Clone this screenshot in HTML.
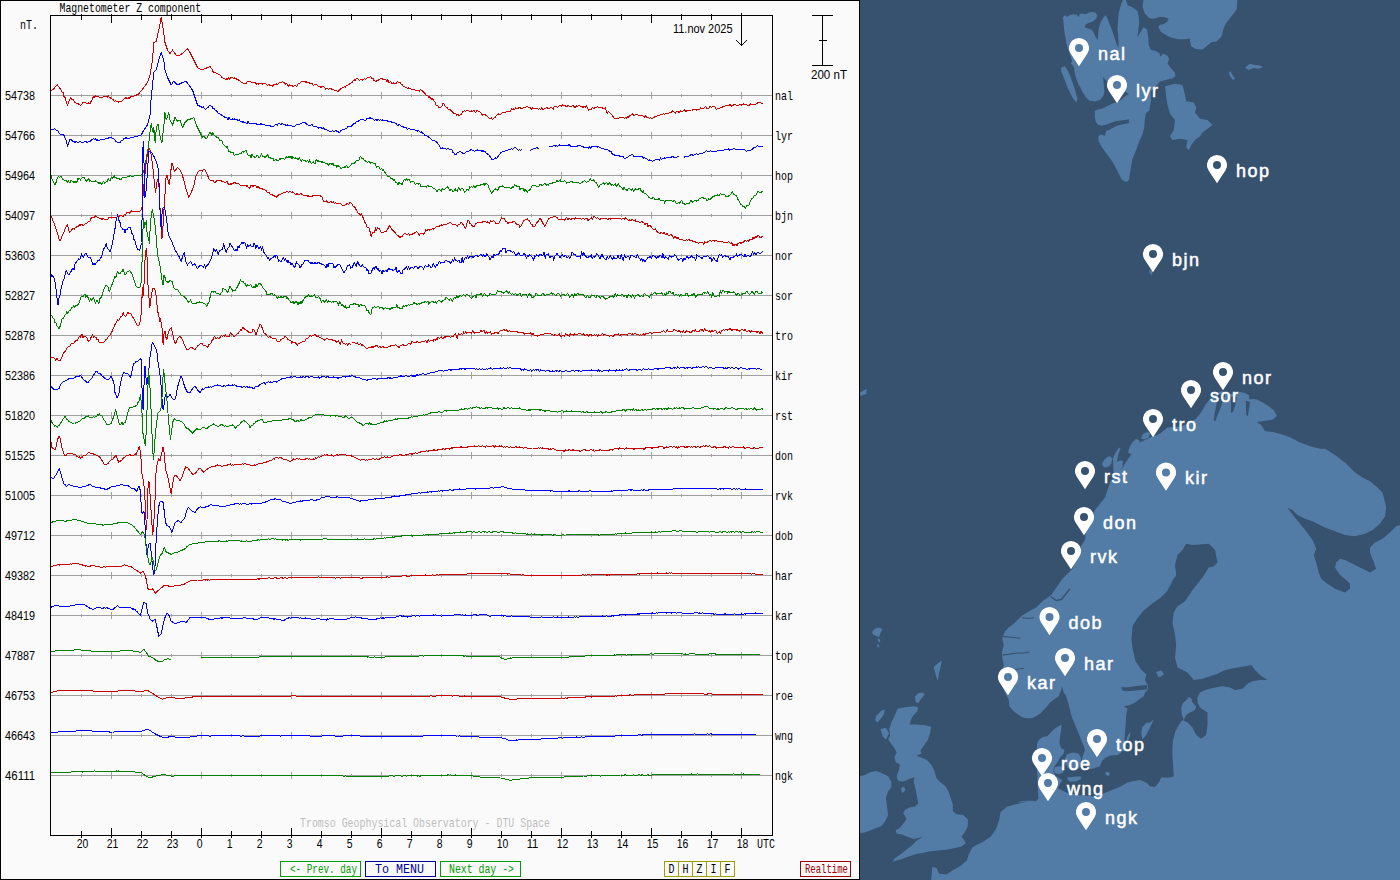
<!DOCTYPE html><html><head><meta charset="utf-8"><title>Magnetometer Z component</title><style>
html,body{margin:0;padding:0;width:1400px;height:880px;overflow:hidden;background:#fff}
svg{display:block}
.m{font-family:"Liberation Sans",Arial,sans-serif;font-size:12.6px}
.mm{font-family:"Liberation Mono","DejaVu Sans Mono",monospace;font-size:13px}
.lb{font-family:"Liberation Sans",Arial,sans-serif;font-weight:normal;font-size:18px;letter-spacing:1.5px;fill:#fff;stroke:#fff;stroke-width:0.5px}
</style></head><body>
<svg width="1400" height="880" viewBox="0 0 1400 880">
<rect x="0" y="0" width="860" height="880" fill="#fafafa"/>
<g shape-rendering="crispEdges" fill="none">
<path d="M0.5,0 V880 M0,0.5 H860 M859.5,0 V880 M0,879.5 H860" stroke="#000"/>
<path d="M51,95.5 H772 M81.5,94 V97 M111.5,92 V99 M141.5,94 V97 M171.5,94 V97 M201.5,92 V99 M231.5,94 V97 M261.5,94 V97 M291.5,92 V99 M321.5,94 V97 M351.5,94 V97 M381.5,92 V99 M411.5,94 V97 M441.5,94 V97 M471.5,92 V99 M501.5,94 V97 M531.5,94 V97 M561.5,92 V99 M591.5,94 V97 M621.5,94 V97 M651.5,92 V99 M681.5,94 V97 M711.5,94 V97 M741.5,92 V99 M51,135.5 H772 M81.5,134 V137 M111.5,132 V139 M141.5,134 V137 M171.5,134 V137 M201.5,132 V139 M231.5,134 V137 M261.5,134 V137 M291.5,132 V139 M321.5,134 V137 M351.5,134 V137 M381.5,132 V139 M411.5,134 V137 M441.5,134 V137 M471.5,132 V139 M501.5,134 V137 M531.5,134 V137 M561.5,132 V139 M591.5,134 V137 M621.5,134 V137 M651.5,132 V139 M681.5,134 V137 M711.5,134 V137 M741.5,132 V139 M51,175.5 H772 M81.5,174 V177 M111.5,172 V179 M141.5,174 V177 M171.5,174 V177 M201.5,172 V179 M231.5,174 V177 M261.5,174 V177 M291.5,172 V179 M321.5,174 V177 M351.5,174 V177 M381.5,172 V179 M411.5,174 V177 M441.5,174 V177 M471.5,172 V179 M501.5,174 V177 M531.5,174 V177 M561.5,172 V179 M591.5,174 V177 M621.5,174 V177 M651.5,172 V179 M681.5,174 V177 M711.5,174 V177 M741.5,172 V179 M51,215.5 H772 M81.5,214 V217 M111.5,212 V219 M141.5,214 V217 M171.5,214 V217 M201.5,212 V219 M231.5,214 V217 M261.5,214 V217 M291.5,212 V219 M321.5,214 V217 M351.5,214 V217 M381.5,212 V219 M411.5,214 V217 M441.5,214 V217 M471.5,212 V219 M501.5,214 V217 M531.5,214 V217 M561.5,212 V219 M591.5,214 V217 M621.5,214 V217 M651.5,212 V219 M681.5,214 V217 M711.5,214 V217 M741.5,212 V219 M51,255.5 H772 M81.5,254 V257 M111.5,252 V259 M141.5,254 V257 M171.5,254 V257 M201.5,252 V259 M231.5,254 V257 M261.5,254 V257 M291.5,252 V259 M321.5,254 V257 M351.5,254 V257 M381.5,252 V259 M411.5,254 V257 M441.5,254 V257 M471.5,252 V259 M501.5,254 V257 M531.5,254 V257 M561.5,252 V259 M591.5,254 V257 M621.5,254 V257 M651.5,252 V259 M681.5,254 V257 M711.5,254 V257 M741.5,252 V259 M51,295.5 H772 M81.5,294 V297 M111.5,292 V299 M141.5,294 V297 M171.5,294 V297 M201.5,292 V299 M231.5,294 V297 M261.5,294 V297 M291.5,292 V299 M321.5,294 V297 M351.5,294 V297 M381.5,292 V299 M411.5,294 V297 M441.5,294 V297 M471.5,292 V299 M501.5,294 V297 M531.5,294 V297 M561.5,292 V299 M591.5,294 V297 M621.5,294 V297 M651.5,292 V299 M681.5,294 V297 M711.5,294 V297 M741.5,292 V299 M51,335.5 H772 M81.5,334 V337 M111.5,332 V339 M141.5,334 V337 M171.5,334 V337 M201.5,332 V339 M231.5,334 V337 M261.5,334 V337 M291.5,332 V339 M321.5,334 V337 M351.5,334 V337 M381.5,332 V339 M411.5,334 V337 M441.5,334 V337 M471.5,332 V339 M501.5,334 V337 M531.5,334 V337 M561.5,332 V339 M591.5,334 V337 M621.5,334 V337 M651.5,332 V339 M681.5,334 V337 M711.5,334 V337 M741.5,332 V339 M51,375.5 H772 M81.5,374 V377 M111.5,372 V379 M141.5,374 V377 M171.5,374 V377 M201.5,372 V379 M231.5,374 V377 M261.5,374 V377 M291.5,372 V379 M321.5,374 V377 M351.5,374 V377 M381.5,372 V379 M411.5,374 V377 M441.5,374 V377 M471.5,372 V379 M501.5,374 V377 M531.5,374 V377 M561.5,372 V379 M591.5,374 V377 M621.5,374 V377 M651.5,372 V379 M681.5,374 V377 M711.5,374 V377 M741.5,372 V379 M51,415.5 H772 M81.5,414 V417 M111.5,412 V419 M141.5,414 V417 M171.5,414 V417 M201.5,412 V419 M231.5,414 V417 M261.5,414 V417 M291.5,412 V419 M321.5,414 V417 M351.5,414 V417 M381.5,412 V419 M411.5,414 V417 M441.5,414 V417 M471.5,412 V419 M501.5,414 V417 M531.5,414 V417 M561.5,412 V419 M591.5,414 V417 M621.5,414 V417 M651.5,412 V419 M681.5,414 V417 M711.5,414 V417 M741.5,412 V419 M51,455.5 H772 M81.5,454 V457 M111.5,452 V459 M141.5,454 V457 M171.5,454 V457 M201.5,452 V459 M231.5,454 V457 M261.5,454 V457 M291.5,452 V459 M321.5,454 V457 M351.5,454 V457 M381.5,452 V459 M411.5,454 V457 M441.5,454 V457 M471.5,452 V459 M501.5,454 V457 M531.5,454 V457 M561.5,452 V459 M591.5,454 V457 M621.5,454 V457 M651.5,452 V459 M681.5,454 V457 M711.5,454 V457 M741.5,452 V459 M51,495.5 H772 M81.5,494 V497 M111.5,492 V499 M141.5,494 V497 M171.5,494 V497 M201.5,492 V499 M231.5,494 V497 M261.5,494 V497 M291.5,492 V499 M321.5,494 V497 M351.5,494 V497 M381.5,492 V499 M411.5,494 V497 M441.5,494 V497 M471.5,492 V499 M501.5,494 V497 M531.5,494 V497 M561.5,492 V499 M591.5,494 V497 M621.5,494 V497 M651.5,492 V499 M681.5,494 V497 M711.5,494 V497 M741.5,492 V499 M51,535.5 H772 M81.5,534 V537 M111.5,532 V539 M141.5,534 V537 M171.5,534 V537 M201.5,532 V539 M231.5,534 V537 M261.5,534 V537 M291.5,532 V539 M321.5,534 V537 M351.5,534 V537 M381.5,532 V539 M411.5,534 V537 M441.5,534 V537 M471.5,532 V539 M501.5,534 V537 M531.5,534 V537 M561.5,532 V539 M591.5,534 V537 M621.5,534 V537 M651.5,532 V539 M681.5,534 V537 M711.5,534 V537 M741.5,532 V539 M51,575.5 H772 M81.5,574 V577 M111.5,572 V579 M141.5,574 V577 M171.5,574 V577 M201.5,572 V579 M231.5,574 V577 M261.5,574 V577 M291.5,572 V579 M321.5,574 V577 M351.5,574 V577 M381.5,572 V579 M411.5,574 V577 M441.5,574 V577 M471.5,572 V579 M501.5,574 V577 M531.5,574 V577 M561.5,572 V579 M591.5,574 V577 M621.5,574 V577 M651.5,572 V579 M681.5,574 V577 M711.5,574 V577 M741.5,572 V579 M51,615.5 H772 M81.5,614 V617 M111.5,612 V619 M141.5,614 V617 M171.5,614 V617 M201.5,612 V619 M231.5,614 V617 M261.5,614 V617 M291.5,612 V619 M321.5,614 V617 M351.5,614 V617 M381.5,612 V619 M411.5,614 V617 M441.5,614 V617 M471.5,612 V619 M501.5,614 V617 M531.5,614 V617 M561.5,612 V619 M591.5,614 V617 M621.5,614 V617 M651.5,612 V619 M681.5,614 V617 M711.5,614 V617 M741.5,612 V619 M51,655.5 H772 M81.5,654 V657 M111.5,652 V659 M141.5,654 V657 M171.5,654 V657 M201.5,652 V659 M231.5,654 V657 M261.5,654 V657 M291.5,652 V659 M321.5,654 V657 M351.5,654 V657 M381.5,652 V659 M411.5,654 V657 M441.5,654 V657 M471.5,652 V659 M501.5,654 V657 M531.5,654 V657 M561.5,652 V659 M591.5,654 V657 M621.5,654 V657 M651.5,652 V659 M681.5,654 V657 M711.5,654 V657 M741.5,652 V659 M51,695.5 H772 M81.5,694 V697 M111.5,692 V699 M141.5,694 V697 M171.5,694 V697 M201.5,692 V699 M231.5,694 V697 M261.5,694 V697 M291.5,692 V699 M321.5,694 V697 M351.5,694 V697 M381.5,692 V699 M411.5,694 V697 M441.5,694 V697 M471.5,692 V699 M501.5,694 V697 M531.5,694 V697 M561.5,692 V699 M591.5,694 V697 M621.5,694 V697 M651.5,692 V699 M681.5,694 V697 M711.5,694 V697 M741.5,692 V699 M51,735.5 H772 M81.5,734 V737 M111.5,732 V739 M141.5,734 V737 M171.5,734 V737 M201.5,732 V739 M231.5,734 V737 M261.5,734 V737 M291.5,732 V739 M321.5,734 V737 M351.5,734 V737 M381.5,732 V739 M411.5,734 V737 M441.5,734 V737 M471.5,732 V739 M501.5,734 V737 M531.5,734 V737 M561.5,732 V739 M591.5,734 V737 M621.5,734 V737 M651.5,732 V739 M681.5,734 V737 M711.5,734 V737 M741.5,732 V739 M51,775.5 H772 M81.5,774 V777 M111.5,772 V779 M141.5,774 V777 M171.5,774 V777 M201.5,772 V779 M231.5,774 V777 M261.5,774 V777 M291.5,772 V779 M321.5,774 V777 M351.5,774 V777 M381.5,772 V779 M411.5,774 V777 M441.5,774 V777 M471.5,772 V779 M501.5,774 V777 M531.5,774 V777 M561.5,772 V779 M591.5,774 V777 M621.5,774 V777 M651.5,772 V779 M681.5,774 V777 M711.5,774 V777 M741.5,772 V779" stroke="#a0a0a0"/>
<path d="M50.5,15 V836 M50,15.5 H773 M772.5,15 V836 M50,835.5 H773" stroke="#000"/>
<path d="M81.5,14 V20 M81.5,831 V838 M111.5,14 V23 M111.5,828 V838 M141.5,14 V20 M141.5,831 V838 M171.5,14 V20 M171.5,831 V838 M201.5,14 V23 M201.5,828 V838 M231.5,14 V20 M231.5,831 V838 M261.5,14 V20 M261.5,831 V838 M291.5,14 V23 M291.5,828 V838 M321.5,14 V20 M321.5,831 V838 M351.5,14 V20 M351.5,831 V838 M381.5,14 V23 M381.5,828 V838 M411.5,14 V20 M411.5,831 V838 M441.5,14 V20 M441.5,831 V838 M471.5,14 V23 M471.5,828 V838 M501.5,14 V20 M501.5,831 V838 M531.5,14 V20 M531.5,831 V838 M561.5,14 V23 M561.5,828 V838 M591.5,14 V20 M591.5,831 V838 M621.5,14 V20 M621.5,831 V838 M651.5,14 V23 M651.5,828 V838 M681.5,14 V20 M681.5,831 V838 M711.5,14 V20 M711.5,831 V838 M741.5,14 V23 M741.5,828 V838" stroke="#000"/>
<path d="M741.5,13 V46 M736.5,40.5 L741.5,45.5 L746.5,40.5" stroke="#000"/>
<path d="M812,15.5 H833 M822.5,15 V66 M812,65.5 H833 M819,40.5 H827" stroke="#000"/>
</g>
<text class="mm" x="59.5" y="12" fill="#000" textLength="141.6" lengthAdjust="spacingAndGlyphs">Magnetometer Z component</text>
<text class="mm" x="20" y="29" fill="#000" textLength="18.0" lengthAdjust="spacingAndGlyphs">nT.</text>
<text class="m" x="673" y="33" fill="#000" textLength="59.5" lengthAdjust="spacingAndGlyphs">11.nov 2025</text>
<text class="m" x="811" y="79" fill="#000" textLength="36.0" lengthAdjust="spacingAndGlyphs">200 nT</text>
<text class="m" x="5" y="100" fill="#000" textLength="30.0" lengthAdjust="spacingAndGlyphs">54738</text>
<text class="mm" x="775" y="100" fill="#000" textLength="18.0" lengthAdjust="spacingAndGlyphs">nal</text>
<text class="m" x="5" y="140" fill="#000" textLength="30.0" lengthAdjust="spacingAndGlyphs">54766</text>
<text class="mm" x="775" y="140" fill="#000" textLength="18.0" lengthAdjust="spacingAndGlyphs">lyr</text>
<text class="m" x="5" y="180" fill="#000" textLength="30.0" lengthAdjust="spacingAndGlyphs">54964</text>
<text class="mm" x="775" y="180" fill="#000" textLength="18.0" lengthAdjust="spacingAndGlyphs">hop</text>
<text class="m" x="5" y="220" fill="#000" textLength="30.0" lengthAdjust="spacingAndGlyphs">54097</text>
<text class="mm" x="775" y="220" fill="#000" textLength="18.0" lengthAdjust="spacingAndGlyphs">bjn</text>
<text class="m" x="5" y="260" fill="#000" textLength="30.0" lengthAdjust="spacingAndGlyphs">53603</text>
<text class="mm" x="775" y="260" fill="#000" textLength="18.0" lengthAdjust="spacingAndGlyphs">nor</text>
<text class="m" x="5" y="300" fill="#000" textLength="30.0" lengthAdjust="spacingAndGlyphs">52827</text>
<text class="mm" x="775" y="300" fill="#000" textLength="18.0" lengthAdjust="spacingAndGlyphs">sor</text>
<text class="m" x="5" y="340" fill="#000" textLength="30.0" lengthAdjust="spacingAndGlyphs">52878</text>
<text class="mm" x="775" y="340" fill="#000" textLength="18.0" lengthAdjust="spacingAndGlyphs">tro</text>
<text class="m" x="5" y="380" fill="#000" textLength="30.0" lengthAdjust="spacingAndGlyphs">52386</text>
<text class="mm" x="775" y="380" fill="#000" textLength="18.0" lengthAdjust="spacingAndGlyphs">kir</text>
<text class="m" x="5" y="420" fill="#000" textLength="30.0" lengthAdjust="spacingAndGlyphs">51820</text>
<text class="mm" x="775" y="420" fill="#000" textLength="18.0" lengthAdjust="spacingAndGlyphs">rst</text>
<text class="m" x="5" y="460" fill="#000" textLength="30.0" lengthAdjust="spacingAndGlyphs">51525</text>
<text class="mm" x="775" y="460" fill="#000" textLength="18.0" lengthAdjust="spacingAndGlyphs">don</text>
<text class="m" x="5" y="500" fill="#000" textLength="30.0" lengthAdjust="spacingAndGlyphs">51005</text>
<text class="mm" x="775" y="500" fill="#000" textLength="18.0" lengthAdjust="spacingAndGlyphs">rvk</text>
<text class="m" x="5" y="540" fill="#000" textLength="30.0" lengthAdjust="spacingAndGlyphs">49712</text>
<text class="mm" x="775" y="540" fill="#000" textLength="18.0" lengthAdjust="spacingAndGlyphs">dob</text>
<text class="m" x="5" y="580" fill="#000" textLength="30.0" lengthAdjust="spacingAndGlyphs">49382</text>
<text class="mm" x="775" y="580" fill="#000" textLength="18.0" lengthAdjust="spacingAndGlyphs">har</text>
<text class="m" x="5" y="620" fill="#000" textLength="30.0" lengthAdjust="spacingAndGlyphs">48419</text>
<text class="mm" x="775" y="620" fill="#000" textLength="18.0" lengthAdjust="spacingAndGlyphs">kar</text>
<text class="m" x="5" y="660" fill="#000" textLength="30.0" lengthAdjust="spacingAndGlyphs">47887</text>
<text class="mm" x="775" y="660" fill="#000" textLength="18.0" lengthAdjust="spacingAndGlyphs">top</text>
<text class="m" x="5" y="700" fill="#000" textLength="30.0" lengthAdjust="spacingAndGlyphs">46753</text>
<text class="mm" x="775" y="700" fill="#000" textLength="18.0" lengthAdjust="spacingAndGlyphs">roe</text>
<text class="m" x="5" y="740" fill="#000" textLength="30.0" lengthAdjust="spacingAndGlyphs">46643</text>
<text class="mm" x="775" y="740" fill="#000" textLength="18.0" lengthAdjust="spacingAndGlyphs">wng</text>
<text class="m" x="5" y="780" fill="#000" textLength="30.0" lengthAdjust="spacingAndGlyphs">46111</text>
<text class="mm" x="775" y="780" fill="#000" textLength="18.0" lengthAdjust="spacingAndGlyphs">ngk</text>
<text class="m" x="76.7" y="848" fill="#000" textLength="11.6" lengthAdjust="spacingAndGlyphs">20</text>
<text class="m" x="106.7" y="848" fill="#000" textLength="11.6" lengthAdjust="spacingAndGlyphs">21</text>
<text class="m" x="136.7" y="848" fill="#000" textLength="11.6" lengthAdjust="spacingAndGlyphs">22</text>
<text class="m" x="166.7" y="848" fill="#000" textLength="11.6" lengthAdjust="spacingAndGlyphs">23</text>
<text class="m" x="196.7" y="848" fill="#000" textLength="5.8" lengthAdjust="spacingAndGlyphs">0</text>
<text class="m" x="226.7" y="848" fill="#000" textLength="5.8" lengthAdjust="spacingAndGlyphs">1</text>
<text class="m" x="256.7" y="848" fill="#000" textLength="5.8" lengthAdjust="spacingAndGlyphs">2</text>
<text class="m" x="286.7" y="848" fill="#000" textLength="5.8" lengthAdjust="spacingAndGlyphs">3</text>
<text class="m" x="316.7" y="848" fill="#000" textLength="5.8" lengthAdjust="spacingAndGlyphs">4</text>
<text class="m" x="346.7" y="848" fill="#000" textLength="5.8" lengthAdjust="spacingAndGlyphs">5</text>
<text class="m" x="376.7" y="848" fill="#000" textLength="5.8" lengthAdjust="spacingAndGlyphs">6</text>
<text class="m" x="406.7" y="848" fill="#000" textLength="5.8" lengthAdjust="spacingAndGlyphs">7</text>
<text class="m" x="436.7" y="848" fill="#000" textLength="5.8" lengthAdjust="spacingAndGlyphs">8</text>
<text class="m" x="466.7" y="848" fill="#000" textLength="5.8" lengthAdjust="spacingAndGlyphs">9</text>
<text class="m" x="496.7" y="848" fill="#000" textLength="11.6" lengthAdjust="spacingAndGlyphs">10</text>
<text class="m" x="526.7" y="848" fill="#000" textLength="11.6" lengthAdjust="spacingAndGlyphs">11</text>
<text class="m" x="556.7" y="848" fill="#000" textLength="11.6" lengthAdjust="spacingAndGlyphs">12</text>
<text class="m" x="586.7" y="848" fill="#000" textLength="11.6" lengthAdjust="spacingAndGlyphs">13</text>
<text class="m" x="616.7" y="848" fill="#000" textLength="11.6" lengthAdjust="spacingAndGlyphs">14</text>
<text class="m" x="646.7" y="848" fill="#000" textLength="11.6" lengthAdjust="spacingAndGlyphs">15</text>
<text class="m" x="676.7" y="848" fill="#000" textLength="11.6" lengthAdjust="spacingAndGlyphs">16</text>
<text class="m" x="706.7" y="848" fill="#000" textLength="11.6" lengthAdjust="spacingAndGlyphs">17</text>
<text class="m" x="736.7" y="848" fill="#000" textLength="11.6" lengthAdjust="spacingAndGlyphs">18</text>
<text class="mm" x="757" y="848" fill="#000" textLength="18.0" lengthAdjust="spacingAndGlyphs">UTC</text>
<path d="M51.0,91.2 L52.1,90.1 L53.2,89.2 L54.2,88.5 L55.3,86.9 L56.4,85.9 L57.5,85.0 L58.4,86.4 L59.4,87.7 L60.3,88.9 L61.2,90.0 L62.2,92.1 L63.1,92.7 L64.1,96.9 L65.0,97.5 L66.2,101.6 L67.5,105.0 L68.8,101.7 L70.0,98.8 L71.0,97.7 L72.0,99.5 L73.0,99.2 L74.0,101.1 L75.0,102.5 L76.0,103.0 L77.0,103.9 L78.0,103.3 L79.0,104.5 L80.0,105.0 L81.0,105.0 L82.0,104.2 L83.0,102.4 L84.0,102.1 L85.0,102.5 L86.0,102.9 L87.0,104.3 L88.0,103.3 L89.0,102.8 L90.0,103.8 L90.9,101.5 L91.9,100.6 L92.8,97.8 L93.8,96.2 L94.8,97.3 L95.8,95.5 L96.9,96.7 L97.9,96.6 L99.0,96.8 L100.0,97.5 L101.0,97.9 L102.1,97.8 L103.1,97.0 L104.2,96.5 L105.2,96.9 L106.2,96.2 L107.2,97.4 L108.2,95.9 L109.2,97.4 L110.2,97.9 L111.2,98.8 L112.2,99.1 L113.2,99.5 L114.2,101.4 L115.2,100.6 L116.2,101.2 L117.5,101.2 L118.8,102.5 L119.8,101.4 L120.8,101.2 L121.9,101.1 L122.9,100.0 L124.0,98.7 L125.0,98.8 L125.9,97.8 L126.9,98.2 L127.8,98.8 L128.8,97.5 L129.7,98.1 L130.6,96.3 L131.6,96.1 L132.5,96.2 L133.5,96.5 L134.6,95.4 L135.6,95.9 L136.7,94.7 L137.7,94.4 L138.8,93.8 L143.8,87.5 L147.5,82.5 L150.0,75.0 L152.5,60.0 L153.8,42.5 L156.2,41.2 L158.8,30.0 L161.2,17.5 L163.0,27.5 L165.0,42.5 L167.5,50.0 L170.0,53.8 L172.5,50.0 L176.2,55.0 L180.0,55.0 L183.8,52.5 L187.5,48.8 L190.0,52.5 L193.8,60.0 L197.5,67.5 L201.2,70.0 L202.2,69.4 L203.1,69.6 L204.1,68.8 L205.0,68.8 L206.0,69.0 L207.0,66.9 L208.0,67.3 L209.0,67.1 L210.0,66.2 L210.9,67.8 L211.9,69.1 L212.8,71.4 L213.8,72.5 L214.7,73.0 L215.6,72.2 L216.6,73.7 L217.5,73.8 L218.8,74.3 L220.0,75.0 L221.0,75.8 L222.0,77.8 L223.0,78.0 L224.0,78.6 L225.0,78.8 L225.9,79.9 L226.9,78.0 L227.8,79.2 L228.8,77.8 L229.7,79.4 L230.6,77.7 L231.6,78.0 L232.5,77.5 L233.4,78.4 L234.4,77.8 L235.3,78.7 L236.2,78.8 L237.2,79.6 L238.1,79.8 L239.1,80.5 L240.0,81.2 L241.0,81.9 L242.0,82.5 L243.0,82.8 L244.0,83.7 L245.0,83.8 L246.0,83.4 L247.0,82.1 L248.0,81.7 L249.0,82.0 L250.0,81.2 L250.9,82.1 L251.9,82.0 L252.8,82.9 L253.8,82.6 L254.7,82.4 L255.6,82.9 L256.6,84.4 L257.5,83.8 L258.4,84.1 L259.4,83.3 L260.3,83.0 L261.2,83.4 L262.2,84.2 L263.1,83.6 L264.1,83.6 L265.0,83.8 L265.9,83.6 L266.9,84.9 L267.8,85.4 L268.8,84.3 L269.7,85.8 L270.6,86.0 L271.6,85.3 L272.5,86.2 L273.4,85.0 L274.4,84.2 L275.3,84.8 L276.2,83.8 L277.3,84.5 L278.3,84.0 L279.4,82.3 L280.4,82.0 L281.5,82.3 L282.5,81.2 L283.5,82.5 L284.5,82.6 L285.5,84.3 L286.5,83.4 L287.5,85.0 L288.5,86.2 L289.5,84.9 L290.5,85.3 L291.5,85.2 L292.5,86.2 L293.5,86.3 L294.5,85.8 L295.5,85.7 L296.5,86.4 L297.5,85.0 L298.5,83.5 L299.5,83.4 L300.5,82.2 L301.5,81.5 L302.5,81.2 L303.4,81.4 L304.4,81.5 L305.3,82.3 L306.2,81.6 L307.2,83.1 L308.1,82.3 L309.1,82.7 L310.0,83.8 L311.0,83.9 L312.0,83.5 L313.0,85.1 L314.0,85.1 L315.0,84.9 L316.0,84.6 L317.0,85.1 L318.0,85.9 L319.0,86.3 L320.0,86.2 L320.9,87.5 L321.9,86.7 L322.8,86.7 L323.8,86.9 L324.7,87.8 L325.6,89.3 L326.6,88.3 L327.5,88.8 L328.4,89.5 L329.4,88.8 L330.3,88.6 L331.2,88.9 L332.2,89.9 L333.1,89.3 L334.1,90.0 L335.0,90.0 L336.2,90.2 L337.5,91.2 L338.5,91.1 L339.5,90.1 L340.5,88.9 L341.5,88.4 L342.5,87.5 L343.4,87.7 L344.4,86.6 L345.3,87.1 L346.2,86.0 L347.2,85.8 L348.1,84.7 L349.1,84.2 L350.0,83.8 L351.0,83.1 L352.1,82.6 L353.1,80.8 L354.2,79.7 L355.2,80.8 L356.2,78.8 L357.3,78.4 L358.3,79.2 L359.4,80.3 L360.4,79.4 L361.5,80.0 L362.5,80.0 L363.5,79.4 L364.6,78.7 L365.6,79.5 L366.7,78.0 L367.7,77.3 L368.8,77.0 L369.8,77.0 L370.8,76.9 L371.9,79.1 L372.9,78.4 L374.0,80.5 L375.0,81.2 L376.0,81.9 L377.0,80.6 L378.0,80.3 L379.0,79.5 L380.0,79.2 L381.0,78.6 L382.0,79.2 L383.0,78.7 L384.0,80.1 L385.0,78.8 L385.9,80.1 L386.9,82.0 L387.8,79.7 L388.8,82.5 L389.7,82.1 L390.6,81.2 L391.6,83.7 L392.5,83.8 L393.4,82.8 L394.4,83.6 L395.3,83.5 L396.2,83.3 L397.2,81.6 L398.1,82.2 L399.1,82.5 L400.0,82.3 L401.1,84.2 L402.1,84.5 L403.2,86.1 L404.3,86.0 L405.4,87.7 L406.4,87.5 L407.5,88.3 L408.6,88.0 L409.6,88.5 L410.7,89.0 L411.8,89.7 L412.9,89.4 L413.9,89.5 L415.0,90.0 L416.1,90.4 L417.1,90.9 L418.2,90.6 L419.3,91.4 L420.4,89.4 L421.4,90.4 L422.5,90.8 L423.6,92.5 L424.6,92.8 L425.7,94.8 L426.8,95.7 L427.9,96.1 L428.9,97.3 L430.0,96.8 L431.1,99.3 L432.1,98.4 L433.1,99.4 L434.1,100.9 L435.0,101.9 L436.0,105.0 L436.9,105.7 L437.9,105.9 L438.8,107.8 L439.8,107.5 L440.9,106.9 L441.9,106.0 L442.9,103.8 L443.9,103.7 L445.0,106.3 L446.1,107.0 L447.1,107.4 L448.2,109.1 L449.3,109.4 L450.4,109.6 L451.4,111.1 L452.5,112.0 L453.6,113.1 L454.6,113.1 L455.7,113.9 L456.8,115.4 L457.9,114.2 L458.9,115.8 L459.9,114.9 L460.9,114.6 L461.9,113.0 L462.9,111.8 L464.0,110.8 L465.1,111.1 L466.2,110.9 L467.2,110.4 L468.3,110.5 L469.3,111.0 L470.3,112.0 L471.3,110.8 L472.3,111.8 L473.4,110.8 L474.5,110.9 L475.5,112.5 L476.6,111.0 L477.7,110.5 L478.8,111.4 L479.8,111.8 L480.9,113.1 L482.0,115.3 L483.0,114.5 L484.1,114.8 L485.2,114.8 L486.2,115.5 L487.3,116.1 L488.4,117.1 L489.4,118.7 L490.4,118.9 L491.4,117.8 L492.4,119.3 L493.4,118.7 L494.4,117.3 L495.4,117.1 L496.4,115.8 L497.5,114.6 L498.6,113.9 L499.6,114.7 L500.7,114.2 L501.8,113.1 L502.9,112.3 L503.9,112.6 L505.0,113.0 L506.1,112.1 L507.1,111.8 L508.2,111.3 L509.3,111.0 L510.4,111.1 L511.4,109.0 L512.5,109.6 L513.6,108.9 L514.6,109.6 L515.7,107.5 L516.8,108.5 L517.9,108.6 L518.9,107.7 L520.0,107.5 L521.1,108.5 L522.1,108.3 L523.2,107.8 L524.2,107.1 L525.2,107.4 L526.2,106.9 L527.2,106.4 L528.2,107.4 L529.2,107.6 L530.2,107.9 L531.2,109.6 L532.3,107.8 L533.4,108.8 L534.5,108.7 L535.5,108.5 L536.6,108.6 L537.6,108.5 L538.6,109.2 L539.6,108.7 L540.6,109.7 L541.6,107.1 L542.6,109.4 L543.6,109.1 L544.6,108.6 L545.7,108.4 L546.8,107.4 L547.9,108.4 L548.9,108.5 L550.0,107.8 L551.1,107.7 L552.1,107.9 L553.2,109.3 L554.3,106.7 L555.4,106.4 L556.4,106.3 L557.5,107.6 L558.6,106.1 L559.6,105.9 L560.7,105.1 L561.8,106.6 L562.9,104.8 L563.9,106.1 L565.0,105.6 L566.1,106.4 L567.1,106.4 L568.2,105.3 L569.3,106.7 L570.4,106.4 L571.4,106.4 L572.5,105.9 L573.6,105.8 L574.6,107.2 L575.7,107.0 L576.8,105.9 L577.9,106.2 L578.9,105.7 L580.0,106.0 L581.1,106.8 L582.1,106.4 L583.2,108.0 L584.3,106.1 L585.4,107.5 L586.4,105.9 L587.5,107.8 L588.4,110.5 L589.3,109.1 L590.2,109.6 L591.3,109.3 L592.3,107.5 L593.4,108.1 L594.5,108.2 L595.5,107.0 L596.6,107.0 L597.7,106.7 L598.8,107.6 L599.8,107.2 L600.9,107.8 L602.0,107.5 L603.0,108.9 L604.1,109.0 L605.2,107.9 L606.2,110.5 L607.3,113.2 L608.4,111.8 L609.5,112.2 L610.5,113.5 L611.6,114.5 L612.6,116.3 L613.6,117.3 L614.6,118.6 L615.6,118.5 L616.6,118.1 L617.6,118.6 L618.6,118.2 L619.6,117.1 L620.6,117.5 L621.6,117.2 L622.5,117.7 L623.5,117.8 L624.4,118.2 L625.4,117.5 L626.3,118.5 L627.3,116.9 L628.4,117.8 L629.4,115.8 L630.4,115.8 L631.4,114.9 L632.5,114.0 L633.6,115.1 L634.6,115.1 L635.7,114.5 L636.8,114.6 L637.9,114.9 L638.9,115.3 L640.0,115.7 L641.1,115.8 L642.1,115.6 L643.2,116.1 L644.3,117.3 L645.4,115.9 L646.4,117.1 L647.5,117.1 L648.6,117.9 L649.6,118.4 L650.7,117.5 L651.8,118.5 L652.9,117.9 L653.9,118.0 L655.0,116.3 L656.1,116.4 L657.1,115.8 L658.2,116.0 L659.3,115.2 L660.4,114.9 L661.4,114.7 L662.5,114.5 L663.6,113.2 L664.6,114.7 L665.7,113.5 L666.8,113.3 L667.9,113.1 L668.9,113.1 L670.0,112.7 L671.1,113.1 L672.1,110.6 L673.2,111.8 L674.2,111.9 L675.2,113.3 L676.2,111.6 L677.2,111.6 L678.2,111.9 L679.2,112.4 L680.2,110.9 L681.2,111.2 L682.3,111.6 L683.3,110.9 L684.3,109.8 L685.3,111.0 L686.3,111.1 L687.3,110.5 L688.3,110.1 L689.3,110.5 L690.4,110.2 L691.4,110.0 L692.5,110.1 L693.6,109.4 L694.6,109.1 L695.7,109.2 L696.7,110.3 L697.7,109.5 L698.7,109.0 L699.7,109.3 L700.7,107.9 L701.7,108.7 L702.7,108.6 L703.7,108.6 L704.7,107.3 L705.7,106.7 L706.7,108.3 L707.7,108.3 L708.7,108.7 L709.7,106.0 L710.7,107.0 L711.7,107.2 L712.7,106.8 L713.7,106.9 L714.7,106.1 L715.7,108.7 L716.7,109.3 L717.7,108.1 L718.8,108.6 L719.8,108.1 L720.9,107.2 L722.0,107.7 L723.0,106.3 L724.1,106.4 L725.1,105.7 L726.1,106.0 L727.1,105.3 L728.1,105.8 L729.1,105.2 L730.1,104.6 L731.1,106.3 L732.1,105.1 L733.2,105.2 L734.2,104.7 L735.2,103.9 L736.2,105.4 L737.2,105.5 L738.2,105.0 L739.2,105.1 L740.2,104.5 L741.2,105.2 L742.2,104.7 L743.2,103.6 L744.2,104.6 L745.2,105.0 L746.2,104.5 L747.2,105.1 L748.2,105.1 L749.3,105.5 L750.4,104.0 L751.4,105.0 L752.5,104.1 L753.6,104.3 L754.6,104.2 L755.7,104.2 L756.8,103.3 L757.9,102.8 L758.9,103.0 L759.9,102.7 L760.9,102.6 L761.9,103.9 L763.0,103.8" fill="none" stroke="#cc0000" stroke-width="1.0" shape-rendering="crispEdges" stroke-linejoin="round"/>
<path d="M51.0,130.0 L52.0,129.5 L53.0,129.1 L54.0,129.0 L55.0,128.8 L56.0,130.0 L57.0,130.2 L58.0,130.6 L59.0,132.7 L60.0,133.8 L60.9,134.6 L61.9,134.1 L62.8,134.3 L63.8,135.0 L65.0,138.3 L66.2,140.0 L67.5,146.2 L68.8,142.8 L70.0,138.8 L71.0,139.5 L72.0,140.8 L73.0,141.3 L74.0,141.5 L75.0,142.5 L76.0,141.0 L77.0,141.9 L78.0,142.4 L79.0,141.8 L80.0,141.2 L80.9,142.1 L81.9,142.3 L82.8,142.2 L83.8,142.4 L84.7,141.5 L85.6,141.5 L86.6,142.0 L87.5,142.5 L88.5,141.8 L89.6,141.7 L90.6,141.1 L91.7,140.0 L92.7,139.0 L93.8,138.8 L94.8,139.6 L95.8,138.6 L96.9,140.6 L97.9,139.8 L99.0,140.4 L100.0,140.0 L101.0,139.9 L102.0,139.5 L103.0,140.0 L104.0,139.5 L105.0,138.8 L106.0,139.1 L107.0,138.1 L108.0,138.3 L109.0,137.4 L110.0,137.5 L111.0,137.4 L112.0,137.9 L113.0,139.0 L114.0,138.8 L115.0,140.0 L115.9,141.2 L116.9,142.1 L117.8,142.7 L118.8,142.5 L119.8,142.6 L120.8,141.5 L121.9,140.2 L122.9,140.0 L124.0,138.4 L125.0,138.8 L125.9,137.4 L126.9,138.3 L127.8,138.4 L128.8,138.2 L129.7,138.2 L130.6,137.4 L131.6,137.1 L132.5,137.5 L141.2,135.0 L143.8,130.0 L147.5,125.0 L150.0,115.0 L151.2,97.5 L152.5,85.0 L153.8,72.5 L156.2,70.0 L158.8,60.0 L161.2,52.5 L163.8,60.0 L165.0,70.0 L167.5,77.5 L171.2,85.0 L173.8,81.2 L177.5,85.0 L182.5,82.5 L186.2,81.2 L188.8,85.0 L192.5,90.0 L195.0,97.5 L197.5,105.0 L202.5,107.5 L203.4,106.8 L204.4,108.4 L205.3,109.6 L206.2,108.8 L207.2,107.7 L208.1,107.8 L209.1,105.9 L210.0,105.0 L211.0,106.0 L212.0,106.3 L213.0,109.1 L214.0,108.1 L215.0,110.0 L216.0,110.7 L217.0,111.6 L218.0,113.2 L219.0,113.0 L220.0,113.8 L221.0,114.5 L222.0,116.0 L223.0,115.9 L224.0,116.7 L225.0,117.5 L226.0,117.6 L227.0,117.7 L228.0,119.7 L229.0,117.5 L230.0,118.8 L230.9,119.8 L231.9,119.2 L232.8,118.9 L233.8,119.8 L234.7,118.6 L235.6,119.6 L236.6,119.8 L237.5,120.0 L238.4,120.6 L239.4,119.8 L240.3,121.9 L241.2,121.8 L242.2,122.3 L243.1,121.6 L244.1,122.6 L245.0,122.5 L246.0,123.0 L247.0,123.9 L248.0,121.6 L249.0,123.2 L250.0,123.3 L251.0,123.1 L252.0,123.2 L253.0,123.4 L254.0,123.9 L255.0,123.8 L256.0,123.4 L257.0,124.3 L258.0,124.2 L259.0,123.9 L260.0,124.4 L261.0,123.6 L262.0,124.5 L263.0,124.2 L264.0,124.8 L265.0,125.0 L265.9,125.3 L266.9,126.0 L267.8,125.5 L268.8,125.9 L269.7,125.2 L270.6,126.3 L271.6,126.2 L272.5,126.2 L273.4,126.7 L274.4,125.6 L275.3,124.3 L276.2,124.7 L277.2,125.2 L278.1,123.9 L279.1,123.6 L280.0,123.8 L280.9,124.6 L281.9,123.4 L282.8,124.0 L283.8,124.8 L284.7,124.6 L285.6,124.9 L286.6,126.0 L287.5,125.0 L288.5,125.1 L289.5,125.4 L290.5,125.7 L291.5,125.6 L292.5,126.2 L293.5,126.6 L294.5,126.3 L295.5,125.9 L296.5,124.6 L297.5,125.0 L298.5,124.4 L299.5,124.2 L300.5,123.5 L301.5,123.2 L302.5,122.5 L303.4,122.3 L304.4,122.1 L305.3,122.9 L306.2,123.6 L307.2,124.5 L308.1,125.3 L309.1,125.0 L310.0,125.5 L311.0,125.2 L312.0,124.5 L313.0,125.8 L314.0,127.0 L315.0,126.2 L316.0,126.9 L317.0,126.8 L318.0,127.7 L319.0,128.2 L320.0,127.5 L320.9,126.9 L321.9,128.2 L322.8,128.4 L323.8,127.8 L324.7,129.3 L325.6,129.4 L326.6,129.7 L327.5,130.5 L328.4,130.7 L329.4,131.1 L330.3,131.1 L331.2,131.9 L332.2,130.7 L333.1,131.2 L334.1,131.1 L335.0,131.2 L336.0,130.4 L337.0,131.9 L338.0,131.3 L339.0,132.4 L340.0,132.0 L341.0,130.2 L342.0,130.0 L343.0,129.8 L344.0,129.6 L345.0,128.8 L345.9,129.1 L346.9,128.2 L347.8,126.2 L348.8,126.3 L349.7,126.6 L350.6,126.7 L351.6,126.1 L352.5,125.0 L353.4,124.1 L354.4,123.2 L355.3,123.1 L356.2,121.7 L357.2,121.8 L358.1,121.2 L359.1,120.4 L360.0,120.0 L361.0,119.6 L362.0,119.6 L363.0,119.7 L364.0,120.0 L365.0,120.0 L366.0,120.1 L367.0,118.0 L368.0,118.0 L369.0,118.8 L370.0,117.5 L371.0,118.5 L372.0,118.1 L373.0,119.3 L374.0,120.0 L375.0,120.0 L375.9,119.5 L376.9,120.6 L377.8,119.4 L378.8,119.9 L379.7,120.1 L380.6,119.6 L381.6,120.7 L382.5,120.0 L383.4,120.7 L384.4,120.6 L385.3,121.0 L386.2,120.2 L387.2,120.9 L388.1,121.6 L389.1,121.4 L390.0,121.2 L391.0,121.8 L392.0,122.3 L393.0,122.1 L394.0,122.8 L395.0,122.8 L396.0,123.5 L397.0,125.2 L398.0,125.3 L399.0,124.6 L400.0,125.2 L401.1,126.1 L402.1,126.8 L403.2,126.9 L404.3,127.5 L405.4,127.9 L406.4,127.7 L407.5,129.9 L408.6,128.6 L409.6,129.0 L410.7,129.2 L411.8,129.9 L412.9,129.2 L413.9,129.9 L415.0,129.9 L416.1,130.5 L417.1,131.2 L418.2,130.3 L419.3,131.5 L420.4,132.1 L421.4,131.9 L422.5,133.1 L423.6,133.6 L424.6,135.1 L425.7,135.6 L426.8,135.9 L427.9,136.6 L428.9,137.3 L430.0,138.1 L431.1,139.3 L432.1,139.9 L433.1,140.6 L434.1,140.5 L435.2,141.2 L436.2,141.2 L437.2,142.9 L438.2,144.1 L439.2,145.1 L440.2,147.9 L441.3,148.9 L442.3,147.7 L443.4,148.7 L444.5,148.9 L445.5,148.8 L446.6,149.3 L447.7,148.7 L448.8,148.7 L449.8,149.7 L450.9,149.3 L451.9,150.1 L452.9,152.5 L453.9,153.1 L454.9,154.6 L455.9,154.9 L456.9,153.0 L457.9,152.3 L458.9,152.0 L460.0,151.9 L461.1,151.9 L462.1,152.6 L463.2,153.8 L464.3,153.3 L465.4,152.5 L466.4,151.8 L467.5,151.8 L468.6,151.2 L469.6,150.6 L470.6,149.8 L471.6,149.6 L472.7,150.5 L473.7,150.7 L474.7,151.3 L475.7,150.1 L476.7,150.9 L477.7,149.8 L478.8,150.2 L479.8,150.0 L480.9,150.1 L482.0,151.4 L483.0,150.6 L484.1,151.8 L485.2,151.3 L486.2,153.2 L487.3,153.7 L488.4,154.6 L489.4,155.3 L490.4,157.4 L491.4,158.9 L492.4,160.0 L493.4,159.9 L494.4,158.8 L495.4,158.0 L496.4,158.7 L497.5,157.7 L498.6,155.3 L499.6,154.8 L500.7,152.0 L501.8,152.0 L502.9,151.6 L503.9,152.1 L505.0,151.0 L506.1,150.9 L507.1,150.6 L508.2,149.6 L509.3,149.4 L510.4,149.8 L511.4,148.9 L512.5,149.3 L513.4,148.8 L514.3,147.6 L515.2,147.9 L516.2,147.9 L517.2,149.2 L518.2,150.2 L519.2,149.8 L520.1,149.9 L521.0,150.3 L521.9,149.3 M529.9,150.6 L530.9,149.9 L531.9,149.4 L532.9,149.2 L533.9,148.8 L535.0,148.9 L536.1,148.1 L537.1,147.4 L538.2,148.5 L539.3,148.5 M548.7,147.1 L549.6,146.8 L550.6,146.6 L551.5,146.6 L552.5,146.7 L553.4,145.8 L554.4,145.1 L555.4,146.1 L556.4,145.9 L557.5,146.3 L558.6,145.3 L559.6,145.0 L560.7,145.3 L561.8,146.0 L562.9,145.6 L563.9,145.2 L565.0,145.8 L566.1,145.3 L567.1,145.6 L568.1,145.3 L569.1,144.4 L570.1,145.6 L571.1,146.4 L572.1,146.2 L573.1,146.7 L574.1,146.1 L575.1,146.8 L576.1,146.6 L577.1,146.6 L578.1,145.6 L579.1,145.4 L580.1,145.7 L581.1,146.0 L582.1,146.1 L583.2,146.9 L584.3,147.3 L585.4,147.2 L586.4,147.2 L587.5,147.9 L588.6,148.2 L589.6,146.6 L590.7,148.1 L591.8,146.6 L592.9,146.1 L593.9,146.8 L595.0,146.5 L596.1,146.4 L597.1,147.2 L598.2,146.6 L599.3,147.5 L600.4,147.5 L601.4,148.5 L602.5,148.2 L603.6,148.8 L604.6,149.4 L605.7,149.1 L606.8,149.3 L607.9,149.7 L608.9,150.6 L610.0,151.5 L611.1,151.6 L612.1,153.7 L613.2,154.7 L614.3,154.6 L615.4,155.8 L616.4,155.9 L617.5,155.7 L618.6,155.2 L619.6,156.0 L620.7,156.5 L621.8,156.1 L622.9,156.4 L623.9,158.0 L625.0,158.7 L626.1,158.1 L627.1,157.3 L628.2,156.8 L629.3,155.5 L630.4,155.2 L631.4,154.8 L632.5,154.5 L633.6,156.0 L634.6,157.0 L635.7,156.0 L636.8,156.0 L637.9,157.2 L638.9,156.4 L640.0,156.6 L641.1,156.8 L642.1,156.5 L643.2,158.6 L644.3,157.0 L645.4,158.3 L646.4,158.7 L647.5,159.2 L648.6,160.5 L649.6,159.9 L650.7,160.4 L651.8,160.8 L652.9,161.3 L653.9,160.2 L655.0,159.9 L656.1,159.6 L657.1,159.5 L658.2,159.0 L659.3,160.6 L660.4,158.0 L661.4,159.8 L662.5,158.7 L663.6,158.6 L664.6,158.0 L665.7,158.6 L666.8,157.1 L667.9,157.9 L668.9,157.5 L670.0,157.4 L671.1,157.5 L672.1,156.1 L673.2,156.8 L674.3,157.8 L675.4,157.3 L676.4,157.6 L677.5,156.5 L678.6,156.8 M683.9,157.3 L685.0,156.8 L686.1,156.5 L687.1,156.5 L688.2,156.5 L689.3,156.0 L690.4,155.1 L691.4,154.3 L692.5,155.1 L693.6,155.4 L694.6,154.6 L695.7,154.1 L696.8,153.7 L697.9,154.6 L698.9,153.9 L700.0,153.3 L701.1,153.0 L702.1,153.3 L703.2,152.8 L704.3,152.0 L705.4,152.0 L706.4,150.5 L707.5,151.3 L708.6,151.8 L709.6,151.2 L710.7,150.6 L711.8,151.5 L712.9,151.6 L713.9,151.6 L715.0,151.8 L716.1,151.4 L717.1,150.8 L718.2,150.4 L719.3,150.6 L720.4,150.7 L721.4,150.6 L722.5,150.8 L723.6,150.5 L724.6,149.8 L725.7,149.1 L726.8,149.3 L727.8,149.9 L728.8,148.6 L729.8,150.3 L730.8,149.2 L731.8,149.6 L732.8,149.1 L733.8,148.9 L734.8,148.8 L735.9,149.6 L737.0,149.4 L738.0,149.2 L739.1,149.8 L740.2,149.3 L741.1,149.5 L742.1,150.1 L743.1,149.7 L744.0,149.8 L745.0,150.1 L745.9,150.9 L746.9,151.2 L747.8,150.0 L748.8,150.9 L749.7,150.6 L750.7,150.2 L751.7,149.6 L752.6,148.7 L753.6,147.9 L754.6,147.2 L755.7,147.4 L756.8,146.2 L757.9,145.7 L758.9,146.6 L759.9,146.5 L760.9,146.8 L761.9,146.7 L763.0,146.6" fill="none" stroke="#0000ff" stroke-width="1.0" shape-rendering="crispEdges" stroke-linejoin="round"/>
<path d="M51.0,175.0 L51.8,178.3 L52.5,180.0 L53.8,182.7 L55.0,185.0 L56.2,182.1 L57.5,177.5 L58.4,176.8 L59.4,177.3 L60.3,176.9 L61.2,176.2 L62.2,178.1 L63.1,179.7 L64.1,180.1 L65.0,180.0 L66.2,180.6 L67.5,182.5 L68.4,180.4 L69.4,182.8 L70.3,182.4 L71.2,180.0 L72.2,181.4 L73.1,182.3 L74.1,181.7 L75.0,182.5 L75.9,181.4 L76.9,182.9 L77.8,178.3 L78.8,179.2 L79.7,178.6 L80.6,180.2 L81.6,178.1 L82.5,177.5 L83.5,177.3 L84.5,177.8 L85.5,180.1 L86.5,181.0 L87.5,180.0 L88.5,178.2 L89.6,181.1 L90.6,180.6 L91.7,181.8 L92.7,181.9 L93.8,181.2 L94.8,182.0 L95.8,180.7 L96.9,181.8 L97.9,182.4 L99.0,183.4 L100.0,182.5 L100.9,183.3 L101.9,184.4 L102.8,182.2 L103.8,181.8 L104.7,183.2 L105.6,182.3 L106.6,181.2 L107.5,181.2 L108.4,178.2 L109.4,181.0 L110.3,180.8 L111.2,177.2 L112.2,178.1 L113.1,177.8 L114.1,175.7 L115.0,177.5 L116.0,177.1 L117.0,178.9 L118.0,179.1 L119.0,178.3 L120.0,180.0 L121.0,179.9 L122.0,178.0 L123.0,177.5 L124.0,177.1 L125.0,177.5 L125.9,177.9 L126.9,176.9 L127.8,177.0 L128.8,176.7 L129.7,175.3 L130.6,175.8 L131.6,176.1 L132.5,176.2 L141.2,175.0 L143.1,172.5 L144.4,168.8 L145.6,162.5 L146.9,155.0 L148.1,148.8 L149.4,137.5 L150.0,132.5 L150.6,127.5 L151.2,123.8 L152.2,128.8 L153.1,132.5 L153.8,127.5 L154.4,136.2 L155.2,142.5 L156.0,132.5 L156.9,126.2 L158.1,123.8 L159.4,132.5 L160.6,138.8 L161.9,142.5 L163.1,132.5 L163.8,126.2 L164.4,120.0 L165.0,112.5 L166.2,120.0 L168.8,112.5 L170.0,120.0 L172.5,125.0 L175.0,117.5 L177.5,121.2 L180.0,120.0 L182.5,127.5 L185.0,122.5 L187.5,120.0 L191.2,118.8 L193.8,117.5 L196.2,125.0 L200.0,132.5 L202.5,137.5 L203.4,136.6 L204.4,136.7 L205.3,137.6 L206.2,138.8 L207.2,137.5 L208.1,136.0 L209.1,133.5 L210.0,132.5 L210.9,133.4 L211.9,135.4 L212.8,132.9 L213.8,135.0 L214.7,135.7 L215.6,136.1 L216.6,137.4 L217.5,137.5 L218.4,137.2 L219.4,139.9 L220.3,141.0 L221.2,140.0 L222.2,141.3 L223.1,144.4 L224.1,145.2 L225.0,146.2 L226.0,147.3 L227.0,146.5 L228.0,149.0 L229.0,152.1 L230.0,151.2 L231.0,152.8 L232.0,152.4 L233.0,152.0 L234.0,155.0 L235.0,155.0 L236.0,154.4 L237.0,153.8 L238.0,154.5 L239.0,154.1 L240.0,153.8 L241.0,154.0 L242.0,152.2 L243.0,151.4 L244.0,152.3 L245.0,151.2 L246.0,149.9 L247.0,152.7 L248.0,154.9 L249.0,156.0 L250.0,155.0 L251.0,158.1 L252.0,154.3 L253.0,156.3 L254.0,156.0 L255.0,157.5 L255.9,157.3 L256.9,155.4 L257.8,155.5 L258.8,157.8 L259.7,157.2 L260.6,155.7 L261.6,153.8 L262.5,156.2 L263.4,156.5 L264.4,156.6 L265.3,157.8 L266.2,156.2 L267.2,154.6 L268.1,155.6 L269.1,157.7 L270.0,157.5 L271.0,158.4 L272.0,158.6 L273.0,158.4 L274.0,160.6 L275.0,160.0 L275.9,159.4 L276.9,161.1 L277.8,160.6 L278.8,160.3 L279.7,158.5 L280.6,159.2 L281.6,158.3 L282.5,158.8 L283.4,158.6 L284.4,159.1 L285.3,159.0 L286.2,156.7 L287.2,157.6 L288.1,157.4 L289.1,155.9 L290.0,157.5 L290.9,156.3 L291.9,158.7 L292.8,156.8 L293.8,157.8 L294.7,158.9 L295.6,157.8 L296.6,158.6 L297.5,158.8 L298.4,159.7 L299.4,157.9 L300.3,159.7 L301.2,161.3 L302.2,159.7 L303.1,160.1 L304.1,161.1 L305.0,160.0 L305.9,161.4 L306.9,160.9 L307.8,160.5 L308.8,162.5 L309.7,159.9 L310.6,163.0 L311.6,163.2 L312.5,162.5 L313.4,161.9 L314.4,163.2 L315.3,163.7 L316.2,159.5 L317.2,161.4 L318.1,160.1 L319.1,161.6 L320.0,161.2 L320.9,161.0 L321.9,162.7 L322.8,161.9 L323.8,162.5 L324.7,163.0 L325.6,163.1 L326.6,163.4 L327.5,163.8 L328.4,165.2 L329.4,164.0 L330.3,163.8 L331.2,163.3 L332.2,165.1 L333.1,162.9 L334.1,166.1 L335.0,165.0 L335.9,165.1 L336.9,167.3 L337.8,165.4 L338.8,166.2 L339.7,166.7 L340.6,168.5 L341.6,168.5 L342.5,167.5 L343.4,167.2 L344.4,166.5 L345.3,167.8 L346.2,165.3 L347.2,166.3 L348.1,167.8 L349.1,167.0 L350.0,166.2 L351.0,164.9 L352.0,163.4 L353.0,164.0 L354.0,163.8 L355.0,162.5 L356.0,160.7 L357.1,160.6 L358.1,161.2 L359.2,159.9 L360.2,156.0 L361.2,157.5 L362.3,158.7 L363.3,158.9 L364.4,160.5 L365.4,161.0 L366.5,161.5 L367.5,162.5 L368.5,161.1 L369.5,162.1 L370.5,163.2 L371.5,162.6 L372.5,162.5 L373.5,163.7 L374.5,164.0 L375.5,163.9 L376.5,167.2 L377.5,166.2 L378.5,166.5 L379.5,167.3 L380.5,169.8 L381.5,168.4 L382.5,170.0 L383.5,169.5 L384.5,172.2 L385.5,173.2 L386.5,174.4 L387.5,176.2 L388.5,176.3 L389.5,176.7 L390.5,177.9 L391.5,178.9 L392.5,178.8 L393.4,180.2 L394.4,179.7 L395.3,182.0 L396.2,182.2 L397.2,183.3 L398.1,184.9 L399.1,182.3 L400.0,184.1 L401.1,183.4 L402.1,184.4 L403.2,181.3 L404.3,179.7 L405.4,180.1 L406.4,178.8 L407.4,180.1 L408.4,179.2 L409.4,179.5 L410.4,182.2 L411.4,181.0 L412.4,181.3 L413.4,181.4 L414.5,183.1 L415.5,184.4 L416.6,183.4 L417.7,183.8 L418.8,184.1 L419.8,183.2 L420.9,187.2 L422.0,186.3 L423.0,186.1 L424.1,186.2 L425.2,186.5 L426.2,187.2 L427.3,185.6 L428.4,186.0 L429.5,186.8 L430.5,187.0 L431.6,186.3 L432.7,187.8 L433.7,188.9 L434.8,188.9 L435.9,189.4 L437.0,191.8 L438.0,190.1 L439.1,189.5 L440.2,190.0 L441.3,191.8 L442.3,188.5 L443.4,189.8 L444.5,189.8 L445.5,188.1 L446.6,187.9 L447.7,186.9 L448.8,188.6 L449.8,190.8 L450.9,188.9 L452.0,190.3 L453.0,191.4 L454.1,190.8 L455.2,188.8 L456.2,190.8 L457.3,191.2 L458.4,187.8 L459.5,188.9 L460.5,190.0 L461.6,188.1 L462.6,188.4 L463.6,190.4 L464.6,192.7 L465.6,191.6 L466.6,189.8 L467.6,189.4 L468.6,190.4 L469.6,186.8 L470.6,187.1 L471.6,186.8 L472.7,187.5 L473.7,185.6 L474.7,187.9 L475.7,186.7 L476.7,185.9 L477.7,185.4 L478.8,185.5 L479.8,185.6 L480.9,184.7 L482.0,184.3 L483.0,184.6 L484.0,183.4 L485.0,185.4 L486.0,183.6 L487.1,184.1 L487.9,184.8 L488.8,187.8 L489.7,189.5 L490.6,190.6 L491.5,193.2 L492.4,192.1 L493.4,191.2 L494.4,189.6 L495.4,189.0 L496.4,189.5 L497.5,190.4 L498.6,188.5 L499.6,186.1 L500.7,186.5 L501.8,186.8 L502.9,185.6 L503.9,187.2 L505.0,187.5 L506.1,187.4 L507.1,188.1 L508.2,187.6 L509.3,187.8 L510.4,188.0 L511.4,188.2 L512.5,186.8 L513.6,187.1 L514.6,185.0 L515.7,185.3 L516.8,186.5 L517.9,186.8 L518.9,185.9 L520.0,189.6 L521.1,188.1 L522.1,188.0 L523.2,188.1 L524.2,191.5 L525.1,189.4 L526.1,190.5 L527.1,192.4 L528.0,190.8 L528.9,190.7 L529.9,189.8 L530.8,188.1 L531.7,186.1 L532.6,185.4 L533.6,185.3 L534.6,185.1 L535.6,185.1 L536.6,186.8 L537.7,186.6 L538.8,186.4 L539.8,184.7 L540.9,184.4 L542.0,185.4 L543.0,185.1 L544.1,183.6 L545.2,183.6 L546.2,185.6 L547.3,184.1 L548.4,185.3 L549.5,183.1 L550.5,183.1 L551.6,183.6 L552.7,182.8 L553.8,182.6 L554.8,182.6 L555.9,181.9 L557.0,180.7 L558.0,181.4 L559.1,181.1 L560.2,179.4 L561.2,181.9 L562.3,181.4 L563.4,181.4 L564.5,180.4 L565.5,181.6 L566.6,183.2 L567.7,182.8 L568.8,182.8 L569.8,182.3 L570.9,180.9 L572.0,181.2 L573.0,182.9 L574.1,182.8 L575.1,182.9 L576.1,182.6 L577.1,182.0 L578.1,182.0 L579.1,183.1 L580.1,183.8 L581.1,182.6 L582.1,182.8 L583.2,181.3 L584.3,180.7 L585.4,181.1 L586.4,182.3 L587.5,181.4 L588.4,181.8 L589.3,180.5 L590.2,178.8 L591.3,180.1 L592.3,180.4 L593.4,179.4 L594.5,181.2 L595.5,182.8 L596.5,182.4 L597.5,185.2 L598.6,187.2 L599.6,185.4 L600.6,184.4 L601.6,184.2 L602.6,183.7 L603.6,182.8 L604.6,184.8 L605.7,183.0 L606.8,182.6 L607.9,184.5 L608.9,183.6 L610.0,182.7 L611.1,185.3 L612.1,183.8 L613.2,185.6 L614.3,184.6 L615.4,183.3 L616.4,187.0 L617.5,184.4 L618.6,183.9 L619.6,186.8 L620.7,186.6 L621.8,187.3 L622.9,190.2 L623.9,187.3 L625.0,188.9 L626.1,189.3 L627.1,190.5 L628.2,188.8 L629.3,188.4 L630.4,189.5 L631.4,190.2 L632.5,189.0 L633.6,191.6 L634.6,189.8 L635.7,188.9 L636.8,189.2 L637.9,189.9 L638.9,188.5 L640.0,188.3 L641.1,190.8 L642.1,192.5 L643.2,190.3 L644.3,193.9 L645.4,193.6 L646.4,194.8 L647.5,195.3 L648.6,197.2 L649.6,197.0 L650.7,199.0 L651.8,198.8 L652.9,197.5 L653.9,197.8 L655.0,199.9 L656.1,199.3 L657.1,199.6 L658.2,199.1 L659.3,198.6 L660.4,200.6 L661.4,200.7 L662.5,200.7 L663.6,200.2 L664.6,203.1 L665.7,200.1 L666.8,200.4 L667.9,200.7 L668.9,201.0 L670.0,200.9 L671.1,200.2 L672.1,201.1 L673.2,201.5 L674.3,200.3 L675.4,201.4 L676.4,203.8 L677.5,203.9 L678.6,202.3 L679.6,203.1 L680.7,201.2 L681.8,200.8 L682.9,203.6 L683.9,202.9 L684.9,204.7 L685.9,204.3 L686.9,203.0 L688.0,203.4 L689.0,203.6 L690.0,202.3 L691.0,200.5 L692.0,202.3 L693.0,201.4 L694.1,200.8 L695.2,200.1 L696.2,201.5 L697.3,200.2 L698.4,200.1 L699.5,198.3 L700.5,198.3 L701.6,197.3 L702.7,197.5 L703.7,198.1 L704.7,198.6 L705.7,198.6 L706.7,200.2 L707.7,200.3 L708.7,198.4 L709.7,199.8 L710.7,198.8 L711.8,197.7 L712.9,196.2 L713.9,196.8 L715.0,195.4 L716.1,195.4 L717.1,194.7 L718.2,195.5 L719.3,195.2 L720.4,193.3 L721.4,194.8 L722.5,194.6 L723.6,194.4 L724.6,194.7 L725.7,196.3 L726.8,196.2 L727.7,196.9 L728.7,195.5 L729.7,195.6 L730.6,194.2 L731.6,193.4 L732.5,191.6 L733.5,194.3 L734.5,194.4 L735.5,195.8 L736.5,195.9 L737.5,198.8 L738.5,200.2 L739.5,202.2 L740.5,204.5 L741.5,204.2 L742.5,206.2 L743.5,206.2 L744.5,206.7 L745.5,208.8 L746.5,205.9 L747.5,205.7 L748.6,205.9 L749.6,202.9 L750.6,200.7 L751.6,198.8 L752.6,199.0 L753.6,196.2 L754.6,195.2 L755.7,195.4 L756.8,193.9 L757.9,191.3 L758.9,192.1 L759.9,192.4 L760.9,193.0 L761.9,191.4 L763.0,191.6" fill="none" stroke="#008000" stroke-width="1.0" shape-rendering="crispEdges" stroke-linejoin="round"/>
<path d="M51.0,216.2 L51.9,217.5 L52.8,220.9 L53.8,222.5 L55.0,225.8 L56.2,230.0 L57.2,232.9 L58.1,235.1 L59.1,239.1 L60.0,241.2 L61.2,238.4 L62.5,235.0 L63.8,232.2 L65.0,228.8 L66.2,226.3 L67.5,225.0 L68.5,228.7 L69.5,232.5 L70.5,231.7 L71.5,229.9 L72.5,228.8 L73.4,228.1 L74.4,229.1 L75.3,227.8 L76.2,227.5 L77.2,226.0 L78.1,226.4 L79.1,225.4 L80.0,223.8 L80.9,225.2 L81.9,224.5 L82.8,225.4 L83.8,225.0 L84.7,224.4 L85.6,223.5 L86.6,223.4 L87.5,222.5 L88.5,221.4 L89.5,221.7 L90.5,219.6 L91.5,217.7 L92.5,217.5 L93.4,217.5 L94.4,217.9 L95.3,215.8 L96.2,216.2 L97.2,217.4 L98.1,218.0 L99.1,217.9 L100.0,218.8 L101.0,218.3 L102.0,219.4 L103.0,217.7 L104.0,219.3 L105.0,219.5 L106.0,219.9 L107.0,219.5 L108.0,219.0 L109.0,216.8 L110.0,218.0 L111.0,217.7 L112.0,216.9 L113.0,217.6 L114.0,217.6 L115.0,217.5 L115.9,217.4 L116.9,217.4 L117.8,215.4 L118.8,217.4 L119.7,215.8 L120.6,215.2 L121.6,215.5 L122.5,216.2 L123.5,216.1 L124.5,214.1 L125.5,215.4 L126.5,212.9 L127.5,213.0 L128.5,212.2 L129.5,213.1 L130.5,212.6 L131.5,210.7 L132.5,211.8 L140.0,211.0 L141.9,208.8 L142.5,200.0 L143.1,195.0 L144.4,180.0 L145.6,167.5 L146.9,157.5 L148.1,151.2 L149.4,148.1 L150.6,151.2 L151.9,160.0 L153.1,170.0 L154.4,182.5 L155.6,192.5 L156.9,182.5 L158.1,178.8 L159.4,190.0 L160.0,207.5 L160.6,220.0 L161.2,230.0 L161.9,238.8 L162.5,233.8 L163.1,225.0 L163.8,212.5 L164.4,203.8 L164.8,200.0 L165.6,178.8 L166.9,175.0 L168.1,180.0 L169.4,185.0 L170.6,172.5 L171.9,163.1 L173.1,166.2 L174.4,171.2 L175.6,170.0 L177.5,167.5 L180.0,170.0 L181.9,173.8 L183.8,180.0 L186.2,190.0 L188.8,197.5 L191.2,192.5 L193.8,186.2 L195.6,177.5 L197.5,172.5 L200.0,170.0 L201.2,170.0 L202.2,171.2 L203.1,170.0 L204.1,169.9 L205.0,170.0 L206.2,172.5 L207.5,175.0 L208.8,178.7 L210.0,180.0 L211.0,180.2 L212.0,180.0 L213.0,180.4 L214.0,181.8 L215.0,182.5 L216.0,181.7 L217.0,180.5 L218.0,180.2 L219.0,180.5 L220.0,180.0 L221.0,180.1 L222.0,181.6 L223.0,181.4 L224.0,182.1 L225.0,182.5 L226.0,182.0 L227.0,181.3 L228.0,183.4 L229.0,184.4 L230.0,183.8 L231.0,184.3 L232.0,183.5 L233.0,183.8 L234.0,181.8 L235.0,182.5 L236.0,183.3 L237.0,183.5 L238.0,184.0 L239.0,183.7 L240.0,185.0 L241.0,185.1 L242.0,185.8 L243.0,186.1 L244.0,185.2 L245.0,185.0 L246.0,186.2 L247.0,185.7 L248.0,186.7 L249.0,188.3 L250.0,187.5 L251.0,185.4 L252.0,185.5 L253.0,187.2 L254.0,185.5 L255.0,185.0 L256.0,186.3 L257.0,187.5 L258.0,186.7 L259.0,187.6 L260.0,188.8 L261.0,187.8 L262.0,188.6 L263.0,189.7 L264.0,189.6 L265.0,190.0 L266.0,190.3 L267.0,192.2 L268.0,192.8 L269.0,192.6 L270.0,193.8 L271.0,194.8 L272.0,194.5 L273.0,195.7 L274.0,195.7 L275.0,196.2 L276.0,197.3 L277.0,196.4 L278.0,195.4 L279.0,194.7 L280.0,195.0 L281.0,194.1 L282.0,193.9 L283.0,193.1 L284.0,192.6 L285.0,192.5 L286.0,192.2 L287.0,191.6 L288.0,191.9 L289.0,192.3 L290.0,191.2 L291.0,192.2 L292.0,192.6 L293.0,191.7 L294.0,193.2 L295.0,193.8 L296.0,194.4 L297.0,193.4 L298.0,194.8 L299.0,194.7 L300.0,193.8 L301.0,193.7 L302.0,194.3 L303.0,195.3 L304.0,195.5 L305.0,195.0 L306.0,195.3 L307.0,196.3 L308.0,195.6 L309.0,196.4 L310.0,196.2 L311.0,196.6 L312.0,196.6 L313.0,195.4 L314.0,195.6 L315.0,196.2 L316.0,195.6 L317.0,195.0 L318.0,195.6 L319.0,195.7 L320.0,195.0 L321.0,197.0 L322.0,196.8 L323.0,199.7 L324.0,201.5 L325.0,201.2 L325.9,201.9 L326.9,200.3 L327.8,202.9 L328.8,202.1 L329.7,202.3 L330.6,201.4 L331.6,202.0 L332.5,202.5 L333.4,201.5 L334.4,203.9 L335.3,202.7 L336.2,203.3 L337.2,203.9 L338.1,204.0 L339.1,203.4 L340.0,203.8 L341.0,204.1 L342.0,205.0 L343.0,205.1 L344.0,205.9 L345.0,205.0 L346.0,204.4 L347.0,203.5 L348.0,204.0 L349.0,204.0 L350.0,202.5 L350.9,202.8 L351.9,203.6 L352.8,205.9 L353.8,206.2 L354.7,206.7 L355.6,209.2 L356.6,209.9 L357.5,212.5 L358.5,213.1 L359.5,213.8 L360.5,215.9 L361.5,213.2 L362.5,216.2 L363.8,219.5 L365.0,222.5 L365.9,223.7 L366.9,226.5 L367.8,228.0 L368.8,227.5 L370.0,231.5 L371.2,236.2 L372.5,233.0 L373.8,232.5 L374.7,231.8 L375.6,228.0 L376.6,230.5 L377.5,227.5 L378.4,229.0 L379.4,228.7 L380.3,231.1 L381.2,232.5 L382.2,232.5 L383.1,232.0 L384.1,232.1 L385.0,231.2 L386.0,231.5 L387.0,230.4 L388.0,228.6 L389.0,225.7 L390.0,226.2 L391.0,228.1 L392.0,229.7 L393.0,230.7 L394.0,231.7 L395.0,232.5 L396.0,234.2 L397.0,234.8 L398.0,235.4 L399.0,236.3 L400.0,237.5 L401.1,236.6 L402.1,236.4 L403.2,235.0 L404.3,233.9 L405.4,233.5 L406.4,234.2 L407.5,234.2 L408.6,233.6 L409.6,235.2 L410.7,234.8 L411.8,234.4 L412.9,233.8 L413.9,233.5 L415.0,232.6 L416.1,232.1 L417.1,231.8 L418.2,233.2 L419.3,235.2 L420.4,233.2 L421.4,233.5 L422.5,233.2 L423.6,234.2 L424.6,233.2 L425.7,229.6 L426.8,230.8 L427.8,229.4 L428.8,229.0 L429.8,230.2 L430.8,229.3 L431.8,229.3 L432.8,228.4 L433.8,229.2 L434.8,228.1 L435.9,227.5 L437.0,225.8 L438.0,227.1 L439.1,226.6 L440.2,225.4 L441.3,224.8 L442.3,225.4 L443.4,224.9 L444.5,224.1 L445.5,224.6 L446.6,224.0 L447.7,223.7 L448.8,223.0 L449.8,222.8 L450.9,222.8 L452.0,223.7 L453.0,225.2 L454.1,223.9 L455.2,224.4 L456.2,225.4 L457.3,226.1 L458.4,224.8 L459.5,225.0 L460.5,222.7 L461.6,222.8 L462.6,224.1 L463.6,224.7 L464.6,227.8 L465.6,228.1 L466.5,225.7 L467.4,221.6 L468.3,220.1 L469.2,221.5 L470.1,223.6 L471.0,224.1 L471.9,225.6 L472.8,226.2 L473.7,226.8 L474.7,225.9 L475.7,223.7 L476.7,223.3 L477.7,222.8 L478.8,222.2 L479.8,222.1 L480.9,222.7 L482.0,222.7 L483.0,221.4 L484.1,221.5 L485.2,221.4 L486.2,222.4 L487.3,221.9 L488.4,222.8 L489.5,223.1 L490.5,220.6 L491.6,221.7 L492.7,221.2 L493.8,220.9 L494.8,221.7 L495.8,223.5 L496.8,223.2 L497.8,224.1 L498.8,223.5 L499.8,221.1 L500.8,219.3 L501.8,217.4 L502.8,219.1 L503.8,218.2 L504.8,219.4 L505.8,221.4 L506.8,221.7 L507.8,223.4 L508.8,222.7 L509.8,222.8 L510.8,222.0 L511.8,222.6 L512.8,221.6 L513.8,221.4 L514.8,221.8 L515.9,223.4 L516.9,224.3 L517.9,224.1 L518.8,224.7 L519.6,227.5 L520.5,226.8 L521.4,225.1 L522.3,223.0 L523.2,221.4 L524.2,220.4 L525.2,220.0 L526.2,219.2 L527.2,218.8 L528.2,220.6 L529.2,220.8 L530.2,222.0 L531.2,224.1 L532.1,224.6 L533.0,226.6 L533.9,226.8 L534.9,226.1 L535.9,223.9 L536.9,222.6 L538.0,221.4 L538.8,220.7 L539.7,218.9 L540.6,218.8 L541.6,220.5 L542.6,223.0 L543.6,224.2 L544.6,226.8 L545.6,224.9 L546.6,222.8 L547.7,220.7 L548.7,218.8 L549.7,218.5 L550.8,217.5 L551.9,217.3 L552.9,217.0 L554.0,216.1 L555.0,216.8 L556.0,217.1 L557.0,217.3 L558.0,218.8 L559.1,219.6 L560.2,220.0 L561.2,219.3 L562.3,219.9 L563.4,219.3 L564.5,220.0 L565.5,218.8 L566.6,217.6 L567.7,219.4 L568.8,218.8 L569.8,218.6 L570.9,219.8 L572.0,218.1 L573.0,218.4 L574.1,219.3 L575.2,217.8 L576.3,219.0 L577.3,218.1 L578.4,218.6 L579.5,218.2 L580.5,218.8 L581.6,219.2 L582.7,218.2 L583.8,218.7 L584.8,219.3 L585.9,218.7 L587.0,218.4 L588.0,220.5 L589.1,219.2 L590.2,218.8 L591.3,217.8 L592.3,219.1 L593.4,217.1 L594.5,216.1 L595.5,217.4 L596.6,218.5 L597.7,217.7 L598.8,218.8 L599.8,219.4 L600.9,218.8 L602.0,218.2 L603.0,218.8 L604.1,218.5 L605.2,218.8 L606.2,218.8 L607.3,219.0 L608.4,219.1 L609.5,218.4 L610.5,219.1 L611.6,218.8 L612.7,218.5 L613.8,218.8 L614.8,218.7 L615.9,218.4 L617.0,218.2 L618.0,218.2 L619.1,218.5 L620.2,218.1 L621.2,219.5 L622.3,218.8 L623.4,218.6 L624.5,219.4 L625.5,217.9 L626.6,218.5 L627.7,219.3 L628.8,220.8 L629.8,219.7 L630.9,220.9 L632.0,219.6 L633.0,220.1 L634.1,220.3 L635.2,219.9 L636.2,221.9 L637.3,221.6 L638.4,221.4 L639.5,222.8 L640.5,223.0 L641.6,221.1 L642.7,222.5 L643.8,222.8 L644.8,225.0 L645.9,222.9 L647.0,223.2 L648.0,226.8 L649.1,225.4 L650.2,225.9 L651.3,226.6 L652.3,228.1 L653.4,229.1 L654.5,229.5 L655.5,229.0 L656.6,230.9 L657.7,232.1 L658.8,232.8 L659.8,233.5 L660.9,232.8 L662.0,232.8 L663.0,233.9 L664.1,232.5 L665.2,234.3 L666.3,234.2 L667.3,233.6 L668.4,235.8 L669.5,235.2 L670.5,234.8 L671.6,234.8 L672.7,236.4 L673.8,238.4 L674.8,236.5 L675.9,237.5 L677.0,238.6 L678.0,237.7 L679.1,238.8 L680.2,240.0 L681.2,239.6 L682.3,239.2 L683.4,240.2 L684.5,240.2 L685.5,240.2 L686.6,239.6 L687.7,240.4 L688.8,239.2 L689.8,240.5 L690.9,240.1 L692.0,240.2 L693.0,242.3 L694.1,241.1 L695.2,241.7 L696.2,242.6 L697.3,242.3 L698.4,243.9 L699.5,242.2 L700.5,242.3 L701.6,242.2 L702.7,242.9 L703.8,244.3 L704.8,241.9 L705.9,242.9 L707.0,242.3 L708.0,241.5 L709.1,240.9 L710.2,240.7 L711.3,241.3 L712.3,240.7 L713.4,240.2 L714.5,241.1 L715.5,240.5 L716.6,240.5 L717.7,241.7 L718.8,241.0 L719.8,241.8 L720.9,241.2 L722.0,241.5 L723.0,242.1 L724.1,242.9 L725.2,242.2 L726.3,242.4 L727.3,242.7 L728.4,241.8 L729.5,242.3 L730.5,243.2 L731.6,242.2 L732.7,245.8 L733.8,244.4 L734.8,245.5 L735.9,244.1 L737.0,245.9 L738.0,243.4 L739.1,243.0 L740.2,242.9 L741.3,243.5 L742.3,242.2 L743.4,242.3 L744.5,241.0 L745.5,240.7 L746.6,241.8 L747.7,240.2 L748.8,241.4 L749.8,239.6 L750.9,239.6 L752.0,240.2 L753.0,237.4 L754.1,239.1 L755.2,236.6 L756.2,237.5 L757.2,236.2 L758.2,235.7 L759.1,236.3 L760.1,237.6 L761.0,237.3 L762.0,236.6 L763.0,236.2" fill="none" stroke="#cc0000" stroke-width="1.0" shape-rendering="crispEdges" stroke-linejoin="round"/>
<path d="M51.0,273.8 L51.9,277.1 L52.8,275.6 L53.8,277.5 L55.0,282.3 L56.2,290.0 L57.1,299.2 L58.0,305.0 L59.0,298.2 L60.0,295.0 L61.2,288.1 L62.5,282.5 L63.4,280.4 L64.4,278.4 L65.3,272.9 L66.2,270.0 L67.5,272.8 L68.8,275.0 L70.0,273.3 L71.2,271.2 L72.2,269.2 L73.1,268.7 L74.1,269.4 L75.0,263.8 L75.9,262.7 L76.9,260.8 L77.8,260.7 L78.8,258.8 L79.7,259.6 L80.6,258.0 L81.6,253.7 L82.5,256.2 L83.4,257.4 L84.4,254.7 L85.3,253.4 L86.2,253.8 L87.2,255.0 L88.1,256.9 L89.1,257.5 L90.0,257.5 L91.0,259.2 L92.0,262.2 L93.0,264.5 L94.0,262.9 L95.0,265.0 L95.9,263.2 L96.9,262.4 L97.8,260.7 L98.8,260.0 L99.7,260.0 L100.6,258.0 L101.6,256.8 L102.5,252.5 L103.4,249.9 L104.4,247.7 L105.3,247.0 L106.2,243.8 L107.5,248.4 L108.8,250.0 L110.0,251.8 L111.2,248.8 L112.5,243.4 L113.8,235.0 L115.0,228.6 L116.2,220.0 L117.5,215.0 L118.8,220.0 L120.0,222.5 L121.2,227.5 L122.2,228.0 L123.1,230.1 L124.1,229.6 L125.0,232.5 L126.0,228.8 L127.0,230.2 L128.0,227.7 L129.0,227.6 L130.0,227.5 L130.9,229.8 L131.9,233.2 L132.8,233.9 L133.8,240.0 L134.7,239.7 L135.6,243.6 L136.6,247.4 L137.5,248.8 L138.4,249.7 L139.4,250.6 L140.6,247.5 L141.5,242.5 L141.9,225.0 L142.2,212.5 L142.8,200.0 L142.9,151.2 L143.2,141.2 L143.8,157.5 L144.5,177.5 L145.0,197.5 L146.2,190.0 L148.8,151.2 L151.9,152.8 L153.8,156.2 L156.2,161.2 L158.1,168.8 L159.0,182.5 L159.8,207.5 L160.6,217.5 L161.2,230.0 L162.2,210.0 L163.1,207.5 L164.4,207.5 L165.6,212.5 L166.9,222.5 L168.1,232.5 L169.4,237.5 L171.2,240.0 L173.1,245.0 L175.0,250.0 L176.9,252.5 L178.8,256.2 L181.2,261.2 L183.1,255.0 L184.4,252.5 L185.6,261.2 L187.5,265.0 L189.4,262.5 L190.6,261.2 L192.5,265.0 L194.4,263.8 L196.2,266.2 L197.5,268.8 L200.0,265.0 L202.5,266.2 L203.5,267.0 L204.5,264.3 L205.5,268.2 L206.5,265.3 L207.5,265.0 L208.4,264.1 L209.4,262.8 L210.3,260.7 L211.2,258.8 L212.5,254.0 L213.8,248.8 L214.7,249.8 L215.6,251.7 L216.6,249.6 L217.5,252.5 L218.4,254.5 L219.4,250.5 L220.3,250.5 L221.2,250.0 L222.5,249.2 L223.8,243.8 L225.0,248.9 L226.2,252.5 L227.5,248.3 L228.8,247.5 L230.0,243.4 L231.2,245.0 L232.2,247.0 L233.1,248.3 L234.1,249.9 L235.0,251.2 L236.0,249.5 L237.0,250.7 L238.0,246.4 L239.0,247.5 L240.0,245.0 L240.9,243.9 L241.9,242.5 L242.8,243.8 L243.8,242.5 L244.7,242.9 L245.6,244.0 L246.6,248.4 L247.5,245.0 L248.4,246.0 L249.4,246.0 L250.3,244.9 L251.2,246.2 L252.2,246.2 L253.1,246.4 L254.1,243.1 L255.0,245.0 L255.9,248.3 L256.9,245.4 L257.8,246.7 L258.8,248.8 L259.7,247.6 L260.6,246.9 L261.6,250.2 L262.5,246.2 L263.8,252.2 L265.0,253.8 L266.2,255.0 L267.5,258.8 L268.5,257.7 L269.5,261.0 L270.5,258.8 L271.5,258.9 L272.5,257.5 L273.4,258.0 L274.4,255.1 L275.3,257.1 L276.2,255.0 L277.5,256.8 L278.8,261.2 L279.7,260.4 L280.6,261.4 L281.6,261.2 L282.5,258.8 L283.4,257.9 L284.4,260.3 L285.3,258.8 L286.2,260.0 L287.2,262.5 L288.1,260.1 L289.1,262.8 L290.0,262.5 L290.9,265.0 L291.9,263.2 L292.8,264.8 L293.8,266.2 L294.7,267.6 L295.6,264.7 L296.6,261.7 L297.5,263.8 L298.8,264.6 L300.0,267.5 L300.9,266.8 L301.9,264.3 L302.8,264.7 L303.8,262.5 L305.0,260.3 L306.2,260.0 L307.2,260.9 L308.1,260.6 L309.1,262.0 L310.0,262.5 L311.0,264.0 L312.0,261.7 L313.0,263.5 L314.0,264.2 L315.0,262.5 L316.0,263.6 L317.0,263.6 L318.0,262.6 L319.0,262.5 L320.0,263.8 L321.0,263.4 L322.0,264.9 L323.0,264.0 L324.0,265.1 L325.0,266.2 L326.0,267.6 L327.0,264.6 L328.0,266.9 L329.0,263.3 L330.0,263.8 L331.0,263.4 L332.0,263.4 L333.0,263.8 L334.0,268.3 L335.0,266.2 L336.0,267.4 L337.0,265.5 L338.0,264.6 L339.0,264.4 L340.0,265.0 L341.0,267.0 L342.0,269.0 L343.0,270.6 L344.0,273.1 L345.0,271.2 L345.9,270.7 L346.9,267.4 L347.8,265.7 L348.8,265.0 L349.7,264.3 L350.6,268.1 L351.6,267.6 L352.5,267.5 L353.5,263.5 L354.5,262.8 L355.5,264.9 L356.5,266.0 L357.5,261.2 L358.4,263.4 L359.4,265.1 L360.3,266.3 L361.2,266.2 L362.2,264.8 L363.1,265.9 L364.1,266.9 L365.0,267.5 L365.9,267.4 L366.9,271.1 L367.8,269.5 L368.8,273.8 L369.7,273.0 L370.6,273.4 L371.6,271.8 L372.5,268.8 L373.4,267.4 L374.4,269.6 L375.3,266.5 L376.2,266.2 L377.2,269.6 L378.1,268.3 L379.1,271.4 L380.0,270.0 L381.0,270.7 L382.0,274.4 L383.0,270.1 L384.0,271.8 L385.0,271.2 L386.0,270.5 L387.0,272.0 L388.0,269.5 L389.0,268.4 L390.0,270.0 L391.0,269.7 L392.0,269.0 L393.0,270.5 L394.0,269.8 L395.0,270.0 L396.0,267.2 L397.0,271.6 L398.0,272.4 L399.0,269.7 L400.0,272.3 L401.1,274.0 L402.1,273.6 L403.2,269.0 L404.3,269.1 L405.4,268.3 L406.4,266.8 L407.5,269.2 L408.6,267.0 L409.6,269.3 L410.7,267.0 L411.8,267.1 L412.9,267.8 L413.9,268.4 L415.0,266.0 L416.1,266.4 L417.1,266.9 L418.2,269.0 L419.3,267.0 L420.4,266.6 L421.4,267.0 L422.5,267.1 L423.6,269.4 L424.6,266.6 L425.7,265.6 L426.8,266.4 L427.9,266.9 L428.9,264.7 L430.0,266.3 L431.1,268.0 L432.1,267.0 L433.2,263.6 L434.3,265.6 L435.4,267.7 L436.4,264.3 L437.5,265.6 L438.6,262.4 L439.6,261.4 L440.7,263.1 L441.8,262.1 L442.9,262.9 L443.9,262.9 L445.0,260.9 L446.1,260.0 L447.1,261.4 L448.2,261.6 L449.3,261.3 L450.4,263.3 L451.4,262.7 L452.5,260.0 L453.6,261.1 L454.6,257.8 L455.7,260.2 L456.8,261.0 L457.9,261.4 L458.9,260.3 L460.0,262.6 L461.1,262.5 L462.1,257.6 L463.2,262.7 L464.3,258.9 L465.4,257.5 L466.4,258.2 L467.5,255.9 L468.6,258.3 L469.6,256.8 L470.7,256.1 L471.8,256.2 L472.9,258.0 L473.9,255.9 L475.0,256.2 L476.1,255.3 L477.1,255.4 L478.2,256.8 L479.3,255.8 L480.4,254.9 L481.4,254.8 L482.5,256.1 L483.6,254.7 L484.6,256.2 L485.7,256.2 L486.8,253.8 L487.9,256.0 L488.9,256.7 L490.0,259.9 L491.1,257.6 L492.1,255.9 L493.1,258.1 L494.1,254.2 L495.1,256.2 L496.1,255.0 L497.1,254.4 L498.1,254.5 L499.1,253.6 L500.1,250.5 L501.1,251.6 L502.1,249.6 L503.1,248.2 L504.1,248.3 L505.1,248.0 L506.1,253.0 L507.1,250.9 L508.2,250.3 L509.3,250.2 L510.4,250.6 L511.4,251.9 L512.5,252.2 L513.6,251.2 L514.6,252.6 L515.7,255.8 L516.8,254.4 L517.9,253.6 L518.9,252.8 L520.0,255.3 L521.1,255.4 L522.1,256.2 L523.2,254.9 L524.3,253.2 L525.4,255.4 L526.4,258.1 L527.5,255.7 L528.6,256.2 L529.6,254.8 L530.6,255.1 L531.6,256.8 L532.6,257.6 L533.6,260.4 L534.6,256.0 L535.6,256.3 L536.6,254.9 L537.7,255.3 L538.8,256.2 L539.8,254.4 L540.9,253.9 L542.0,256.2 L543.0,254.8 L544.1,252.3 L545.2,258.5 L546.2,254.7 L547.3,254.9 L548.4,253.1 L549.5,257.6 L550.5,257.1 L551.6,256.2 L552.7,256.2 L553.8,260.1 L554.8,256.2 L555.9,255.5 L557.0,253.0 L558.0,254.9 L559.1,256.2 L560.2,257.6 L561.2,255.3 L562.3,254.8 L563.4,256.2 L564.5,256.1 L565.5,255.4 L566.6,257.5 L567.7,257.3 L568.8,256.2 L569.8,258.5 L570.9,256.3 L572.0,252.1 L573.0,252.8 L574.1,254.9 L575.2,254.0 L576.3,256.6 L577.3,256.4 L578.4,256.6 L579.5,256.2 L580.5,258.3 L581.6,251.8 L582.7,255.6 L583.8,252.7 L584.8,255.7 L585.9,256.2 L587.0,258.0 L588.0,257.7 L589.1,256.0 L590.2,256.2 L591.3,254.9 L592.3,259.0 L593.4,256.3 L594.5,257.4 L595.5,255.7 L596.6,253.8 L597.7,254.4 L598.8,256.1 L599.8,259.0 L600.9,256.8 L602.0,253.9 L603.0,256.7 L604.1,257.8 L605.2,259.6 L606.2,259.5 L607.3,256.7 L608.4,258.8 L609.5,256.8 L610.5,256.0 L611.6,258.9 L612.7,259.2 L613.8,256.8 L614.8,258.7 L615.9,258.1 L617.0,258.4 L618.0,255.4 L619.1,258.2 L620.2,259.1 L621.2,254.7 L622.3,257.6 L623.4,260.6 L624.5,254.7 L625.5,257.5 L626.6,257.4 L627.7,256.8 L628.8,256.5 L629.8,259.2 L630.9,255.4 L632.0,255.6 L633.0,256.2 L634.1,256.1 L635.2,257.2 L636.2,257.3 L637.3,254.2 L638.4,257.6 L639.5,258.2 L640.5,260.2 L641.6,258.6 L642.7,261.2 L643.8,259.5 L644.8,261.7 L645.9,260.1 L647.0,258.8 L648.0,256.9 L649.1,257.6 L650.2,256.5 L651.3,258.4 L652.3,256.2 L653.4,255.3 L654.5,256.2 L655.5,256.8 L656.6,258.5 L657.7,256.2 L658.8,257.1 L659.8,255.7 L660.9,255.4 L662.0,257.8 L663.0,253.6 L664.1,258.4 L665.2,256.8 L666.3,257.9 L667.3,258.2 L668.4,259.3 L669.5,255.8 L670.5,256.2 L671.6,257.2 L672.7,256.5 L673.8,256.3 L674.8,254.8 L675.9,255.7 L676.8,257.4 L677.7,259.0 L678.6,260.3 L679.6,259.1 L680.7,258.7 L681.8,258.0 L682.9,261.7 L683.9,258.4 L685.0,260.1 L686.1,258.0 L687.1,256.1 L688.2,258.1 L689.3,257.6 L690.4,257.4 L691.4,255.7 L692.5,257.2 L693.6,257.1 L694.6,257.6 L695.7,260.6 L696.8,254.3 L697.9,256.2 L698.9,256.5 L700.0,256.8 L701.1,257.8 L702.1,258.7 L703.2,256.8 L704.3,256.2 L705.4,256.2 L706.4,257.0 L707.5,255.2 L708.6,256.4 L709.6,258.7 L710.7,257.6 L711.8,261.1 L712.9,259.6 L713.9,257.5 L715.0,259.9 L716.1,260.3 L717.1,261.7 L718.2,257.4 L719.3,254.0 L720.4,255.2 L721.4,254.9 L722.5,257.4 L723.6,256.1 L724.6,255.4 L725.7,256.3 L726.8,256.2 L727.9,256.2 L728.9,258.1 L730.0,259.4 L731.1,257.4 L732.1,257.6 L733.2,257.3 L734.3,256.1 L735.4,256.0 L736.4,254.0 L737.5,256.8 L738.6,255.6 L739.6,254.9 L740.7,255.0 L741.8,254.3 L742.9,256.2 L743.9,256.8 L745.0,254.2 L746.1,256.9 L747.1,255.8 L748.2,254.9 L749.3,256.1 L750.4,257.0 L751.4,254.4 L752.5,251.8 L753.6,254.9 L754.6,252.6 L755.7,254.7 L756.8,253.4 L757.9,252.2 L758.9,253.0 L759.9,253.1 L760.9,253.3 L761.9,252.1 L763.0,251.4" fill="none" stroke="#0000ff" stroke-width="1.0" shape-rendering="crispEdges" stroke-linejoin="round"/>
<path d="M51.0,315.0 L52.0,316.3 L53.0,318.0 L54.0,319.2 L55.0,322.5 L55.9,322.8 L56.9,326.1 L57.8,326.3 L58.8,328.8 L60.0,326.6 L61.2,322.5 L62.2,318.4 L63.1,318.4 L64.1,316.9 L65.0,315.0 L65.9,314.3 L66.9,311.7 L67.8,313.8 L68.8,311.2 L69.7,310.4 L70.6,310.5 L71.6,307.8 L72.5,307.5 L73.5,305.9 L74.5,307.2 L75.5,306.1 L76.5,305.5 L77.5,305.0 L78.4,304.0 L79.4,302.3 L80.3,299.1 L81.2,296.2 L82.2,295.9 L83.1,297.0 L84.1,295.0 L85.0,293.8 L85.9,297.3 L86.9,295.2 L87.8,296.8 L88.8,300.0 L89.7,301.2 L90.6,298.2 L91.6,300.9 L92.5,298.8 L93.5,297.7 L94.6,301.1 L95.6,303.1 L96.7,300.2 L97.7,301.6 L98.8,303.8 L99.7,298.7 L100.6,298.3 L101.6,296.2 L102.5,295.0 L103.4,290.2 L104.4,288.7 L105.3,286.6 L106.2,285.0 L107.2,286.1 L108.1,287.0 L109.1,291.3 L110.0,290.0 L110.9,287.4 L111.9,284.7 L112.8,282.9 L113.8,280.0 L114.7,276.4 L115.6,277.5 L116.6,275.2 L117.5,271.2 L118.8,273.3 L120.0,273.8 L120.9,271.9 L121.9,271.9 L123.1,268.8 L124.4,273.8 L125.6,275.0 L126.9,272.5 L127.8,271.1 L128.8,271.2 L129.7,270.7 L130.6,272.5 L131.6,272.2 L132.5,276.2 L133.4,278.0 L134.4,281.2 L135.3,284.2 L136.2,286.2 L137.2,287.3 L138.1,288.1 L140.0,286.9 L141.2,282.5 L141.9,265.0 L142.5,250.0 L143.1,225.0 L143.8,218.8 L144.4,227.5 L145.0,222.5 L145.6,225.0 L146.2,220.0 L146.9,231.2 L147.5,236.2 L148.5,237.5 L149.4,243.8 L150.0,231.2 L150.6,225.0 L151.2,215.0 L151.9,211.2 L152.5,210.0 L153.1,213.8 L154.4,220.0 L155.6,230.0 L156.5,241.2 L157.5,255.0 L158.1,257.5 L159.4,262.5 L160.6,270.0 L161.9,280.0 L163.1,285.0 L164.0,275.0 L165.0,277.5 L166.2,281.2 L168.1,282.5 L170.0,280.6 L171.9,281.2 L173.8,287.5 L175.6,290.0 L177.5,289.4 L179.4,292.5 L181.2,295.0 L183.8,296.2 L186.2,298.8 L188.8,302.5 L190.6,300.0 L192.5,303.8 L195.0,303.8 L197.5,302.5 L200.0,301.9 L205.0,303.8 L205.9,305.2 L206.9,306.5 L207.8,303.6 L208.8,302.5 L210.0,297.6 L211.2,292.5 L212.2,291.0 L213.1,292.3 L214.1,291.0 L215.0,291.2 L216.0,293.1 L217.0,293.6 L218.0,293.2 L219.0,293.8 L220.0,295.0 L220.9,293.1 L221.9,292.1 L222.8,288.2 L223.8,288.8 L224.7,289.9 L225.6,289.8 L226.6,290.6 L227.5,292.5 L228.8,289.7 L230.0,286.2 L230.9,287.5 L231.9,289.3 L232.8,291.4 L233.8,290.0 L234.7,291.0 L235.6,289.6 L236.6,288.6 L237.5,286.2 L238.5,284.8 L239.5,282.3 L240.5,279.7 L241.5,281.7 L242.5,281.2 L243.4,281.6 L244.4,283.8 L245.3,283.9 L246.2,286.2 L247.2,284.5 L248.1,285.4 L249.1,286.0 L250.0,285.0 L251.0,284.7 L252.0,287.0 L253.0,288.1 L254.0,286.6 L255.0,287.5 L256.0,284.1 L257.0,287.4 L258.0,284.8 L259.0,283.7 L260.0,283.8 L261.0,284.3 L262.0,286.1 L263.0,288.1 L264.0,289.0 L265.0,290.0 L265.9,291.1 L266.9,294.5 L267.8,294.2 L268.8,295.0 L269.7,294.8 L270.6,293.9 L271.6,293.9 L272.5,293.8 L273.4,295.7 L274.4,294.7 L275.3,295.7 L276.2,296.2 L277.2,298.8 L278.1,296.6 L279.1,297.6 L280.0,297.5 L281.0,296.6 L282.0,297.3 L283.0,297.3 L284.0,296.5 L285.0,296.2 L286.0,296.1 L287.0,298.4 L288.0,297.7 L289.0,300.2 L290.0,301.2 L291.0,303.1 L292.0,302.4 L293.0,301.3 L294.0,304.1 L295.0,302.5 L296.0,301.3 L297.0,302.5 L298.0,305.3 L299.0,301.8 L300.0,303.8 L300.9,300.9 L301.9,303.5 L302.8,300.4 L303.8,300.0 L304.7,297.5 L305.6,297.1 L306.6,296.1 L307.5,296.2 L308.5,294.9 L309.5,296.3 L310.5,296.1 L311.5,296.0 L312.5,296.2 L313.5,295.8 L314.5,294.4 L315.5,297.9 L316.5,297.8 L317.5,297.5 L318.5,296.8 L319.5,297.8 L320.5,299.3 L321.5,302.1 L322.5,300.0 L323.5,300.0 L324.5,302.7 L325.5,301.3 L326.5,299.7 L327.5,302.5 L328.5,300.6 L329.5,301.3 L330.5,301.5 L331.5,302.8 L332.5,301.2 L333.5,302.2 L334.5,301.7 L335.5,301.1 L336.5,301.1 L337.5,302.5 L338.5,305.6 L339.5,301.5 L340.5,302.7 L341.5,305.3 L342.5,305.0 L343.4,305.7 L344.4,307.5 L345.3,305.9 L346.2,308.8 L347.2,307.0 L348.1,307.6 L349.1,307.8 L350.0,305.0 L351.0,304.1 L352.0,304.4 L353.0,304.5 L354.0,303.1 L355.0,303.8 L356.0,304.3 L357.0,303.9 L358.0,304.2 L359.0,306.8 L360.0,305.0 L361.0,304.3 L362.0,305.5 L363.0,305.8 L364.0,305.4 L365.0,306.2 L366.0,307.7 L367.0,310.7 L368.0,310.0 L369.0,312.4 L370.0,313.8 L370.9,314.8 L371.9,309.1 L372.8,307.7 L373.8,307.5 L374.7,306.6 L375.6,307.6 L376.6,307.2 L377.5,306.2 L378.5,306.1 L379.5,308.5 L380.5,307.4 L381.5,307.1 L382.5,307.5 L383.5,309.4 L384.5,308.4 L385.5,307.6 L386.5,308.9 L387.5,308.8 L388.5,308.1 L389.6,309.2 L390.6,309.0 L391.7,307.4 L392.7,308.2 L393.8,307.5 L394.8,308.0 L395.8,307.3 L396.9,304.6 L397.9,307.8 L399.0,307.5 L400.0,308.5 L401.1,308.4 L402.1,308.5 L403.2,305.0 L404.3,306.9 L405.4,305.8 L406.4,306.1 L407.5,305.4 L408.6,304.7 L409.6,305.3 L410.7,304.5 L411.8,304.9 L412.9,304.2 L413.9,301.9 L415.0,304.1 L416.1,303.1 L417.1,304.7 L418.2,303.7 L419.3,304.1 L420.4,303.5 L421.4,303.1 L422.5,302.5 L423.6,302.9 L424.6,301.8 L425.7,302.0 L426.8,302.3 L427.9,301.0 L428.9,304.4 L430.0,302.2 L431.1,301.9 L432.1,301.8 L433.2,301.6 L434.3,302.7 L435.4,301.2 L436.4,303.2 L437.5,301.2 L438.6,300.9 L439.6,300.8 L440.7,301.3 L441.8,302.5 L442.9,300.4 L443.9,300.1 L445.0,299.8 L446.1,297.0 L447.1,298.1 L448.2,299.1 L449.3,300.7 L450.4,298.4 L451.4,299.5 L452.5,301.4 L453.6,298.6 L454.6,297.6 L455.7,298.3 L456.8,295.9 L457.9,297.8 L458.9,296.4 L460.0,295.5 L461.1,296.1 L462.1,296.1 L463.2,294.9 L464.3,295.1 L465.4,296.1 L466.4,294.6 L467.5,295.0 L468.6,295.0 L469.6,296.4 L470.7,297.7 L471.8,298.9 L472.9,296.3 L473.9,296.2 L475.0,295.1 L476.1,298.1 L477.1,294.1 L478.2,294.2 L479.3,294.2 L480.4,294.3 L481.4,293.2 L482.5,296.6 L483.6,294.8 L484.6,293.1 L485.7,295.1 L486.8,295.4 L487.9,296.2 L488.9,295.8 L490.0,292.9 L491.1,294.3 L492.1,294.8 L493.2,294.8 L494.3,294.4 L495.4,294.6 L496.4,293.8 L497.5,291.0 L498.6,291.5 L499.6,292.0 L500.7,291.3 L501.8,292.4 L502.9,292.2 L503.9,293.4 L505.0,291.8 L506.1,290.8 L507.1,291.6 L508.2,293.4 L509.3,291.8 L510.4,293.7 L511.4,294.5 L512.5,293.2 L513.6,294.6 L514.6,294.5 L515.7,293.7 L516.8,295.6 L517.9,294.3 L518.9,294.4 L520.0,293.1 L521.1,296.7 L522.1,295.7 L523.2,294.3 L524.3,294.9 L525.4,294.7 L526.4,294.6 L527.5,297.5 L528.6,295.1 L529.6,293.8 L530.7,294.7 L531.8,297.8 L532.9,297.7 L533.9,296.4 L535.0,296.0 L536.1,293.1 L537.1,294.4 L538.2,295.5 L539.3,295.1 L540.4,295.2 L541.4,295.3 L542.5,293.2 L543.6,293.9 L544.6,295.1 L545.7,295.1 L546.8,294.7 L547.9,293.9 L548.9,294.6 L550.0,294.3 L551.1,292.6 L552.1,294.2 L553.2,293.6 L554.3,294.4 L555.4,295.1 L556.4,295.2 L557.5,293.6 L558.6,293.4 L559.6,294.7 L560.7,296.4 L561.8,295.2 L562.9,294.3 L563.9,294.6 L565.0,295.4 L566.1,295.1 L567.1,293.8 L568.2,294.0 L569.3,297.2 L570.4,297.0 L571.4,295.1 L572.5,294.5 L573.6,297.0 L574.6,293.4 L575.7,295.8 L576.8,294.3 L577.9,293.1 L578.9,294.3 L580.0,294.8 L581.1,293.9 L582.1,295.1 L583.2,294.4 L584.3,296.0 L585.4,297.5 L586.4,297.2 L587.5,295.4 L588.6,297.5 L589.6,297.7 L590.7,296.6 L591.8,295.0 L592.9,295.9 L593.9,295.4 L595.0,297.2 L596.1,297.9 L597.1,295.2 L598.2,296.4 L599.3,296.8 L600.4,298.4 L601.4,296.5 L602.5,296.7 L603.6,297.0 L604.6,298.1 L605.7,299.6 L606.8,298.1 L607.9,298.1 L608.9,297.8 L610.0,295.8 L611.1,297.2 L612.1,295.5 L613.2,297.4 L614.3,296.4 L615.4,293.5 L616.4,296.4 L617.5,294.8 L618.6,295.7 L619.6,295.4 L620.7,295.4 L621.8,294.0 L622.9,294.7 L623.9,296.7 L625.0,295.1 L626.1,295.2 L627.1,298.0 L628.2,294.6 L629.3,296.0 L630.4,295.4 L631.4,297.5 L632.5,294.9 L633.6,295.4 L634.6,298.6 L635.7,295.4 L636.8,295.2 L637.9,294.2 L638.9,295.4 L640.0,297.2 L641.1,295.9 L642.1,295.8 L643.2,297.0 L644.3,293.1 L645.4,294.3 L646.4,295.1 L647.5,295.6 L648.6,296.3 L649.6,297.3 L650.7,294.1 L651.8,294.3 L652.9,294.4 L653.9,293.3 L655.0,292.4 L656.1,294.3 L657.1,293.2 L658.2,293.1 L659.3,293.1 L660.4,293.2 L661.4,292.6 L662.5,294.3 L663.6,295.5 L664.6,293.4 L665.7,296.0 L666.8,292.7 L667.9,293.8 L668.9,291.8 L670.0,291.4 L671.1,293.5 L672.1,293.4 L673.2,292.4 L674.3,295.5 L675.4,294.4 L676.4,294.6 L677.5,295.6 L678.6,294.3 L679.6,296.6 L680.7,294.0 L681.8,294.9 L682.9,295.7 L683.9,295.1 L685.0,296.1 L686.1,293.3 L687.1,293.0 L688.2,296.2 L689.3,295.1 L690.4,295.8 L691.4,294.9 L692.5,295.8 L693.6,293.1 L694.6,294.3 L695.7,297.3 L696.8,295.7 L697.9,294.0 L698.9,294.8 L700.0,294.3 L701.1,294.7 L702.1,294.9 L703.2,292.7 L704.3,293.3 L705.4,292.4 L706.4,293.7 L707.5,291.9 L708.6,292.4 L709.6,295.6 L710.7,294.3 L711.8,297.2 L712.9,292.7 L713.9,296.0 L715.0,296.9 L716.1,297.0 L717.1,295.7 L718.2,295.5 L719.3,296.3 L720.4,290.5 L721.4,293.2 L722.5,290.9 L723.6,290.1 L724.6,292.9 L725.7,291.2 L726.8,291.1 L727.9,293.6 L728.9,291.5 L730.0,293.1 L731.1,292.6 L732.1,293.2 L733.2,291.7 L734.3,292.7 L735.4,293.2 L736.4,295.5 L737.5,293.8 L738.6,293.4 L739.6,295.2 L740.7,295.4 L741.8,294.5 L742.9,293.8 L743.9,293.4 L745.0,294.1 L746.1,291.9 L747.1,290.9 L748.2,293.2 L749.3,294.4 L750.4,293.6 L751.4,292.1 L752.5,291.4 L753.6,293.8 L754.6,294.1 L755.7,291.4 L756.7,291.2 L757.7,292.6 L758.8,293.4 L759.8,293.4 L760.9,293.6 L761.9,291.8 L763.0,292.4" fill="none" stroke="#008000" stroke-width="1.0" shape-rendering="crispEdges" stroke-linejoin="round"/>
<path d="M51.0,357.5 L52.0,357.6 L53.0,357.5 L54.0,357.9 L55.0,358.8 L56.0,360.4 L57.0,358.1 L58.0,359.9 L59.0,360.5 L60.0,361.2 L60.9,359.5 L61.9,357.4 L62.8,354.8 L63.8,352.5 L64.7,352.1 L65.6,350.4 L66.6,348.9 L67.5,347.5 L68.5,346.3 L69.5,346.8 L70.5,344.5 L71.5,343.3 L72.5,343.8 L73.5,343.4 L74.5,342.4 L75.5,340.6 L76.5,340.7 L77.5,340.0 L78.4,338.7 L79.4,336.5 L80.3,337.3 L81.2,335.0 L82.2,334.8 L83.1,337.9 L84.1,336.3 L85.0,336.2 L85.9,336.8 L86.9,337.7 L87.8,340.2 L88.8,341.2 L89.7,340.6 L90.6,338.0 L91.6,337.6 L92.5,335.0 L93.4,337.4 L94.4,336.5 L95.3,337.1 L96.2,337.5 L97.2,339.9 L98.1,339.5 L99.1,342.0 L100.0,342.5 L101.0,342.7 L102.0,342.5 L103.0,342.5 L104.0,341.9 L105.0,341.2 L106.0,339.2 L107.0,338.9 L108.0,337.2 L109.0,336.0 L110.0,335.0 L110.9,333.1 L111.9,331.9 L112.8,329.0 L113.8,327.5 L114.7,324.9 L115.6,323.5 L116.6,322.1 L117.5,320.0 L118.8,320.1 L120.0,318.1 L120.9,316.6 L121.9,316.2 L123.1,312.5 L124.4,315.6 L125.6,316.9 L126.9,314.4 L128.1,312.5 L129.1,313.5 L130.0,313.8 L130.9,313.5 L131.9,315.6 L132.8,317.3 L133.8,318.8 L134.7,319.8 L135.6,322.5 L136.6,324.4 L137.5,325.6 L138.4,325.6 L139.4,324.4 L140.6,320.0 L141.2,312.5 L141.9,300.0 L142.5,287.5 L143.1,296.2 L143.8,287.5 L144.4,277.5 L145.0,260.0 L145.6,253.8 L146.2,248.1 L146.9,253.8 L147.5,270.0 L148.1,287.5 L149.0,297.5 L149.8,307.5 L150.6,300.0 L151.9,292.5 L153.1,288.1 L154.4,288.8 L155.6,291.2 L156.5,300.0 L157.5,310.0 L158.8,316.2 L159.8,321.2 L160.6,318.8 L161.5,325.0 L162.5,331.2 L163.1,345.0 L164.0,333.8 L165.0,331.2 L166.0,337.5 L166.9,340.0 L168.1,333.8 L169.4,330.0 L171.2,327.5 L172.5,332.5 L174.0,340.0 L175.6,343.8 L177.5,338.8 L179.4,336.2 L181.2,337.5 L183.1,341.2 L185.0,346.2 L186.9,349.4 L188.8,349.4 L191.2,346.9 L193.1,348.8 L195.0,349.4 L197.5,346.2 L200.0,343.8 L202.5,343.8 L203.5,345.9 L204.5,345.7 L205.5,345.1 L206.5,346.9 L207.5,347.5 L208.8,344.7 L210.0,343.8 L210.9,343.5 L211.9,340.7 L212.8,340.0 L213.8,337.5 L214.7,336.6 L215.6,338.1 L216.6,338.9 L217.5,337.5 L218.5,338.1 L219.5,338.5 L220.5,336.4 L221.5,335.7 L222.5,336.2 L223.5,335.3 L224.5,336.3 L225.5,335.0 L226.5,336.7 L227.5,336.2 L228.4,336.2 L229.4,336.1 L230.3,332.8 L231.2,333.8 L232.2,334.8 L233.1,335.1 L234.1,336.9 L235.0,336.2 L235.9,334.9 L236.9,334.2 L237.8,333.6 L238.8,332.5 L239.7,331.4 L240.6,329.8 L241.6,330.1 L242.5,327.5 L243.4,327.9 L244.4,329.0 L245.3,329.3 L246.2,330.0 L247.2,330.7 L248.1,331.5 L249.1,333.0 L250.0,332.5 L250.9,333.1 L251.9,332.5 L252.8,329.9 L253.8,330.0 L255.0,332.2 L256.2,335.0 L257.2,331.8 L258.1,328.8 L259.1,326.8 L260.0,323.8 L260.9,324.7 L261.9,327.3 L262.8,329.4 L263.8,332.5 L264.7,333.7 L265.6,334.0 L266.6,335.4 L267.5,336.2 L268.4,337.5 L269.4,336.6 L270.3,336.7 L271.2,337.5 L272.2,338.4 L273.1,338.4 L274.1,338.3 L275.0,338.8 L275.9,339.0 L276.9,340.7 L277.8,341.4 L278.8,341.2 L279.7,341.5 L280.6,340.0 L281.6,339.6 L282.5,338.8 L283.4,339.0 L284.4,337.8 L285.3,336.0 L286.2,337.5 L287.2,338.1 L288.1,339.5 L289.1,340.0 L290.0,341.2 L290.9,340.6 L291.9,343.3 L292.8,341.7 L293.8,342.5 L294.7,342.9 L295.6,343.0 L296.6,343.8 L297.5,345.0 L298.4,343.8 L299.4,344.0 L300.3,342.7 L301.2,342.5 L302.2,341.8 L303.1,341.9 L304.1,341.6 L305.0,341.2 L305.9,339.0 L306.9,338.0 L307.8,338.0 L308.8,337.5 L309.8,335.7 L310.8,336.0 L311.8,336.1 L312.8,335.8 L313.8,335.0 L314.7,334.3 L315.6,334.7 L316.6,336.8 L317.5,336.2 L318.5,335.7 L319.5,337.8 L320.5,337.4 L321.5,338.4 L322.5,338.8 L323.5,339.2 L324.5,340.1 L325.5,339.4 L326.5,338.2 L327.5,338.8 L328.5,339.8 L329.5,339.1 L330.5,339.4 L331.5,339.9 L332.5,340.0 L333.5,340.9 L334.5,340.9 L335.5,340.8 L336.5,342.4 L337.5,341.2 L338.5,341.0 L339.5,342.6 L340.5,344.8 L341.5,340.0 L342.5,342.5 L343.5,343.2 L344.5,343.5 L345.5,344.4 L346.5,343.3 L347.5,345.0 L348.5,343.8 L349.5,343.9 L350.5,344.2 L351.5,343.5 L352.5,342.5 L353.5,342.4 L354.5,342.7 L355.5,343.3 L356.5,343.8 L357.5,343.0 L358.5,344.5 L359.5,344.3 L360.5,343.2 L361.5,345.1 L362.5,345.0 L363.5,345.6 L364.5,346.9 L365.5,347.1 L366.5,348.5 L367.5,348.8 L368.4,347.4 L369.4,347.7 L370.3,347.6 L371.2,347.5 L372.2,346.3 L373.1,347.8 L374.1,345.9 L375.0,346.2 L376.0,345.7 L377.0,345.3 L378.0,346.9 L379.0,347.3 L380.0,346.2 L381.0,348.2 L382.0,346.9 L383.0,346.2 L384.0,347.4 L385.0,347.0 L386.0,347.5 L387.0,347.6 L388.0,347.1 L389.0,346.3 L390.0,346.2 L391.0,345.7 L392.0,345.6 L393.0,345.9 L394.0,345.9 L395.0,345.0 L396.0,344.7 L397.0,346.2 L398.0,346.7 L399.0,347.5 L400.0,346.0 L401.0,345.7 L402.0,345.3 L403.0,343.8 L404.0,346.2 L405.0,345.1 L406.0,345.7 L407.0,345.3 L408.0,344.1 L409.0,342.9 L410.0,344.3 L411.1,343.5 L412.1,341.1 L413.1,341.9 L414.1,342.8 L415.1,343.1 L416.1,342.5 L417.1,341.4 L418.1,341.9 L419.1,342.8 L420.1,342.2 L421.1,341.9 L422.1,342.1 L423.1,341.4 L424.1,341.4 L425.1,341.0 L426.1,340.8 L427.1,343.2 L428.1,339.6 L429.1,341.2 L430.1,341.0 L431.1,340.3 L432.1,339.8 L433.1,341.5 L434.1,339.0 L435.2,340.3 L436.2,338.9 L437.2,339.3 L438.2,337.2 L439.2,338.4 L440.2,337.9 L441.2,336.7 L442.2,338.4 L443.2,338.2 L444.2,336.9 L445.2,337.5 L446.2,336.2 L447.2,336.3 L448.2,336.6 L449.2,336.1 L450.2,337.1 L451.2,337.0 L452.2,336.1 L453.2,336.3 L454.2,334.7 L455.2,333.8 L456.2,335.3 L457.3,338.2 L458.4,333.6 L459.5,334.1 L460.5,334.6 L461.6,333.4 L462.6,334.9 L463.6,331.9 L464.6,333.9 L465.6,331.9 L466.6,333.4 L467.6,332.6 L468.6,332.1 L469.6,332.6 L470.6,332.7 L471.6,333.2 L472.7,330.9 L473.7,332.4 L474.7,333.1 L475.7,332.7 L476.7,333.0 L477.7,332.6 L478.8,332.7 L479.8,332.2 L480.9,330.7 L482.0,331.3 L483.0,331.2 L484.1,330.3 L485.2,333.4 L486.2,331.8 L487.3,333.1 L488.4,332.6 L489.5,332.3 L490.5,331.7 L491.6,334.4 L492.7,333.8 L493.8,333.4 L494.8,332.9 L495.9,332.5 L497.0,331.9 L498.0,333.4 L499.1,331.8 L500.2,331.1 L501.3,330.5 L502.3,330.4 L503.4,329.5 L504.5,329.9 L505.5,330.9 L506.6,329.7 L507.7,331.4 L508.8,331.1 L509.8,330.7 L510.9,331.4 L512.0,331.5 L513.0,331.0 L514.1,331.1 L515.2,331.2 L516.3,331.5 L517.3,331.7 L518.4,332.7 L519.5,333.0 L520.5,332.6 L521.6,332.5 L522.7,332.5 L523.8,333.3 L524.8,334.3 L525.9,333.4 L527.0,333.6 L528.0,333.2 L529.1,333.5 L530.2,332.9 L531.2,333.9 L532.3,334.3 L533.4,333.1 L534.5,335.8 L535.5,335.2 L536.6,335.3 L537.7,336.2 L538.8,335.3 L539.8,335.0 L540.9,334.6 L542.0,334.5 L543.0,334.8 L544.1,333.9 L545.2,334.0 L546.2,333.9 L547.3,333.9 L548.4,333.8 L549.5,333.9 L550.5,333.9 L551.6,334.4 L552.7,334.5 L553.8,335.9 L554.8,334.1 L555.9,334.9 L557.0,335.2 L558.0,335.3 L559.1,333.6 L560.2,336.0 L561.2,336.8 L562.3,335.8 L563.4,335.3 L564.4,336.4 L565.4,333.7 L566.4,334.4 L567.4,335.0 L568.4,335.5 L569.4,336.1 L570.4,333.5 L571.4,334.5 L572.4,334.5 L573.4,335.3 L574.4,333.9 L575.5,334.6 L576.5,334.7 L577.5,334.4 L578.5,333.1 L579.5,333.9 L580.5,333.9 L581.5,334.5 L582.5,334.4 L583.5,333.8 L584.5,335.2 L585.5,335.7 L586.5,334.7 L587.5,334.5 L588.5,336.5 L589.5,334.4 L590.5,334.6 L591.5,334.8 L592.5,336.0 L593.5,335.9 L594.5,334.5 L595.5,335.3 L596.5,334.2 L597.5,336.3 L598.6,335.0 L599.6,336.0 L600.6,335.7 L601.6,334.4 L602.6,333.7 L603.6,335.3 L604.6,334.4 L605.7,334.9 L606.8,335.8 L607.9,335.4 L608.9,336.1 L610.0,336.0 L611.1,335.9 L612.1,336.0 L613.2,336.3 L614.3,335.3 L615.3,334.1 L616.3,334.6 L617.3,334.5 L618.3,333.6 L619.3,335.2 L620.3,335.5 L621.3,334.3 L622.3,334.5 L623.3,334.4 L624.3,334.8 L625.3,334.7 L626.3,334.5 L627.3,335.2 L628.4,333.3 L629.4,333.0 L630.4,333.9 L631.4,334.1 L632.4,334.0 L633.4,334.7 L634.4,333.7 L635.4,333.6 L636.4,334.8 L637.4,334.2 L638.4,334.5 L639.4,335.3 L640.4,334.8 L641.4,335.5 L642.4,334.3 L643.4,333.7 L644.4,335.5 L645.4,334.0 L646.4,333.9 L647.4,333.5 L648.4,333.8 L649.4,332.8 L650.5,332.7 L651.5,333.8 L652.5,333.6 L653.5,332.4 L654.5,332.6 L655.5,332.2 L656.5,332.6 L657.5,332.9 L658.5,332.3 L659.5,332.1 L660.5,332.5 L661.5,331.4 L662.5,331.8 L663.5,330.7 L664.5,331.8 L665.5,332.6 L666.5,331.1 L667.5,330.0 L668.5,331.8 L669.5,331.7 L670.5,331.2 L671.6,331.5 L672.7,331.4 L673.8,329.7 L674.8,329.7 L675.9,330.7 L677.0,330.9 L678.0,332.1 L679.1,330.4 L680.2,332.4 L681.2,331.2 L682.3,332.2 L683.3,330.2 L684.3,332.6 L685.3,332.1 L686.3,330.9 L687.3,331.7 L688.3,331.1 L689.3,331.8 L690.3,332.6 L691.3,332.6 L692.3,331.2 L693.3,330.6 L694.3,331.3 L695.3,329.3 L696.3,331.4 L697.3,331.2 L698.3,331.4 L699.3,331.4 L700.3,329.5 L701.3,330.1 L702.3,329.7 L703.4,331.5 L704.4,328.8 L705.4,329.9 L706.4,331.0 L707.4,330.1 L708.4,331.8 L709.4,331.0 L710.4,332.6 L711.4,330.7 L712.4,330.8 L713.4,331.8 L714.4,330.6 L715.4,330.1 L716.4,332.1 L717.4,333.2 L718.4,332.5 L719.4,331.9 L720.4,333.8 L721.4,331.2 L722.5,330.1 L723.6,329.6 L724.6,330.5 L725.7,329.4 L726.8,329.1 L727.8,330.3 L728.8,329.4 L729.8,328.8 L730.8,329.1 L731.8,330.8 L732.8,329.7 L733.8,329.6 L734.8,329.9 L735.8,329.1 L736.8,330.9 L737.8,329.8 L738.8,330.6 L739.8,331.3 L740.9,329.9 L741.9,330.0 L742.9,329.9 L743.9,330.7 L745.0,329.4 L746.1,330.8 L747.1,332.0 L748.2,330.7 L749.2,330.5 L750.2,332.3 L751.2,330.6 L752.2,331.7 L753.2,331.6 L754.2,331.4 L755.2,331.7 L756.2,331.8 L757.2,332.4 L758.2,331.2 L759.1,332.3 L760.1,333.5 L761.0,331.2 L762.0,333.3 L763.0,332.6" fill="none" stroke="#cc0000" stroke-width="1.0" shape-rendering="crispEdges" stroke-linejoin="round"/>
<path d="M51.0,386.2 L51.9,387.6 L52.8,388.1 L53.8,390.0 L54.8,389.8 L55.8,389.2 L56.8,389.4 L57.8,389.1 L58.8,388.8 L59.7,387.1 L60.6,384.9 L61.6,383.3 L62.5,382.5 L63.4,381.2 L64.4,381.3 L65.3,380.9 L66.2,380.0 L67.2,380.0 L68.1,379.2 L69.1,378.4 L70.0,378.8 L71.0,378.1 L72.0,378.8 L73.0,378.6 L74.0,378.2 L75.0,377.5 L76.0,376.6 L77.0,376.5 L78.0,376.4 L79.0,376.5 L80.0,375.0 L80.9,375.8 L81.9,377.2 L82.8,378.6 L83.8,380.0 L84.7,380.0 L85.6,380.9 L86.6,382.3 L87.5,382.5 L88.5,382.1 L89.5,380.1 L90.5,379.8 L91.5,378.5 L92.5,377.5 L93.4,375.0 L94.4,374.3 L95.3,372.0 L96.2,371.2 L97.2,371.9 L98.1,373.2 L99.1,373.5 L100.0,373.8 L100.9,374.2 L101.9,375.8 L102.8,376.4 L103.8,377.5 L104.7,378.1 L105.6,378.8 L106.6,379.2 L107.5,380.0 L108.4,379.6 L109.4,378.4 L110.3,377.9 L111.2,376.2 L112.5,379.1 L113.8,382.5 L115.0,392.5 L116.0,395.1 L117.0,397.5 L117.9,396.4 L118.8,395.0 L120.0,386.2 L120.9,381.9 L121.9,377.5 L122.8,374.7 L123.8,372.5 L124.7,372.9 L125.6,373.1 L126.6,373.4 L127.5,373.8 L128.4,374.5 L129.4,375.6 L130.6,377.5 L131.9,371.2 L132.8,366.7 L133.8,363.8 L134.7,363.4 L135.6,361.9 L136.6,361.8 L137.5,361.2 L138.4,360.5 L139.4,360.0 L141.0,358.5 L141.5,370.0 L142.0,387.5 L142.5,400.0 L143.1,410.0 L144.4,375.0 L145.0,365.6 L145.6,370.0 L146.2,381.2 L146.9,385.0 L147.5,381.2 L148.8,370.0 L150.0,357.5 L151.2,350.0 L152.2,342.5 L153.1,343.1 L154.4,346.2 L155.6,347.5 L156.9,352.5 L158.1,362.5 L159.4,370.0 L160.6,380.0 L161.2,387.5 L161.9,397.5 L162.5,406.2 L163.1,410.0 L163.8,407.5 L164.8,397.5 L165.6,395.0 L166.5,393.8 L167.5,397.5 L168.8,396.2 L170.0,393.8 L171.2,396.2 L172.5,398.8 L173.8,400.0 L175.0,398.8 L176.2,395.0 L177.5,387.5 L178.8,382.5 L180.0,378.8 L181.2,376.2 L182.5,378.8 L183.8,383.8 L185.0,387.5 L186.9,391.2 L188.8,393.1 L190.6,391.9 L192.5,388.8 L194.8,386.2 L196.2,387.5 L198.1,390.6 L200.0,392.5 L202.5,388.8 L203.5,389.3 L204.5,388.3 L205.5,387.4 L206.5,387.4 L207.5,387.5 L208.5,387.0 L209.5,387.7 L210.5,386.7 L211.5,387.6 L212.5,386.2 L213.5,386.4 L214.5,385.8 L215.5,385.5 L216.5,385.2 L217.5,385.0 L218.5,385.3 L219.5,385.1 L220.5,385.4 L221.5,386.6 L222.5,386.2 L223.5,386.0 L224.5,385.7 L225.5,386.7 L226.5,385.7 L227.5,385.5 L228.5,385.0 L229.5,385.8 L230.5,385.5 L231.5,385.3 L232.5,385.0 L233.5,385.2 L234.5,384.9 L235.5,385.4 L236.5,386.0 L237.5,386.2 L238.5,386.6 L239.5,386.3 L240.5,386.2 L241.5,387.2 L242.5,387.5 L243.5,386.8 L244.5,386.9 L245.5,387.3 L246.5,386.9 L247.5,387.0 L248.5,387.4 L249.5,387.0 L250.5,387.8 L251.5,387.6 L252.5,388.0 L253.5,388.2 L254.5,388.1 L255.5,386.5 L256.5,386.3 L257.5,386.2 L258.5,386.5 L259.5,384.4 L260.5,384.8 L261.5,383.6 L262.5,383.8 L263.5,382.7 L264.5,382.9 L265.5,384.1 L266.5,382.6 L267.5,382.5 L268.5,381.8 L269.5,382.7 L270.5,382.0 L271.5,382.4 L272.5,382.5 L273.5,381.5 L274.5,381.8 L275.5,381.3 L276.5,382.2 L277.5,381.2 L278.5,380.3 L279.5,380.1 L280.5,379.7 L281.5,379.0 L282.5,378.8 L283.5,378.4 L284.5,378.8 L285.5,378.3 L286.5,377.3 L287.5,377.5 L288.4,377.3 L289.4,377.6 L290.3,377.1 L291.2,376.2 L292.3,377.4 L293.3,376.8 L294.4,376.2 L295.4,376.4 L296.5,377.9 L297.5,377.5 L298.5,377.9 L299.5,377.1 L300.5,376.9 L301.5,377.6 L302.5,377.0 L303.4,376.7 L304.4,377.4 L305.3,377.1 L306.2,376.7 L307.2,376.8 L308.1,376.8 L309.1,377.5 L310.0,377.0 L310.9,376.7 L311.9,375.9 L312.8,377.1 L313.8,377.3 L314.7,377.8 L315.6,377.8 L316.6,378.0 L317.5,377.5 L318.4,376.7 L319.4,378.2 L320.3,377.9 L321.2,377.1 L322.2,376.7 L323.1,376.6 L324.1,376.6 L325.0,377.0 L325.9,377.2 L326.9,376.9 L327.8,376.5 L328.8,377.2 L329.7,377.1 L330.6,377.0 L331.6,377.4 L332.5,377.5 L333.4,376.7 L334.4,377.8 L335.3,377.0 L336.2,377.5 L337.2,377.7 L338.1,378.4 L339.1,377.0 L340.0,377.0 L340.9,377.1 L341.9,377.2 L342.8,376.6 L343.8,376.9 L344.7,376.0 L345.6,377.1 L346.6,376.3 L347.5,376.2 L348.5,376.5 L349.5,376.0 L350.5,376.2 L351.5,375.4 L352.5,375.5 L353.5,376.3 L354.5,376.3 L355.5,377.0 L356.5,377.5 L357.5,377.5 L358.5,377.5 L359.5,377.8 L360.5,378.7 L361.5,378.6 L362.5,379.5 L363.4,379.6 L364.4,379.6 L365.3,379.4 L366.2,380.5 L367.3,380.5 L368.3,379.3 L369.4,379.8 L370.4,379.3 L371.5,379.3 L372.5,378.8 L373.4,378.9 L374.4,378.6 L375.3,378.3 L376.2,379.2 L377.2,379.4 L378.1,377.9 L379.1,378.5 L380.0,378.8 L380.9,378.7 L381.9,378.3 L382.8,378.8 L383.8,378.6 L384.7,378.0 L385.6,378.4 L386.6,378.4 L387.5,378.0 L388.4,377.8 L389.4,378.3 L390.3,377.4 L391.2,378.8 L392.2,378.2 L393.1,378.0 L394.1,377.9 L395.0,378.0 L396.0,377.2 L397.0,377.6 L398.0,376.8 L399.0,376.6 L400.0,376.8 L401.0,375.7 L402.0,376.5 L403.0,376.1 L404.0,377.3 L405.0,376.0 L406.0,375.8 L407.0,376.0 L408.0,376.2 L409.0,376.2 L410.0,376.0 L411.1,375.4 L412.1,375.8 L413.1,376.4 L414.1,375.3 L415.1,376.5 L416.1,375.4 L417.1,374.6 L418.1,375.5 L419.1,375.1 L420.1,374.2 L421.1,374.7 L422.1,374.1 L423.1,373.5 L424.1,374.1 L425.1,374.9 L426.1,374.7 L427.1,373.9 L428.1,373.2 L429.1,374.1 L430.1,372.5 L431.1,372.7 L432.1,372.8 L433.1,372.9 L434.1,372.7 L435.2,371.5 L436.2,371.7 L437.2,371.8 L438.2,370.8 L439.2,370.2 L440.2,370.9 L441.2,370.6 L442.2,370.6 L443.2,371.4 L444.2,370.7 L445.2,370.0 L446.2,370.0 L447.2,370.5 L448.2,370.1 L449.2,369.3 L450.2,369.9 L451.2,370.7 L452.2,369.4 L453.2,369.2 L454.2,369.3 L455.2,369.5 L456.2,369.3 L457.3,369.5 L458.3,369.7 L459.3,369.3 L460.3,368.5 L461.3,369.6 L462.3,368.1 L463.3,368.6 L464.3,368.8 L465.3,369.5 L466.3,368.3 L467.3,368.1 L468.3,369.0 L469.3,368.3 L470.3,368.0 L471.3,368.4 L472.3,368.2 L473.3,368.0 L474.3,368.0 L475.3,369.3 L476.3,368.7 L477.3,369.3 L478.4,369.4 L479.4,368.4 L480.4,369.3 L481.4,369.6 L482.4,368.8 L483.4,369.1 L484.4,369.4 L485.4,369.2 L486.4,368.9 L487.4,369.2 L488.4,368.8 L489.4,369.0 L490.4,368.0 L491.4,368.4 L492.4,369.4 L493.4,368.4 L494.4,368.6 L495.4,368.6 L496.4,368.8 L497.4,368.6 L498.4,368.4 L499.4,368.5 L500.5,367.9 L501.5,368.9 L502.5,368.2 L503.5,367.6 L504.5,368.2 L505.5,368.2 L506.5,368.6 L507.5,367.8 L508.5,368.2 L509.5,367.8 L510.5,367.2 L511.5,368.4 L512.5,368.2 L513.5,368.3 L514.5,368.6 L515.5,368.3 L516.5,368.9 L517.5,368.7 L518.5,368.9 L519.5,368.9 L520.5,368.8 L521.5,370.2 L522.5,369.7 L523.6,370.1 L524.6,368.8 L525.6,369.1 L526.6,369.4 L527.6,370.5 L528.6,370.1 L529.6,370.5 L530.6,369.4 L531.6,371.6 L532.6,370.3 L533.6,369.7 L534.6,370.5 L535.6,369.7 L536.6,370.1 L537.6,369.1 L538.6,370.2 L539.6,371.4 L540.6,369.6 L541.6,370.9 L542.6,370.3 L543.6,370.6 L544.6,370.9 L545.6,371.2 L546.6,370.5 L547.7,370.6 L548.7,370.7 L549.7,371.1 L550.7,371.5 L551.7,371.3 L552.7,370.9 L553.7,371.1 L554.7,371.1 L555.7,370.6 L556.7,371.1 L557.7,370.2 L558.7,371.9 L559.7,370.2 L560.7,370.9 L561.7,371.3 L562.7,371.7 L563.6,371.3 L564.6,371.1 L565.6,370.9 L566.6,370.8 L567.5,371.5 L568.5,371.5 L569.5,371.6 L570.5,371.3 L571.4,370.9 L572.4,371.0 L573.4,370.6 L574.4,371.7 L575.3,371.0 L576.3,370.9 L577.3,370.6 L578.2,371.4 L579.2,370.5 L580.2,371.3 L581.2,371.3 L582.1,370.9 L583.1,370.2 L584.1,371.0 L585.1,370.5 L586.0,370.6 L587.0,370.6 L588.0,370.8 L589.0,370.5 L589.9,370.4 L590.9,370.7 L591.9,369.8 L592.9,370.9 L593.8,370.7 L594.8,370.9 L595.8,370.9 L596.8,370.5 L597.7,371.3 L598.7,369.9 L599.7,371.1 L600.6,370.2 L601.6,371.4 L602.6,371.2 L603.6,370.9 L604.5,370.7 L605.5,370.7 L606.5,371.0 L607.5,370.7 L608.4,371.1 L609.4,370.0 L610.4,370.6 L611.4,370.9 L612.3,370.7 L613.3,370.7 L614.3,370.4 L615.3,371.1 L616.2,369.7 L617.2,370.8 L618.2,370.9 L619.2,369.7 L620.1,370.6 L621.1,370.6 L622.1,369.9 L623.1,370.2 L624.0,370.0 L625.0,369.8 L626.0,368.8 L626.9,368.7 L627.9,370.0 L628.9,370.4 L629.9,369.6 L630.8,369.3 L631.8,369.5 L632.8,369.6 L633.8,369.4 L634.7,369.2 L635.7,369.6 L636.7,370.1 L637.7,370.5 L638.6,369.7 L639.6,369.8 L640.6,369.5 L641.6,370.2 L642.5,369.4 L643.5,368.7 L644.5,369.5 L645.5,369.5 L646.4,369.3 L647.4,369.5 L648.4,368.9 L649.4,369.0 L650.3,369.6 L651.3,369.1 L652.3,369.1 L653.3,369.6 L654.2,369.0 L655.2,368.8 L656.2,368.9 L657.1,368.8 L658.1,369.3 L659.1,368.1 L660.1,369.2 L661.0,368.2 L662.0,369.2 L663.0,368.0 L664.0,368.8 L664.9,368.1 L665.9,367.4 L666.9,367.9 L667.9,367.9 L668.8,368.0 L669.8,367.6 L670.8,368.1 L671.8,368.0 L672.7,368.0 L673.7,367.6 L674.7,368.1 L675.6,367.3 L676.6,368.5 L677.6,367.0 L678.6,367.4 L679.5,368.2 L680.5,367.5 L681.5,367.0 L682.5,367.0 L683.4,367.3 L684.4,368.0 L685.4,368.2 L686.4,367.7 L687.3,368.1 L688.3,367.6 L689.3,367.4 L690.3,367.7 L691.2,368.4 L692.2,368.2 L693.2,367.7 L694.2,367.9 L695.1,367.6 L696.1,366.8 L697.1,367.9 L698.1,366.6 L699.0,367.1 L700.0,367.4 L701.1,367.7 L702.1,367.0 L703.2,366.5 L704.3,367.5 L705.4,366.9 L706.4,366.7 L707.4,367.1 L708.4,368.3 L709.4,367.7 L710.4,367.4 L711.4,367.9 L712.4,368.0 L713.4,368.2 L714.4,368.5 L715.4,367.7 L716.4,367.6 L717.4,368.0 L718.4,367.3 L719.4,367.5 L720.4,367.6 L721.4,367.9 L722.4,367.8 L723.4,367.6 L724.4,368.9 L725.5,367.9 L726.5,368.2 L727.5,368.2 L728.5,367.1 L729.5,367.9 L730.5,368.5 L731.5,367.4 L732.5,367.4 L733.5,368.8 L734.5,368.5 L735.5,367.9 L736.5,367.4 L737.5,368.2 L738.5,369.1 L739.5,368.5 L740.5,367.6 L741.5,367.9 L742.5,368.4 L743.5,368.1 L744.5,368.3 L745.5,368.2 L746.5,369.6 L747.5,369.1 L748.6,368.6 L749.6,369.1 L750.6,368.7 L751.6,368.5 L752.6,368.7 L753.6,368.8 L754.6,368.7 L755.6,368.8 L756.6,369.5 L757.6,368.8 L758.6,368.9 L759.6,368.7 L760.6,370.0 L761.6,369.3" fill="none" stroke="#0000ff" stroke-width="1.0" shape-rendering="crispEdges" stroke-linejoin="round"/>
<path d="M51.0,420.0 L51.9,422.4 L52.8,423.7 L53.8,425.0 L54.7,426.2 L55.6,425.8 L56.6,426.6 L57.5,427.5 L58.4,425.2 L59.4,425.5 L60.3,423.0 L61.2,422.5 L62.2,421.0 L63.1,419.1 L64.1,417.8 L65.0,416.2 L65.9,417.6 L66.9,419.9 L67.8,419.6 L68.8,421.2 L69.7,421.9 L70.6,422.5 L71.6,422.5 L72.5,423.8 L73.5,423.1 L74.5,423.0 L75.5,423.0 L76.5,422.8 L77.5,422.5 L78.5,421.6 L79.5,421.3 L80.5,420.9 L81.5,419.5 L82.5,418.8 L83.5,418.6 L84.5,418.5 L85.5,416.4 L86.5,416.1 L87.5,416.2 L88.5,415.7 L89.5,417.7 L90.5,417.3 L91.5,417.7 L92.5,417.5 L93.5,416.8 L94.5,417.6 L95.5,416.2 L96.5,416.4 L97.5,415.0 L98.4,415.4 L99.4,414.0 L100.3,415.8 L101.2,415.0 L102.5,416.7 L103.8,420.0 L104.7,420.5 L105.6,422.3 L106.6,424.2 L107.5,425.0 L108.4,424.8 L109.4,424.3 L110.3,423.9 L111.2,423.8 L112.5,419.4 L113.8,417.5 L114.6,413.4 L115.5,410.0 L116.5,413.0 L117.5,417.5 L118.5,420.3 L119.5,425.0 L120.0,425.0 L121.0,424.2 L121.9,421.9 L123.1,425.0 L124.0,423.0 L125.0,422.5 L126.0,419.7 L126.9,416.2 L128.1,411.2 L129.4,407.5 L130.4,407.7 L131.5,407.3 L132.5,407.5 L133.8,406.6 L135.0,406.9 L135.9,405.8 L136.9,405.0 L137.8,403.0 L138.8,401.2 L139.4,400.0 L140.6,395.0 L141.9,410.0 L142.5,425.0 L143.1,435.0 L144.4,441.0 L145.6,446.0 L146.2,431.0 L146.9,412.5 L147.5,400.0 L148.5,371.0 L149.4,377.5 L150.0,387.5 L150.6,400.0 L151.2,412.5 L151.9,431.0 L152.5,447.5 L153.5,459.4 L154.4,447.5 L155.6,431.0 L156.9,421.0 L158.1,412.5 L160.0,411.0 L161.2,407.5 L161.9,400.0 L162.5,385.0 L163.5,369.4 L164.4,375.0 L165.2,385.0 L166.2,393.8 L166.9,400.0 L167.8,411.0 L169.0,425.0 L170.0,435.0 L170.6,439.4 L171.5,431.0 L173.1,421.0 L174.4,418.8 L176.2,420.0 L178.1,420.0 L180.0,421.2 L181.9,421.9 L183.8,423.8 L185.6,427.5 L188.1,428.8 L190.0,430.6 L192.5,433.0 L195.0,430.6 L196.9,428.8 L198.8,429.4 L200.0,430.0 L202.5,427.5 L203.4,427.8 L204.4,427.3 L205.3,428.3 L206.2,428.8 L207.2,428.7 L208.1,427.5 L209.1,426.3 L210.0,426.2 L210.9,425.7 L211.9,425.4 L212.8,424.4 L213.8,423.8 L214.7,424.9 L215.6,425.1 L216.6,425.6 L217.5,426.2 L218.5,426.5 L219.5,425.5 L220.5,425.0 L221.5,424.9 L222.5,425.0 L223.5,425.8 L224.5,426.3 L225.5,425.3 L226.5,426.4 L227.5,426.2 L228.5,426.7 L229.5,425.8 L230.5,425.1 L231.5,425.7 L232.5,425.0 L233.4,425.4 L234.4,426.1 L235.3,428.4 L236.2,427.5 L237.2,425.9 L238.1,425.9 L239.1,424.7 L240.0,423.8 L240.9,422.8 L241.9,420.9 L242.8,421.2 L243.8,420.0 L244.7,421.5 L245.6,421.9 L246.6,422.4 L247.5,423.8 L248.8,424.8 L250.0,427.5 L250.9,426.0 L251.9,425.7 L252.8,425.2 L253.8,423.8 L254.7,423.5 L255.6,421.6 L256.6,421.6 L257.5,421.2 L258.4,420.3 L259.4,420.9 L260.3,419.9 L261.2,419.5 L262.2,419.6 L263.1,421.6 L264.1,422.4 L265.0,422.5 L266.0,422.8 L267.0,422.0 L268.0,421.6 L269.0,421.7 L270.0,421.2 L271.0,421.4 L272.0,421.0 L273.0,420.7 L274.0,420.9 L275.0,420.0 L276.0,420.1 L277.0,420.2 L278.0,420.2 L279.0,420.6 L280.0,421.2 L281.0,420.5 L282.0,419.8 L283.0,420.1 L284.0,419.8 L285.0,419.5 L286.0,418.9 L287.0,419.2 L288.0,419.2 L289.0,418.7 L290.0,418.8 L291.0,418.7 L292.0,420.1 L293.0,419.4 L294.0,420.8 L295.0,421.2 L296.0,421.7 L297.0,420.6 L298.0,420.6 L299.0,421.5 L300.0,421.2 L301.0,419.6 L302.0,420.5 L303.0,420.6 L304.0,420.0 L305.0,420.0 L306.0,419.7 L307.0,419.2 L308.0,418.4 L309.0,416.9 L310.0,417.5 L311.0,417.5 L312.0,416.8 L313.0,415.9 L314.0,416.1 L315.0,415.0 L316.0,414.7 L317.0,415.1 L318.0,414.3 L319.0,414.5 L320.0,414.5 L321.0,414.7 L322.0,414.7 L323.0,414.6 L324.0,414.8 L325.0,415.5 L325.9,415.7 L326.9,415.4 L327.8,415.8 L328.8,415.8 L329.7,415.2 L330.6,416.3 L331.6,415.3 L332.5,415.5 L333.4,415.5 L334.4,415.6 L335.3,416.3 L336.2,415.5 L337.2,415.3 L338.1,416.4 L339.1,416.6 L340.0,416.2 L340.9,416.8 L341.9,417.0 L342.8,417.4 L343.8,417.9 L344.7,416.6 L345.6,416.0 L346.6,416.7 L347.5,417.5 L348.5,418.6 L349.5,418.2 L350.5,417.6 L351.5,417.8 L352.5,417.5 L353.5,418.9 L354.5,419.5 L355.5,420.3 L356.5,421.8 L357.5,422.5 L358.5,422.3 L359.5,423.1 L360.5,423.8 L361.5,423.8 L362.5,425.0 L363.5,425.5 L364.5,424.1 L365.5,423.8 L366.5,423.4 L367.5,423.8 L368.5,424.4 L369.5,422.6 L370.5,424.1 L371.5,423.9 L372.5,425.0 L373.5,424.7 L374.5,424.8 L375.5,424.9 L376.5,424.8 L377.5,423.8 L378.5,423.4 L379.5,423.6 L380.5,422.6 L381.5,422.1 L382.5,422.5 L383.5,422.0 L384.5,421.0 L385.5,421.1 L386.5,421.0 L387.5,421.2 L388.5,420.6 L389.5,420.8 L390.5,420.9 L391.5,420.7 L392.5,420.0 L393.4,420.0 L394.4,419.5 L395.3,418.6 L396.2,419.7 L397.2,419.5 L398.1,418.1 L399.1,418.9 L400.0,418.1 L401.1,418.7 L402.1,418.1 L403.2,418.5 L404.3,418.9 L405.4,418.9 L406.4,418.5 L407.5,418.8 L408.6,417.9 L409.6,417.9 L410.7,417.3 L411.8,416.8 L412.9,417.2 L413.9,416.0 L415.0,416.2 L416.1,416.8 L417.1,416.9 L418.2,415.7 L419.3,415.5 L420.4,415.2 L421.4,415.4 L422.5,415.1 L423.6,414.7 L424.6,415.4 L425.7,414.5 L426.8,414.1 L427.9,414.0 L428.9,413.7 L430.0,413.2 L431.1,412.8 L432.1,412.8 L433.1,412.2 L434.1,412.3 L435.2,412.2 L436.2,412.5 L437.2,412.4 L438.2,411.9 L439.2,411.4 L440.2,412.0 L441.2,412.8 L442.2,412.2 L443.2,411.9 L444.2,410.6 L445.2,410.8 L446.2,411.1 L447.2,410.8 L448.2,410.9 L449.2,410.7 L450.2,410.3 L451.2,410.4 L452.2,410.4 L453.2,410.7 L454.2,410.4 L455.2,410.0 L456.2,410.1 L457.3,410.1 L458.3,410.7 L459.3,410.0 L460.3,409.3 L461.3,408.8 L462.3,409.5 L463.3,409.5 L464.3,409.3 L465.3,408.3 L466.3,408.8 L467.3,409.2 L468.3,408.8 L469.3,408.1 L470.3,407.9 L471.3,408.1 L472.3,408.2 L473.4,407.5 L474.5,407.7 L475.5,407.8 L476.6,406.1 L477.7,407.7 L478.8,407.1 L479.8,408.4 L480.9,408.0 L482.0,407.8 L483.0,408.8 L484.1,409.1 L485.2,408.4 L486.2,407.5 L487.3,408.1 L488.4,407.7 L489.4,408.0 L490.4,407.7 L491.4,407.8 L492.4,408.3 L493.4,408.0 L494.4,408.3 L495.4,408.7 L496.4,408.2 L497.5,407.9 L498.6,409.3 L499.6,408.4 L500.7,408.8 L501.8,409.3 L502.9,409.5 L503.9,407.5 L505.0,408.7 L506.1,409.2 L507.1,407.7 L508.2,407.3 L509.3,408.1 L510.4,408.2 L511.4,407.9 L512.5,408.2 L513.5,408.9 L514.5,408.1 L515.5,408.3 L516.5,408.8 L517.5,408.4 L518.5,408.3 L519.5,407.9 L520.5,408.8 L521.6,409.6 L522.7,409.4 L523.8,409.6 L524.8,409.6 L525.9,410.1 L526.9,410.0 L527.9,410.5 L528.9,409.4 L529.9,410.6 L530.9,409.5 L531.9,409.4 L532.9,409.5 L533.9,409.6 L534.9,409.1 L535.9,409.9 L536.9,409.9 L538.0,409.0 L539.0,409.4 L540.0,410.3 L541.0,409.7 L542.0,410.1 L543.0,410.1 L544.0,410.6 L545.0,411.3 L546.0,410.5 L547.0,410.2 L548.0,411.1 L549.0,409.9 L550.0,410.9 L551.1,411.5 L552.1,411.8 L553.2,411.1 L554.3,411.3 L555.4,412.0 L556.4,411.5 L557.5,412.4 L558.6,411.1 L559.6,411.8 L560.7,411.4 L561.7,410.6 L562.7,410.7 L563.7,412.3 L564.7,411.1 L565.7,411.7 L566.7,410.9 L567.7,411.4 L568.8,411.4 L569.8,411.0 L570.8,411.2 L571.8,410.9 L572.8,411.4 L573.8,411.6 L574.8,411.3 L575.8,411.3 L576.8,411.4 L577.9,411.2 L578.9,411.0 L580.0,411.8 L581.1,412.0 L582.1,412.0 L583.1,411.6 L584.1,412.5 L585.1,412.4 L586.0,412.0 L587.0,411.7 L588.0,412.2 L589.0,411.9 L589.9,412.5 L590.9,412.2 L591.9,412.8 L592.9,412.2 L593.8,412.5 L594.8,411.6 L595.8,412.8 L596.8,412.7 L597.7,412.4 L598.7,412.2 L599.7,412.7 L600.6,411.6 L601.6,412.1 L602.6,413.2 L603.6,412.2 L604.6,412.7 L605.6,411.7 L606.6,411.7 L607.6,412.4 L608.6,412.6 L609.6,412.7 L610.6,412.6 L611.6,412.0 L612.6,411.6 L613.6,411.8 L614.6,411.2 L615.6,411.4 L616.6,410.5 L617.6,410.8 L618.6,410.1 L619.6,410.4 L620.6,410.8 L621.6,410.8 L622.6,410.0 L623.5,409.7 L624.5,409.9 L625.5,411.2 L626.5,409.6 L627.4,409.3 L628.4,409.4 L629.4,409.7 L630.4,410.1 L631.3,409.0 L632.3,410.5 L633.3,408.7 L634.3,410.7 L635.2,409.5 L636.2,409.9 L637.2,410.2 L638.1,409.8 L639.1,410.7 L640.1,411.1 L641.1,410.1 L642.1,409.5 L643.1,410.4 L644.1,410.1 L645.1,409.2 L646.1,410.2 L647.1,409.9 L648.1,409.6 L649.1,409.6 L650.1,409.3 L651.1,408.9 L652.1,409.6 L653.1,408.6 L654.1,408.3 L655.1,409.0 L656.1,409.1 L657.1,408.8 L658.1,409.8 L659.1,407.8 L660.1,409.0 L661.0,408.6 L662.0,409.6 L663.0,409.1 L664.0,408.3 L664.9,409.2 L665.9,408.0 L666.9,409.7 L667.9,408.8 L668.8,407.4 L669.8,408.9 L670.8,408.6 L671.8,408.5 L672.7,409.5 L673.7,408.7 L674.7,407.8 L675.6,408.2 L676.6,407.7 L677.6,408.3 L678.6,408.2 L679.5,408.0 L680.5,408.1 L681.5,408.0 L682.5,407.7 L683.4,407.8 L684.4,409.1 L685.4,408.8 L686.4,408.2 L687.3,409.0 L688.3,408.6 L689.3,408.8 L690.4,408.5 L691.4,408.1 L692.5,407.9 L693.6,407.7 L694.6,408.2 L695.7,408.5 L696.8,408.2 L697.9,408.5 L698.9,408.4 L700.0,408.2 L701.1,407.9 L702.1,407.1 L703.2,407.7 L704.3,407.0 L705.4,406.9 L706.4,406.8 L707.5,406.6 L708.6,407.3 L709.6,408.9 L710.7,408.2 L711.8,408.1 L712.9,408.5 L713.9,409.2 L715.0,408.2 L716.1,409.3 L717.1,410.0 L718.2,408.2 L719.3,409.8 L720.4,408.8 L721.4,408.8 L722.5,408.6 L723.6,409.1 L724.6,409.1 L725.7,407.8 L726.8,407.9 L727.8,408.4 L728.8,408.9 L729.8,408.1 L730.8,408.3 L731.8,407.8 L732.8,407.8 L733.8,408.7 L734.8,408.8 L735.8,409.6 L736.8,409.2 L737.8,408.9 L738.8,408.0 L739.8,409.1 L740.9,408.1 L741.9,408.6 L742.9,408.8 L743.9,408.7 L744.9,409.4 L745.9,407.9 L746.9,409.3 L747.9,408.9 L748.9,408.9 L749.9,409.2 L750.9,408.8 L751.9,408.7 L752.9,409.5 L753.9,408.7 L754.9,407.8 L755.9,409.6 L756.9,410.3 L757.9,409.0 L758.9,409.3 L759.9,410.1 L760.9,409.3 L761.9,408.6 L763.0,409.3" fill="none" stroke="#008000" stroke-width="1.0" shape-rendering="crispEdges" stroke-linejoin="round"/>
<path d="M51.0,442.5 L51.8,447.0 L52.5,448.8 L53.8,448.8 L55.0,450.0 L56.2,446.0 L57.5,440.0 L58.2,437.9 L59.0,436.2 L59.8,437.7 L60.5,440.0 L61.5,445.3 L62.5,450.0 L63.8,453.1 L65.0,456.2 L65.9,455.7 L66.9,454.2 L67.8,453.6 L68.8,453.8 L69.7,454.0 L70.6,453.5 L71.6,454.0 L72.5,453.8 L73.5,454.4 L74.5,454.3 L75.5,454.4 L76.5,456.3 L77.5,456.2 L78.4,457.6 L79.4,457.0 L80.3,458.1 L81.2,457.5 L82.2,457.3 L83.1,455.5 L84.1,455.4 L85.0,455.0 L85.9,455.0 L86.9,454.0 L87.8,453.2 L88.8,452.5 L89.7,453.0 L90.6,453.4 L91.6,453.4 L92.5,453.8 L93.4,453.9 L94.4,454.9 L95.3,454.9 L96.2,455.0 L97.2,455.6 L98.1,456.1 L99.1,456.7 L100.0,457.5 L100.9,458.6 L101.9,460.4 L102.8,461.7 L103.8,463.8 L105.0,464.4 L106.2,464.5 L107.2,463.6 L108.1,463.4 L109.1,462.2 L110.0,461.2 L110.9,460.0 L111.9,459.5 L112.8,459.1 L113.8,457.5 L115.0,456.5 L116.2,455.5 L117.5,459.3 L118.8,462.5 L120.0,461.2 L121.2,460.8 L122.5,459.4 L123.8,457.4 L125.0,456.9 L126.2,456.0 L127.5,455.0 L128.8,455.0 L130.0,454.0 L130.9,455.9 L131.9,455.6 L132.8,455.3 L133.8,455.0 L135.0,453.8 L136.2,454.4 L137.5,451.2 L138.8,447.5 L139.8,446.5 L140.2,452.5 L141.0,458.8 L141.5,470.0 L142.2,475.0 L143.5,481.2 L144.4,490.0 L145.0,500.0 L145.6,510.0 L146.2,525.0 L146.6,530.0 L147.0,520.0 L147.5,497.5 L148.1,486.2 L148.8,481.2 L149.4,483.8 L150.0,493.8 L150.6,502.5 L151.2,512.5 L152.0,525.0 L152.8,535.0 L153.8,522.5 L154.8,506.2 L155.6,481.2 L156.2,470.0 L157.5,462.5 L158.8,458.8 L160.0,461.2 L161.2,455.0 L162.5,450.0 L163.1,446.9 L163.8,450.0 L164.8,460.0 L165.6,470.0 L166.9,473.8 L168.1,478.8 L169.4,485.0 L171.2,493.8 L172.5,485.0 L173.8,477.5 L175.0,475.0 L176.9,476.2 L178.8,478.8 L180.0,481.2 L181.9,477.5 L183.1,473.8 L184.4,470.0 L185.6,466.9 L187.5,467.5 L189.4,470.0 L191.2,472.5 L193.1,474.4 L195.0,473.8 L196.9,471.2 L198.8,468.8 L200.0,468.0 L203.8,472.5 L204.7,471.6 L205.6,470.2 L206.6,469.8 L207.5,468.8 L208.5,468.2 L209.5,467.7 L210.5,467.2 L211.5,466.4 L212.5,466.2 L213.5,466.2 L214.5,466.5 L215.5,466.2 L216.5,465.2 L217.5,465.0 L218.5,465.6 L219.5,465.4 L220.5,465.4 L221.5,466.9 L222.5,466.2 L223.5,465.9 L224.5,466.0 L225.5,465.6 L226.5,465.5 L227.5,465.0 L228.5,464.6 L229.5,464.5 L230.5,464.0 L231.5,465.5 L232.5,464.5 L233.5,465.2 L234.5,464.6 L235.5,465.0 L236.5,464.9 L237.5,465.0 L238.5,464.9 L239.5,464.5 L240.5,464.3 L241.5,464.1 L242.5,463.8 L243.5,464.1 L244.5,463.8 L245.5,463.7 L246.5,464.4 L247.5,464.5 L248.5,464.9 L249.5,464.6 L250.5,465.7 L251.5,465.0 L252.5,465.0 L253.5,465.3 L254.5,465.0 L255.5,465.1 L256.5,464.7 L257.5,464.5 L258.5,463.8 L259.5,463.8 L260.5,463.4 L261.5,463.8 L262.5,463.8 L263.5,462.8 L264.5,462.7 L265.5,462.2 L266.5,462.0 L267.5,461.2 L268.5,461.1 L269.5,460.6 L270.5,460.3 L271.5,460.2 L272.5,459.5 L273.5,458.9 L274.5,459.1 L275.5,457.4 L276.5,457.8 L277.5,457.5 L278.5,458.5 L279.5,457.6 L280.5,457.9 L281.5,457.9 L282.5,458.8 L283.5,459.2 L284.5,459.8 L285.5,459.9 L286.5,459.2 L287.5,460.5 L288.5,460.2 L289.5,461.7 L290.5,461.1 L291.5,460.8 L292.5,460.0 L293.5,458.9 L294.5,459.9 L295.5,459.3 L296.5,458.6 L297.5,458.8 L298.5,459.4 L299.5,458.6 L300.5,459.8 L301.5,459.4 L302.5,460.0 L303.5,459.6 L304.5,459.9 L305.5,459.0 L306.5,458.8 L307.5,458.8 L308.5,459.6 L309.5,458.7 L310.5,459.4 L311.5,459.6 L312.5,459.5 L313.5,458.9 L314.5,459.6 L315.5,457.8 L316.5,458.2 L317.5,457.5 L318.5,456.9 L319.5,457.4 L320.5,456.6 L321.5,456.2 L322.5,455.5 L323.5,455.1 L324.5,454.8 L325.5,455.8 L326.5,454.2 L327.5,455.0 L328.5,455.2 L329.5,455.1 L330.5,455.1 L331.5,455.0 L332.5,455.5 L333.5,456.6 L334.5,455.6 L335.5,455.4 L336.5,454.6 L337.5,455.0 L338.5,455.3 L339.5,454.6 L340.5,454.4 L341.5,454.3 L342.5,454.5 L343.5,454.4 L344.5,454.6 L345.5,454.9 L346.5,455.2 L347.5,455.5 L348.5,455.2 L349.5,455.3 L350.5,455.8 L351.5,456.0 L352.5,456.2 L353.5,456.9 L354.5,457.5 L355.5,457.7 L356.5,458.1 L357.5,458.8 L358.5,459.2 L359.5,459.5 L360.5,460.2 L361.5,459.6 L362.5,460.0 L363.5,459.7 L364.5,459.8 L365.5,460.3 L366.5,459.9 L367.5,460.5 L368.5,459.7 L369.5,459.6 L370.5,459.1 L371.5,459.4 L372.5,458.8 L373.5,458.7 L374.5,459.2 L375.5,459.4 L376.5,458.9 L377.5,459.5 L378.5,459.7 L379.5,459.0 L380.5,458.4 L381.5,457.3 L382.5,457.5 L383.5,457.3 L384.5,456.8 L385.5,457.1 L386.5,457.4 L387.5,457.0 L388.5,457.1 L389.5,457.1 L390.5,457.3 L391.5,456.5 L392.5,456.2 L393.4,456.0 L394.4,455.3 L395.3,455.9 L396.2,455.0 L397.2,455.8 L398.1,455.4 L399.1,454.7 L400.0,454.8 L401.0,454.5 L402.0,456.1 L403.0,455.0 L404.0,455.6 L405.0,454.9 L406.0,454.6 L407.0,455.3 L408.0,454.3 L409.0,453.9 L410.0,453.8 L411.1,453.7 L412.1,454.4 L413.1,453.2 L414.1,453.2 L415.1,453.0 L416.1,452.9 L417.1,453.5 L418.1,452.9 L419.1,452.7 L420.1,452.5 L421.1,451.6 L422.1,451.6 L423.1,451.9 L424.1,451.6 L425.1,451.7 L426.1,450.7 L427.1,450.9 L428.1,451.3 L429.1,450.4 L430.1,450.4 L431.1,450.4 L432.1,450.3 L433.1,450.3 L434.1,449.2 L435.2,450.6 L436.2,450.0 L437.2,450.5 L438.2,449.1 L439.2,450.0 L440.2,449.5 L441.2,449.1 L442.2,449.2 L443.2,448.5 L444.2,449.3 L445.2,449.2 L446.2,448.1 L447.2,449.1 L448.2,448.4 L449.2,449.2 L450.2,448.6 L451.2,447.9 L452.2,448.2 L453.2,447.4 L454.2,448.0 L455.2,447.6 L456.2,447.9 L457.3,447.5 L458.3,447.3 L459.3,447.6 L460.3,447.2 L461.3,446.6 L462.3,447.6 L463.3,447.0 L464.3,447.1 L465.3,447.5 L466.3,447.1 L467.3,447.1 L468.3,446.6 L469.3,446.1 L470.3,446.7 L471.3,446.8 L472.3,446.8 L473.3,446.9 L474.3,445.8 L475.3,446.8 L476.3,446.4 L477.3,446.6 L478.4,445.6 L479.4,446.1 L480.4,446.2 L481.4,446.2 L482.4,445.7 L483.4,446.1 L484.4,446.4 L485.4,447.4 L486.4,445.4 L487.4,446.5 L488.4,446.2 L489.4,446.2 L490.4,446.9 L491.4,446.3 L492.4,446.0 L493.4,445.9 L494.4,447.3 L495.4,445.9 L496.4,446.2 L497.4,446.3 L498.4,446.9 L499.4,445.9 L500.5,446.7 L501.5,446.0 L502.5,446.5 L503.5,447.2 L504.5,446.8 L505.5,447.3 L506.5,446.6 L507.5,446.6 L508.5,447.3 L509.5,447.5 L510.5,446.4 L511.5,447.2 L512.5,447.1 L513.5,447.1 L514.5,447.5 L515.5,446.6 L516.5,447.0 L517.5,447.2 L518.5,447.1 L519.5,447.0 L520.5,447.6 L521.5,447.9 L522.5,447.9 L523.6,448.6 L524.6,447.7 L525.6,447.3 L526.6,447.6 L527.6,448.2 L528.6,448.4 L529.6,448.2 L530.6,448.7 L531.6,448.1 L532.6,448.0 L533.6,448.2 L534.6,449.0 L535.6,448.4 L536.6,448.4 L537.6,448.3 L538.6,447.9 L539.6,448.4 L540.6,447.6 L541.6,448.3 L542.6,448.0 L543.6,448.3 L544.6,448.4 L545.6,449.0 L546.6,448.2 L547.7,448.6 L548.7,449.1 L549.7,449.3 L550.7,448.9 L551.7,449.2 L552.7,448.9 L553.8,449.0 L554.8,449.3 L555.9,449.6 L557.0,450.8 L558.0,450.3 L559.0,450.0 L560.0,450.3 L561.1,450.7 L562.1,450.9 L563.1,450.0 L564.1,451.7 L565.1,449.8 L566.1,450.3 L567.0,450.3 L568.0,450.3 L569.0,449.5 L570.0,450.1 L570.9,451.0 L571.9,450.5 L572.9,449.7 L573.9,450.2 L574.8,450.4 L575.8,450.6 L576.8,450.3 L577.8,450.8 L578.7,450.2 L579.7,451.1 L580.7,451.0 L581.7,450.8 L582.6,450.7 L583.6,449.4 L584.6,449.7 L585.6,450.0 L586.5,450.4 L587.5,450.3 L588.5,451.0 L589.4,450.5 L590.4,449.5 L591.4,449.7 L592.4,450.2 L593.3,449.9 L594.3,451.6 L595.3,450.6 L596.3,450.7 L597.2,450.0 L598.2,450.3 L599.2,450.3 L600.2,449.4 L601.1,450.2 L602.1,451.1 L603.1,450.0 L604.1,450.1 L605.0,450.7 L606.0,450.2 L607.0,450.6 L608.0,450.7 L608.9,450.3 L610.0,449.7 L611.1,449.6 L612.1,450.3 L613.2,449.2 L614.3,448.9 L615.3,448.7 L616.3,448.8 L617.3,448.9 L618.3,449.2 L619.3,447.7 L620.3,448.8 L621.3,448.2 L622.3,448.4 L623.3,448.2 L624.3,449.2 L625.2,448.8 L626.2,447.8 L627.2,448.8 L628.2,448.7 L629.1,448.8 L630.1,448.8 L631.1,448.7 L632.1,448.0 L633.0,448.4 L634.0,449.4 L635.0,448.1 L636.1,448.6 L637.1,448.0 L638.1,448.6 L639.1,448.9 L640.1,447.9 L641.1,448.4 L642.1,448.0 L643.1,448.2 L644.1,449.5 L645.1,448.2 L646.1,447.8 L647.1,447.3 L648.1,447.5 L649.1,447.9 L650.1,448.1 L651.1,447.8 L652.1,448.6 L653.1,447.4 L654.1,448.0 L655.1,447.2 L656.1,448.0 L657.1,447.3 L658.1,447.3 L659.1,446.7 L660.1,447.2 L661.0,446.3 L662.0,446.8 L663.0,447.1 L664.0,448.4 L664.9,447.2 L665.9,447.2 L666.9,446.9 L667.9,447.1 L668.8,447.3 L669.8,446.8 L670.8,447.0 L671.8,446.9 L672.7,447.3 L673.7,446.1 L674.7,446.6 L675.6,447.9 L676.6,447.0 L677.6,448.3 L678.6,446.8 L679.5,447.4 L680.5,446.2 L681.5,446.2 L682.5,446.6 L683.4,446.9 L684.4,446.9 L685.4,447.9 L686.4,446.9 L687.3,447.3 L688.3,446.2 L689.3,446.8 L690.3,447.3 L691.3,446.7 L692.3,447.2 L693.3,446.9 L694.3,447.0 L695.3,446.9 L696.3,447.4 L697.3,446.8 L698.3,446.4 L699.3,447.6 L700.3,447.3 L701.3,446.2 L702.3,446.3 L703.4,445.6 L704.4,446.8 L705.4,446.0 L706.4,445.8 L707.4,446.1 L708.4,446.4 L709.4,445.5 L710.4,446.4 L711.4,447.2 L712.4,447.7 L713.4,447.1 L714.4,446.6 L715.4,447.0 L716.4,448.2 L717.4,447.1 L718.4,448.0 L719.4,447.2 L720.4,447.5 L721.4,447.1 L722.4,447.1 L723.4,447.1 L724.4,446.6 L725.3,446.9 L726.3,447.9 L727.3,447.2 L728.3,448.1 L729.2,446.6 L730.2,447.4 L731.2,447.0 L732.1,447.1 L733.1,446.3 L734.1,447.4 L735.1,446.9 L736.0,447.3 L737.0,447.3 L738.0,447.2 L739.0,447.4 L739.9,447.7 L740.9,447.5 L741.9,447.5 L742.9,447.6 L743.8,446.9 L744.8,448.2 L745.8,448.1 L746.8,447.7 L747.7,447.3 L748.7,447.9 L749.7,447.8 L750.6,448.1 L751.6,448.0 L752.6,448.6 L753.6,447.9 L754.6,447.6 L755.7,448.2 L756.7,448.5 L757.7,448.8 L758.8,448.3 L759.8,447.4 L760.9,447.9 L761.9,447.7 L763.0,448.1" fill="none" stroke="#cc0000" stroke-width="1.0" shape-rendering="crispEdges" stroke-linejoin="round"/>
<path d="M51.0,477.5 L51.8,477.6 L52.5,478.8 L53.8,478.0 L55.0,476.2 L56.2,474.8 L57.5,472.5 L58.5,470.3 L59.5,468.8 L60.4,472.1 L61.2,475.0 L62.5,479.5 L63.8,483.8 L65.0,484.3 L66.2,486.2 L67.2,485.9 L68.1,484.8 L69.1,484.9 L70.0,485.0 L71.0,485.4 L72.0,485.3 L73.0,486.0 L74.0,486.0 L75.0,486.2 L76.0,486.7 L77.0,486.4 L78.0,487.0 L79.0,487.2 L80.0,487.5 L81.0,487.5 L82.0,486.8 L83.0,487.1 L84.0,486.9 L85.0,486.2 L86.0,486.0 L87.0,485.8 L88.0,485.7 L89.0,484.5 L90.0,485.0 L91.0,484.9 L92.0,486.2 L93.0,486.5 L94.0,486.2 L95.0,487.0 L96.0,487.0 L97.0,487.3 L98.0,487.5 L99.0,487.3 L100.0,487.5 L100.9,488.2 L101.9,489.1 L102.8,488.2 L103.8,488.8 L105.0,489.2 L106.2,490.0 L107.2,489.5 L108.1,488.5 L109.1,488.6 L110.0,487.5 L111.0,486.8 L112.0,487.0 L113.0,486.7 L114.0,486.5 L115.0,486.2 L116.0,486.2 L117.0,485.1 L118.0,485.4 L119.0,485.4 L120.0,485.0 L121.2,484.9 L122.5,485.0 L123.8,485.2 L125.0,485.6 L126.2,485.4 L127.5,485.6 L128.8,486.1 L130.0,486.9 L131.2,488.0 L132.5,488.8 L133.8,488.5 L135.0,489.4 L135.9,490.3 L136.9,491.2 L137.8,489.0 L138.8,486.2 L139.8,487.5 L140.6,495.0 L141.2,505.0 L141.5,511.2 L142.5,513.8 L143.8,511.2 L144.4,512.5 L145.0,525.0 L145.6,537.5 L146.2,547.5 L146.9,555.0 L148.1,547.5 L149.0,543.8 L150.0,543.0 L151.2,552.5 L152.2,562.5 L153.1,571.0 L153.8,575.0 L154.8,568.8 L155.6,556.0 L156.2,537.5 L157.2,525.0 L158.1,512.5 L159.4,502.5 L160.6,501.2 L162.5,501.9 L163.1,502.5 L164.4,512.5 L165.6,522.5 L166.9,525.6 L168.8,526.2 L170.6,528.8 L171.9,532.5 L173.1,528.8 L175.0,523.0 L176.9,521.2 L178.8,520.6 L180.6,523.0 L182.5,520.6 L184.4,518.8 L186.2,512.5 L188.1,507.5 L190.0,508.8 L192.5,511.2 L195.0,512.5 L197.5,508.8 L200.0,506.9 L205.0,507.5 L206.0,506.5 L207.0,507.0 L208.0,506.2 L209.0,505.7 L210.0,505.0 L211.0,504.4 L212.0,505.2 L213.0,505.6 L214.0,505.3 L215.0,505.0 L216.0,505.2 L217.0,505.5 L218.0,505.6 L219.0,506.1 L220.0,506.2 L221.0,506.5 L222.0,506.5 L223.0,505.9 L224.0,506.6 L225.0,506.2 L226.0,506.1 L227.0,505.8 L228.0,505.1 L229.0,505.0 L230.0,505.0 L231.0,504.8 L232.0,504.4 L233.0,504.2 L234.0,504.2 L235.0,503.8 L235.9,503.6 L236.9,503.8 L237.8,503.7 L238.8,504.0 L239.7,504.0 L240.6,503.9 L241.6,504.2 L242.5,503.8 L243.4,503.4 L244.4,504.0 L245.3,503.2 L246.2,504.1 L247.2,504.0 L248.1,504.5 L249.1,503.8 L250.0,503.8 L250.9,503.6 L251.9,504.2 L252.8,503.5 L253.8,503.9 L254.7,504.0 L255.6,503.8 L256.6,503.4 L257.5,503.8 L258.4,503.9 L259.4,503.5 L260.3,503.2 L261.2,503.3 L262.2,502.7 L263.1,502.9 L264.1,503.1 L265.0,502.5 L266.0,501.6 L267.0,501.8 L268.0,500.9 L269.0,500.5 L270.0,500.0 L271.0,499.7 L272.0,499.7 L273.0,499.2 L274.0,499.2 L275.0,498.8 L276.0,499.0 L277.0,499.3 L278.0,499.2 L279.0,499.3 L280.0,499.5 L281.0,499.8 L282.0,500.9 L283.0,501.2 L284.0,501.5 L285.0,502.0 L286.0,501.8 L287.0,502.6 L288.0,502.2 L289.0,503.0 L290.0,503.0 L291.0,503.4 L292.0,502.8 L293.0,502.1 L294.0,502.1 L295.0,502.0 L296.0,502.0 L297.0,501.5 L298.0,501.5 L299.0,501.3 L300.0,501.2 L301.0,500.8 L302.0,501.4 L303.0,500.3 L304.0,500.6 L305.0,500.5 L306.0,500.4 L307.0,500.1 L308.0,500.1 L309.0,500.2 L310.0,500.0 L311.0,499.6 L312.0,499.5 L313.0,499.8 L314.0,500.4 L315.0,500.0 L316.0,500.2 L317.0,499.8 L318.0,499.0 L319.0,499.7 L320.0,498.8 L321.0,498.3 L322.0,497.3 L323.0,497.5 L324.0,497.6 L325.0,497.0 L326.0,496.8 L327.0,496.8 L328.0,496.9 L329.0,496.5 L330.0,497.0 L331.0,497.4 L332.0,497.4 L333.0,497.2 L334.0,497.0 L335.0,497.0 L336.0,497.2 L337.0,496.8 L338.0,496.9 L339.0,497.5 L340.0,497.0 L341.0,497.1 L342.0,497.6 L343.0,497.1 L344.0,497.7 L345.0,497.5 L346.0,497.1 L347.0,497.7 L348.0,497.5 L349.0,497.8 L350.0,498.0 L351.0,498.5 L352.0,498.3 L353.0,499.0 L354.0,499.5 L355.0,499.5 L356.0,499.8 L357.0,500.8 L358.0,500.2 L359.0,501.1 L360.0,501.2 L361.0,500.8 L362.0,500.8 L363.0,500.6 L364.0,500.7 L365.0,500.0 L366.0,500.0 L367.0,500.5 L368.0,499.8 L369.0,499.5 L370.0,499.5 L371.0,499.3 L372.0,499.0 L373.0,499.1 L374.0,499.1 L375.0,498.8 L376.0,499.2 L377.0,498.4 L378.0,499.0 L379.0,498.9 L380.0,498.8 L381.0,498.9 L382.0,498.6 L383.0,498.1 L384.0,498.1 L385.0,498.0 L386.0,497.9 L387.0,497.1 L388.0,497.1 L389.0,497.1 L390.0,497.0 L391.0,497.3 L392.0,496.4 L393.0,496.5 L394.0,495.8 L395.0,496.2 L396.0,496.4 L397.0,496.2 L398.0,496.4 L399.0,496.2 L400.0,495.8 L401.0,495.7 L402.0,495.5 L403.0,495.4 L404.0,495.6 L405.0,495.2 L406.0,494.8 L407.0,494.6 L408.0,494.5 L409.0,494.1 L410.0,494.3 L411.1,494.1 L412.1,493.8 L413.1,493.3 L414.1,494.0 L415.1,493.1 L416.1,493.1 L417.1,493.3 L418.1,493.1 L419.1,492.4 L420.1,493.3 L421.1,492.8 L422.1,492.5 L423.1,492.6 L424.1,492.3 L425.1,492.7 L426.1,492.3 L427.1,491.8 L428.1,492.3 L429.1,492.1 L430.1,491.8 L431.1,492.2 L432.1,491.8 L433.1,491.8 L434.1,491.3 L435.2,491.4 L436.2,491.4 L437.2,491.4 L438.2,490.9 L439.2,491.1 L440.2,491.0 L441.2,490.4 L442.2,491.2 L443.2,490.6 L444.2,490.5 L445.2,490.2 L446.2,491.0 L447.2,490.4 L448.2,490.4 L449.2,489.8 L450.2,489.9 L451.2,490.0 L452.2,490.1 L453.2,490.3 L454.2,489.5 L455.2,490.0 L456.2,489.6 L457.3,489.1 L458.3,489.5 L459.3,488.9 L460.3,489.5 L461.3,489.7 L462.3,489.8 L463.3,489.4 L464.3,489.1 L465.3,489.3 L466.3,488.7 L467.3,488.6 L468.3,488.6 L469.3,488.8 L470.3,488.8 L471.3,488.1 L472.3,488.6 L473.3,488.2 L474.3,488.3 L475.3,489.1 L476.3,488.4 L477.3,489.0 L478.4,488.5 L479.4,488.7 L480.4,488.6 L481.4,488.1 L482.4,488.9 L483.4,488.4 L484.4,488.0 L485.4,488.2 L486.4,488.4 L487.4,488.5 L488.4,488.0 L489.4,488.1 L490.4,487.7 L491.4,487.9 L492.4,487.9 L493.4,488.1 L494.4,488.0 L495.4,487.9 L496.4,488.0 L497.4,487.7 L498.3,487.6 L499.3,487.9 L500.3,487.4 L501.2,487.0 L502.2,486.8 L503.1,486.4 L504.1,487.1 L505.1,487.1 L506.1,487.5 L507.1,488.0 L508.1,488.4 L509.1,488.6 L510.2,488.9 L511.2,488.6 L512.2,489.1 L513.2,489.1 L514.2,489.0 L515.2,489.1 L516.2,489.5 L517.2,489.4 L518.2,489.6 L519.2,489.5 L520.2,489.4 L521.2,490.0 L522.2,489.7 L523.2,489.9 L524.2,489.8 L525.2,490.2 L526.2,490.4 L527.2,490.0 L528.2,490.4 L529.2,490.2 L530.2,490.7 L531.2,490.4 L532.3,490.4 L533.3,490.5 L534.3,490.4 L535.3,490.3 L536.3,490.7 L537.3,490.5 L538.3,490.4 L539.3,490.4 L540.3,490.5 L541.3,490.3 L542.3,490.7 L543.3,490.6 L544.3,490.9 L545.3,490.2 L546.3,490.5 L547.3,490.4 L548.3,490.6 L549.3,490.9 L550.3,491.1 L551.3,490.6 L552.3,490.7 L553.4,491.1 L554.4,491.4 L555.4,491.2 L556.3,491.1 L557.3,491.2 L558.3,491.1 L559.3,491.4 L560.2,491.1 L561.2,491.5 L562.2,491.3 L563.1,491.8 L564.1,491.0 L565.1,491.6 L566.1,491.2 L567.0,491.5 L568.0,491.6 L569.0,490.7 L570.0,491.4 L570.9,491.0 L571.9,491.1 L572.9,491.6 L573.9,491.3 L574.8,491.6 L575.8,491.1 L576.8,491.2 L577.8,491.4 L578.7,490.8 L579.7,490.9 L580.7,491.5 L581.7,491.4 L582.6,491.4 L583.6,491.2 L584.6,491.3 L585.6,491.2 L586.5,491.6 L587.5,491.2 L588.5,491.4 L589.4,491.0 L590.4,490.7 L591.4,491.3 L592.4,491.7 L593.3,491.3 L594.3,491.2 L595.3,491.5 L596.3,491.2 L597.2,491.5 L598.2,491.2 L599.2,491.5 L600.2,491.9 L601.2,491.4 L602.2,491.1 L603.2,491.4 L604.2,491.3 L605.2,491.8 L606.2,491.8 L607.3,491.5 L608.3,491.4 L609.3,491.5 L610.3,491.3 L611.3,490.9 L612.3,491.5 L613.3,490.5 L614.3,490.7 L615.3,490.6 L616.3,490.6 L617.3,490.5 L618.3,490.3 L619.3,490.8 L620.3,490.5 L621.3,490.2 L622.3,490.2 L623.3,490.4 L624.3,490.4 L625.2,490.5 L626.2,490.0 L627.2,490.5 L628.2,489.8 L629.1,489.9 L630.1,489.8 L631.1,490.5 L632.1,489.6 L633.0,490.2 L634.0,490.1 L635.0,490.3 L636.1,490.6 L637.1,490.1 L638.1,490.1 L639.1,490.0 L640.1,490.3 L641.1,489.9 L642.1,490.1 L643.1,490.4 L644.1,489.4 L645.1,490.1 L646.1,490.4 L647.1,490.3 L648.1,490.2 L649.1,489.6 L650.1,489.5 L651.1,489.6 L652.1,489.8 L653.1,489.5 L654.1,490.0 L655.1,489.3 L656.1,489.5 L657.1,489.4 L658.1,489.9 L659.1,489.2 L660.1,489.4 L661.0,489.7 L662.0,489.3 L663.0,489.2 L664.0,489.4 L664.9,489.3 L665.9,489.3 L666.9,489.1 L667.9,489.1 L668.8,489.5 L669.8,489.5 L670.8,489.0 L671.8,489.4 L672.7,489.3 L673.7,488.6 L674.7,488.8 L675.6,488.6 L676.6,488.8 L677.6,488.8 L678.6,488.6 L679.5,488.1 L680.5,488.6 L681.5,488.5 L682.5,488.3 L683.4,488.4 L684.4,488.5 L685.4,488.2 L686.4,488.5 L687.3,488.7 L688.3,488.5 L689.3,488.6 L690.3,488.3 L691.2,488.7 L692.2,488.6 L693.2,488.9 L694.2,488.6 L695.1,488.7 L696.1,488.7 L697.1,488.9 L698.1,488.7 L699.0,488.8 L700.0,488.6 L701.0,488.5 L701.9,488.5 L702.9,488.7 L703.9,488.6 L704.9,488.5 L705.8,488.7 L706.8,488.0 L707.8,488.6 L708.8,488.1 L709.7,488.9 L710.7,488.6 L711.7,488.7 L712.7,488.8 L713.7,488.7 L714.7,488.7 L715.7,488.7 L716.7,488.7 L717.7,489.2 L718.8,489.1 L719.8,488.6 L720.8,489.1 L721.8,488.7 L722.8,488.7 L723.8,489.1 L724.8,488.4 L725.8,488.4 L726.8,488.6 L727.8,488.3 L728.7,488.9 L729.7,488.2 L730.7,489.0 L731.7,489.2 L732.6,489.2 L733.6,488.6 L734.6,488.8 L735.6,489.3 L736.5,488.7 L737.5,489.1 L738.5,488.8 L739.4,488.6 L740.4,489.2 L741.4,489.2 L742.4,490.0 L743.3,489.2 L744.3,489.3 L745.3,488.9 L746.3,489.8 L747.2,489.4 L748.2,489.4 L749.2,489.6 L750.2,489.4 L751.1,489.6 L752.1,489.3 L753.1,489.2 L754.1,489.2 L755.0,490.0 L756.0,489.7 L757.0,489.9 L758.0,489.8 L758.9,489.6 L759.9,489.6 L760.9,489.4 L761.9,489.8 L763.0,489.9" fill="none" stroke="#0000ff" stroke-width="1.0" shape-rendering="crispEdges" stroke-linejoin="round"/>
<path d="M51.0,522.5 L52.0,522.5 L53.0,521.6 L54.0,521.4 L55.0,521.2 L56.0,521.0 L57.0,520.7 L58.0,520.7 L59.0,520.3 L60.0,520.0 L61.0,520.0 L62.0,520.2 L63.0,520.6 L64.0,521.0 L65.0,521.2 L66.0,521.3 L67.0,520.8 L68.0,521.0 L69.0,520.4 L70.0,520.0 L71.0,520.2 L72.0,520.0 L73.0,519.9 L74.0,519.3 L75.0,519.5 L76.0,519.9 L77.0,520.1 L78.0,520.2 L79.0,520.3 L80.0,520.5 L81.0,520.9 L82.0,521.3 L83.0,521.2 L84.0,522.1 L85.0,522.5 L86.0,522.6 L87.0,523.0 L88.0,523.5 L89.0,523.3 L90.0,523.8 L91.0,523.6 L92.0,523.8 L93.0,523.8 L94.0,523.9 L95.0,523.8 L96.0,524.1 L97.0,524.0 L98.0,524.1 L99.0,524.2 L100.0,524.5 L101.0,524.8 L102.0,524.7 L103.0,525.4 L104.0,524.9 L105.0,525.0 L106.0,524.6 L107.0,525.1 L108.0,524.5 L109.0,524.7 L110.0,524.5 L111.0,524.0 L112.0,524.9 L113.0,524.2 L114.0,523.6 L115.0,523.8 L115.9,523.3 L116.9,523.3 L117.8,522.9 L118.8,522.5 L120.0,523.0 L120.9,522.9 L121.9,522.5 L122.8,522.1 L123.8,522.2 L124.7,523.0 L125.6,522.6 L126.6,522.3 L127.5,522.8 L128.4,523.3 L129.4,523.6 L130.3,524.2 L131.2,524.4 L132.5,525.7 L133.8,526.2 L135.0,528.0 L136.2,529.4 L137.5,531.1 L138.8,532.5 L140.6,534.4 L141.9,532.5 L142.8,531.9 L143.8,533.8 L144.8,536.2 L145.6,543.8 L146.2,547.5 L146.9,552.5 L148.1,558.8 L149.4,565.0 L150.6,563.8 L151.9,557.5 L152.8,558.8 L153.8,563.8 L155.0,570.0 L156.2,570.0 L157.5,565.0 L158.8,560.0 L160.0,555.6 L161.9,553.8 L163.1,550.6 L164.4,547.5 L165.2,550.0 L166.2,551.9 L168.8,553.1 L171.2,554.4 L173.8,553.1 L176.2,552.5 L178.8,551.9 L180.6,550.6 L182.5,550.0 L185.0,548.8 L187.5,546.2 L190.0,544.4 L192.5,543.8 L195.0,543.5 L197.5,543.1 L200.0,542.5 L205.0,542.0 L205.9,541.9 L206.9,542.0 L207.8,541.9 L208.8,541.6 L209.7,542.0 L210.6,541.7 L211.6,541.3 L212.5,541.2 L213.4,541.1 L214.4,541.6 L215.3,541.7 L216.2,541.3 L217.2,541.6 L218.1,541.5 L219.1,540.6 L220.0,541.2 L220.9,541.1 L221.9,541.4 L222.8,541.0 L223.8,541.5 L224.7,541.5 L225.6,541.3 L226.6,541.0 L227.5,541.2 L228.4,540.5 L229.4,540.9 L230.3,540.8 L231.2,540.9 L232.2,540.3 L233.1,540.6 L234.1,540.6 L235.0,540.5 L235.9,540.8 L236.9,540.8 L237.8,540.5 L238.8,540.7 L239.7,540.6 L240.6,541.5 L241.6,541.0 L242.5,541.2 L243.4,541.6 L244.4,541.5 L245.3,541.3 L246.2,540.8 L247.2,541.0 L248.1,541.3 L249.1,541.3 L250.0,541.2 L250.9,541.2 L251.9,541.3 L252.8,540.5 L253.8,540.8 L254.7,540.3 L255.6,540.2 L256.6,540.0 L257.5,540.0 L258.4,539.9 L259.4,540.3 L260.3,539.8 L261.2,539.3 L262.2,539.5 L263.1,539.8 L264.1,539.3 L265.0,539.5 L265.9,539.3 L266.9,538.9 L267.8,539.1 L268.8,538.7 L269.7,539.4 L270.6,539.2 L271.6,538.7 L272.5,538.8 L273.4,538.8 L274.4,539.3 L275.3,538.7 L276.2,539.3 L277.2,539.4 L278.1,539.5 L279.1,539.6 L280.0,539.5 L280.9,539.6 L281.9,539.5 L282.8,540.2 L283.8,539.6 L284.7,539.5 L285.6,540.2 L286.6,539.6 L287.5,540.0 L288.4,540.5 L289.4,539.6 L290.3,539.7 L291.2,539.4 L292.2,539.7 L293.1,539.3 L294.1,539.9 L295.0,539.5 L295.9,539.5 L296.9,539.5 L297.8,539.2 L298.8,539.4 L299.7,539.4 L300.6,540.1 L301.6,539.5 L302.5,539.5 L303.4,539.9 L304.4,539.3 L305.3,539.6 L306.2,539.5 L307.2,539.2 L308.1,539.4 L309.1,539.0 L310.0,539.5 L310.9,539.5 L311.9,539.8 L312.8,539.3 L313.8,539.2 L314.7,539.8 L315.6,539.7 L316.6,539.2 L317.5,539.5 L318.4,539.2 L319.4,539.7 L320.3,539.2 L321.2,539.1 L322.2,539.3 L323.1,538.8 L324.1,538.9 L325.0,538.8 L325.9,538.6 L326.9,538.9 L327.8,539.1 L328.8,539.1 L329.7,539.2 L330.6,539.1 L331.6,539.9 L332.5,539.5 L333.4,540.0 L334.4,539.6 L335.3,539.4 L336.2,539.2 L337.2,539.5 L338.1,539.9 L339.1,540.0 L340.0,539.5 L340.9,539.8 L341.9,539.2 L342.8,539.3 L343.8,539.5 L344.7,539.8 L345.6,539.2 L346.6,539.0 L347.5,539.5 L348.4,539.7 L349.4,539.3 L350.3,539.7 L351.2,539.3 L352.2,539.1 L353.1,539.6 L354.1,539.6 L355.0,539.5 L355.9,539.8 L356.9,539.5 L357.8,538.9 L358.8,539.4 L359.7,539.2 L360.6,539.3 L361.6,539.6 L362.5,539.5 L363.4,539.6 L364.4,538.7 L365.3,539.5 L366.2,539.1 L367.2,539.6 L368.1,539.0 L369.1,539.3 L370.0,539.5 L370.9,539.4 L371.9,539.2 L372.8,539.3 L373.8,538.9 L374.7,538.9 L375.6,539.1 L376.6,539.0 L377.5,538.8 L378.4,538.9 L379.4,538.4 L380.3,538.4 L381.2,538.8 L382.2,538.3 L383.1,538.4 L384.1,537.9 L385.0,538.0 L385.9,538.0 L386.9,537.4 L387.8,537.3 L388.8,537.3 L389.7,537.3 L390.6,537.4 L391.6,537.1 L392.5,537.0 L393.4,537.6 L394.4,537.0 L395.3,536.7 L396.2,536.6 L397.2,536.3 L398.1,536.0 L399.1,536.0 L400.0,536.0 L401.0,536.2 L402.0,535.7 L403.0,535.9 L404.0,535.5 L405.0,535.7 L406.0,535.6 L407.0,535.8 L408.0,535.9 L409.0,536.1 L410.0,535.9 L411.0,535.6 L412.1,536.2 L413.1,535.6 L414.1,535.8 L415.1,535.5 L416.1,536.0 L417.0,535.9 L418.0,535.5 L419.0,535.5 L420.0,535.2 L420.9,535.9 L421.9,535.5 L422.9,535.1 L423.9,534.8 L424.8,535.4 L425.8,534.5 L426.8,534.6 L427.8,534.6 L428.7,535.1 L429.7,534.9 L430.7,534.8 L431.7,534.8 L432.6,534.2 L433.6,534.8 L434.6,534.2 L435.6,534.2 L436.5,534.2 L437.5,534.1 L438.5,534.2 L439.4,533.8 L440.4,533.8 L441.4,533.6 L442.4,533.3 L443.3,533.2 L444.3,533.8 L445.3,533.7 L446.3,533.3 L447.2,533.1 L448.2,533.3 L449.2,532.9 L450.2,533.2 L451.1,533.0 L452.1,533.4 L453.1,532.7 L454.1,533.1 L455.0,532.9 L456.0,532.3 L457.0,532.6 L458.0,532.6 L458.9,532.5 L459.9,532.4 L460.9,531.8 L461.9,532.5 L462.8,532.1 L463.8,532.1 L464.8,532.3 L465.7,532.7 L466.7,531.9 L467.7,531.7 L468.7,531.8 L469.6,532.0 L470.6,531.6 L471.6,531.9 L472.6,532.2 L473.5,531.8 L474.5,531.7 L475.5,532.2 L476.5,532.2 L477.4,532.2 L478.4,532.0 L479.4,531.9 L480.4,532.0 L481.3,532.2 L482.3,531.9 L483.3,531.9 L484.3,532.1 L485.2,531.8 L486.2,532.1 L487.2,532.3 L488.1,532.0 L489.1,531.7 L490.1,532.2 L491.1,532.0 L492.0,532.3 L493.0,531.7 L494.0,531.9 L495.0,532.1 L495.9,531.8 L496.9,531.9 L497.9,532.2 L498.9,532.0 L499.8,532.3 L500.8,531.6 L501.8,532.0 L502.8,531.7 L503.8,532.1 L504.8,532.3 L505.8,532.2 L506.8,532.2 L507.8,532.2 L508.8,532.6 L509.8,532.5 L510.8,532.8 L511.8,532.7 L512.8,533.1 L513.8,533.4 L514.8,533.2 L515.9,532.7 L516.9,533.6 L517.9,533.3 L518.8,533.2 L519.8,533.1 L520.8,533.2 L521.8,533.6 L522.7,533.6 L523.7,533.3 L524.7,533.4 L525.6,533.8 L526.6,534.5 L527.6,533.9 L528.6,534.1 L529.5,534.3 L530.5,534.3 L531.5,533.7 L532.5,534.4 L533.4,534.9 L534.4,533.9 L535.4,534.1 L536.4,534.1 L537.3,534.6 L538.3,534.7 L539.3,534.6 L540.3,534.5 L541.2,534.3 L542.2,535.7 L543.2,534.3 L544.2,534.7 L545.1,534.6 L546.1,534.7 L547.1,534.9 L548.1,534.0 L549.0,535.0 L550.0,534.6 L551.0,534.8 L551.9,534.9 L552.9,535.2 L553.9,534.9 L554.9,534.3 L555.8,534.7 L556.8,535.4 L557.8,535.6 L558.8,535.0 L559.7,535.1 L560.7,535.2 L561.7,535.1 L562.7,534.9 L563.6,534.8 L564.6,535.1 L565.6,535.0 L566.6,534.8 L567.5,534.9 L568.5,534.9 L569.5,534.6 L570.5,534.5 L571.4,534.6 L572.4,534.4 L573.4,534.5 L574.4,534.4 L575.3,534.3 L576.3,534.5 L577.3,534.5 L578.2,535.0 L579.2,534.3 L580.2,534.6 L581.2,534.5 L582.1,534.6 L583.1,535.0 L584.1,534.6 L585.1,534.7 L586.0,534.6 L587.0,534.9 L588.0,534.8 L589.0,534.6 L589.9,534.3 L590.9,534.7 L591.9,534.3 L592.9,534.6 L593.8,534.4 L594.8,534.5 L595.8,534.5 L596.8,534.4 L597.7,534.2 L598.7,535.1 L599.7,535.1 L600.6,534.5 L601.6,534.7 L602.6,534.7 L603.6,534.6 L604.5,534.1 L605.5,534.1 L606.5,534.4 L607.5,534.4 L608.4,534.8 L609.4,534.3 L610.4,534.6 L611.4,534.6 L612.3,534.1 L613.3,534.0 L614.3,534.1 L615.3,533.9 L616.2,534.2 L617.2,533.9 L618.2,533.5 L619.2,533.7 L620.1,533.9 L621.1,533.6 L622.1,533.4 L623.1,533.2 L624.0,533.0 L625.0,533.3 L626.0,532.8 L626.9,533.6 L627.9,533.5 L628.9,533.3 L629.9,532.9 L630.8,533.1 L631.8,533.2 L632.8,532.8 L633.8,533.0 L634.7,532.6 L635.7,532.8 L636.7,532.4 L637.7,532.6 L638.6,532.2 L639.6,532.9 L640.6,532.8 L641.6,532.5 L642.5,532.7 L643.5,532.7 L644.5,532.3 L645.5,532.1 L646.4,532.5 L647.4,532.5 L648.4,532.1 L649.4,532.6 L650.3,532.3 L651.3,531.8 L652.3,532.8 L653.3,532.9 L654.2,532.6 L655.2,531.9 L656.2,532.2 L657.1,532.0 L658.1,532.0 L659.1,531.7 L660.1,532.0 L661.0,532.0 L662.0,531.6 L663.0,531.5 L664.0,531.8 L664.9,531.5 L665.9,531.7 L666.9,532.1 L667.9,531.4 L668.9,531.4 L670.0,531.2 L671.1,531.1 L672.1,531.0 L673.2,530.9 L674.2,530.7 L675.2,530.7 L676.1,531.3 L677.1,531.4 L678.1,531.0 L679.1,531.1 L680.0,530.7 L681.0,530.5 L682.0,530.9 L683.0,531.4 L683.9,531.4 L684.9,531.6 L685.9,531.6 L686.9,531.2 L687.8,531.9 L688.8,531.8 L689.8,531.9 L690.8,532.0 L691.7,531.8 L692.7,531.8 L693.7,531.9 L694.6,532.0 L695.6,531.8 L696.6,532.1 L697.6,532.2 L698.5,531.6 L699.5,531.7 L700.5,531.6 L701.5,531.4 L702.4,531.4 L703.4,531.8 L704.4,531.7 L705.4,531.4 L706.3,531.1 L707.3,531.2 L708.3,531.7 L709.3,532.1 L710.2,532.0 L711.2,531.4 L712.2,531.9 L713.1,531.8 L714.1,531.2 L715.1,532.2 L716.1,532.0 L717.0,532.0 L718.0,532.2 L719.0,532.0 L720.0,531.8 L720.9,532.0 L721.9,532.6 L722.9,531.8 L723.9,531.9 L724.8,531.7 L725.8,532.0 L726.8,532.0 L727.8,532.2 L728.7,531.9 L729.7,532.4 L730.7,531.6 L731.7,532.2 L732.6,531.4 L733.6,531.6 L734.6,532.3 L735.6,531.8 L736.5,531.8 L737.5,532.0 L738.5,532.1 L739.4,531.9 L740.4,531.9 L741.4,532.4 L742.4,531.4 L743.3,531.5 L744.3,532.4 L745.3,532.1 L746.3,532.4 L747.2,532.1 L748.2,532.0 L749.2,532.1 L750.2,532.1 L751.2,532.2 L752.1,531.5 L753.1,532.2 L754.1,531.9 L755.1,532.1 L756.1,532.1 L757.1,531.3 L758.0,531.8 L759.0,531.8 L760.0,532.0 L761.0,532.1 L762.0,532.2 L763.0,532.0" fill="none" stroke="#008000" stroke-width="1.0" shape-rendering="crispEdges" stroke-linejoin="round"/>
<path d="M51.0,566.2 L52.1,566.3 L53.2,566.0 L54.2,565.4 L55.3,565.4 L56.4,565.1 L57.5,565.0 L58.4,564.9 L59.4,565.1 L60.3,564.5 L61.2,564.5 L62.2,564.8 L63.1,564.2 L64.1,564.5 L65.0,564.5 L65.9,564.4 L66.9,564.5 L67.8,564.5 L68.8,564.2 L69.7,564.3 L70.6,563.8 L71.6,564.4 L72.5,563.8 L73.5,564.0 L74.5,563.8 L75.5,563.7 L76.5,563.8 L77.5,563.8 L78.5,563.5 L79.5,564.1 L80.5,564.4 L81.5,564.5 L82.5,565.0 L83.5,565.2 L84.5,565.4 L85.5,566.1 L86.5,565.9 L87.5,566.2 L88.5,566.0 L89.5,566.0 L90.5,566.0 L91.5,565.6 L92.5,565.5 L93.4,565.9 L94.4,565.9 L95.3,566.2 L96.2,566.6 L97.2,566.5 L98.1,566.6 L99.1,566.5 L100.0,567.0 L100.9,567.0 L101.9,567.0 L102.8,567.0 L103.8,566.9 L104.7,566.9 L105.6,567.2 L106.6,566.9 L107.5,567.0 L108.4,567.0 L109.4,566.9 L110.3,566.4 L111.2,566.7 L112.2,566.6 L113.1,566.3 L114.1,566.3 L115.0,566.2 L116.0,566.3 L117.0,566.3 L118.0,566.4 L119.0,566.4 L120.0,566.2 L120.9,566.0 L121.9,566.0 L122.8,565.3 L123.8,565.2 L124.7,564.8 L125.6,566.0 L126.6,565.2 L127.5,565.6 L128.4,566.1 L129.4,566.3 L130.3,566.9 L131.2,566.9 L132.5,567.8 L133.8,568.8 L135.0,569.6 L136.2,570.0 L137.5,571.1 L138.8,571.9 L140.6,573.1 L141.9,571.9 L143.1,571.2 L144.4,573.8 L145.6,576.2 L146.5,581.2 L147.5,587.5 L148.8,590.0 L150.6,589.4 L152.5,588.8 L154.4,591.9 L155.6,593.1 L157.5,591.2 L159.4,589.4 L161.2,588.1 L163.1,586.2 L165.0,585.0 L166.9,585.2 L168.8,586.2 L171.2,586.2 L173.8,586.0 L176.2,585.6 L178.8,585.0 L181.2,585.0 L183.8,584.4 L186.2,583.1 L188.1,581.9 L190.0,581.0 L192.5,580.6 L195.0,580.2 L197.5,580.0 L200.0,580.0 L202.5,580.0 L203.4,580.0 L204.4,579.9 L205.3,580.3 L206.2,579.4 L207.2,580.1 L208.1,579.8 L209.1,580.2 L210.0,580.0 L210.9,579.6 L211.9,580.1 L212.8,579.8 L213.8,579.7 L214.7,579.8 L215.6,579.6 L216.6,579.6 L217.5,579.5 L218.4,579.6 L219.4,579.6 L220.3,579.5 L221.2,579.2 L222.2,579.3 L223.1,579.7 L224.1,579.4 L225.0,579.5 L225.9,579.2 L226.9,579.8 L227.8,579.2 L228.8,579.4 L229.7,579.4 L230.6,579.7 L231.6,579.5 L232.5,579.5 L233.4,579.5 L234.4,579.7 L235.3,579.5 L236.2,579.8 L237.2,579.4 L238.1,579.3 L239.1,579.8 L240.0,579.5 L241.0,579.7 L242.0,579.8 L243.0,579.7 L244.0,579.3 L245.0,579.8 L246.0,579.8 L247.0,579.4 L248.0,579.8 L249.0,579.5 L250.0,579.5 L251.0,579.3 L252.0,579.6 L253.0,579.8 L254.0,579.5 L255.0,579.4 L256.0,579.2 L257.0,578.9 L258.0,578.7 L259.0,579.2 L260.0,578.8 L261.0,578.4 L262.0,578.3 L263.0,578.5 L264.0,578.5 L265.0,578.0 L266.0,578.4 L267.0,578.5 L268.0,578.0 L269.0,577.9 L270.0,578.0 L271.0,578.3 L272.0,578.0 L273.0,578.4 L274.0,578.1 L275.0,577.9 L276.0,577.7 L277.0,578.3 L278.0,578.0 L279.0,578.1 L280.0,578.0 L281.0,577.8 L282.0,577.8 L283.0,578.2 L284.0,578.1 L285.0,577.9 L286.0,578.0 L287.0,578.0 L288.0,578.0 L289.0,577.4 L290.0,577.5 L291.0,577.6 L292.0,577.5 L293.0,577.2 L294.0,577.5 L295.0,577.5 L296.0,577.7 L297.0,577.5 L298.0,577.7 L299.0,577.7 L300.0,577.5 L301.0,577.8 L302.0,577.4 L303.0,577.4 L304.0,577.3 L305.0,577.4 L306.0,577.2 L307.0,577.4 L308.0,577.2 L309.0,577.5 L310.0,577.5 L311.0,577.7 L312.0,577.8 L313.0,577.7 L314.0,577.3 L315.0,577.4 L316.0,576.9 L317.0,577.5 L318.0,577.1 L319.0,576.9 L320.0,577.5 L321.0,577.2 L322.0,577.4 L323.0,577.3 L324.0,577.4 L325.0,577.4 L326.0,577.7 L327.0,577.6 L328.0,577.5 L329.0,577.7 L330.0,577.5 L331.0,577.7 L332.0,577.9 L333.0,577.3 L334.0,577.5 L335.0,578.1 L336.0,578.1 L337.0,577.6 L338.0,577.5 L339.0,577.7 L340.0,578.0 L341.0,578.0 L342.0,577.9 L343.0,578.0 L344.0,577.5 L345.0,577.4 L346.0,577.8 L347.0,577.6 L348.0,577.6 L349.0,577.5 L350.0,577.5 L351.0,577.5 L352.0,577.6 L353.0,577.9 L354.0,577.6 L355.0,577.9 L356.0,577.9 L357.0,577.4 L358.0,577.8 L359.0,577.7 L360.0,578.0 L361.0,578.3 L362.0,578.2 L363.0,577.8 L364.0,578.1 L365.0,577.6 L366.0,577.7 L367.0,577.2 L368.0,577.9 L369.0,577.8 L370.0,577.5 L371.0,577.5 L372.0,577.6 L373.0,577.1 L374.0,577.4 L375.0,577.3 L376.0,577.6 L377.0,577.3 L378.0,577.4 L379.0,577.5 L380.0,577.5 L381.0,577.3 L382.0,577.4 L383.0,577.3 L384.0,577.3 L385.0,577.2 L386.0,577.2 L387.0,576.8 L388.0,577.0 L389.0,577.1 L390.0,577.0 L391.0,576.9 L392.0,577.0 L393.0,576.7 L394.0,576.7 L395.0,576.8 L396.0,576.8 L397.0,576.1 L398.0,576.2 L399.0,576.1 L400.0,576.2 L401.0,576.2 L402.0,576.1 L403.0,575.9 L404.0,575.7 L405.0,576.1 L406.0,575.8 L407.0,576.3 L408.0,576.1 L409.0,576.1 L410.0,576.0 L411.0,575.7 L412.1,575.9 L413.1,576.1 L414.1,575.8 L415.1,575.7 L416.1,575.6 L417.0,575.6 L418.0,575.5 L419.0,575.4 L420.0,575.4 L420.9,575.3 L421.9,575.2 L422.9,575.5 L423.9,575.7 L424.8,575.2 L425.8,574.9 L426.8,575.4 L427.8,575.2 L428.7,575.5 L429.7,575.4 L430.7,575.4 L431.7,575.1 L432.6,574.7 L433.6,575.1 L434.6,575.2 L435.6,575.0 L436.5,574.9 L437.5,574.8 L438.5,575.1 L439.4,574.6 L440.4,575.0 L441.4,574.3 L442.4,574.7 L443.3,574.5 L444.3,574.4 L445.3,574.5 L446.3,574.4 L447.2,574.4 L448.2,574.3 L449.2,574.1 L450.2,574.3 L451.1,574.3 L452.1,574.1 L453.1,573.9 L454.1,574.5 L455.0,574.1 L456.0,574.0 L457.0,574.1 L458.0,574.3 L458.9,574.3 L459.9,574.5 L460.9,574.0 L461.9,574.1 L462.8,574.2 L463.8,574.0 L464.8,574.2 L465.7,574.0 L466.7,574.0 L467.7,573.9 L468.7,573.8 L469.6,573.8 L470.6,573.6 L471.6,573.5 L472.6,573.5 L473.5,573.5 L474.5,573.7 L475.5,573.5 L476.5,573.4 L477.4,573.6 L478.4,573.7 L479.4,573.2 L480.4,573.5 L481.3,573.3 L482.3,573.4 L483.3,573.4 L484.3,573.6 L485.2,573.7 L486.2,573.4 L487.2,573.1 L488.1,573.1 L489.1,573.8 L490.1,573.4 L491.1,573.5 L492.0,573.7 L493.0,573.6 L494.0,573.6 L495.0,573.6 L495.9,573.4 L496.9,573.4 L497.9,573.3 L498.9,573.5 L499.8,573.5 L500.8,573.6 L501.8,573.5 L502.8,573.3 L503.7,573.6 L504.7,573.8 L505.7,573.9 L506.7,573.6 L507.6,574.1 L508.6,573.3 L509.6,573.9 L510.6,574.1 L511.5,574.1 L512.5,574.3 L513.5,574.3 L514.4,574.3 L515.4,574.0 L516.4,574.1 L517.4,574.5 L518.3,574.4 L519.3,574.8 L520.3,574.6 L521.3,575.2 L522.2,574.8 L523.2,574.8 L524.2,575.3 L525.2,575.1 L526.1,575.1 L527.1,575.2 L528.1,575.2 L529.1,575.1 L530.0,575.2 L531.0,575.2 L532.0,575.3 L533.0,575.6 L533.9,575.4 L534.9,575.4 L535.9,575.1 L536.9,575.8 L537.8,575.3 L538.8,575.5 L539.8,575.8 L540.7,575.0 L541.7,575.8 L542.7,575.7 L543.7,576.0 L544.6,575.6 L545.6,575.6 L546.6,575.7 L547.6,576.0 L548.5,575.8 L549.5,575.3 L550.5,575.6 L551.5,575.5 L552.4,575.6 L553.4,575.7 L554.4,575.7 L555.4,575.6 L556.3,575.6 L557.3,575.8 L558.3,575.6 L559.3,575.5 L560.2,575.8 L561.2,575.3 L562.2,575.5 L563.1,575.6 L564.1,575.4 L565.1,575.6 L566.1,575.6 L567.0,575.7 L568.0,575.7 L569.0,575.9 L570.0,575.4 L570.9,575.5 L571.9,576.0 L572.9,575.6 L573.9,575.6 L574.8,576.0 L575.8,575.8 L576.8,575.6 L577.8,575.7 L578.7,575.5 L579.7,575.6 L580.7,575.7 L581.7,575.1 L582.6,574.7 L583.6,574.9 L584.6,575.1 L585.6,574.5 L586.5,575.2 L587.5,574.8 L588.5,574.5 L589.4,574.6 L590.4,575.2 L591.4,575.0 L592.4,574.9 L593.3,574.7 L594.3,574.5 L595.3,574.8 L596.3,574.5 L597.2,574.3 L598.2,574.8 L599.2,574.7 L600.2,574.1 L601.1,574.8 L602.1,574.9 L603.1,574.8 L604.1,574.7 L605.0,574.9 L606.0,574.7 L607.0,575.3 L608.0,574.6 L608.9,574.8 L609.9,575.1 L610.9,574.9 L611.9,574.4 L612.8,574.7 L613.8,574.4 L614.8,574.6 L615.7,574.3 L616.7,574.1 L617.7,574.4 L618.7,574.0 L619.6,574.3 L620.6,574.3 L621.6,574.4 L622.6,574.5 L623.5,574.1 L624.5,574.7 L625.5,574.3 L626.5,575.0 L627.4,574.2 L628.4,574.2 L629.4,574.3 L630.4,574.3 L631.3,574.3 L632.3,574.1 L633.3,574.5 L634.3,574.2 L635.2,574.2 L636.2,574.1 L637.2,573.9 L638.1,573.8 L639.1,574.2 L640.1,573.8 L641.1,573.8 L642.0,573.5 L643.0,573.6 L644.0,574.1 L645.0,573.7 L645.9,573.7 L646.9,573.7 L647.9,573.5 L648.9,573.6 L649.8,573.5 L650.8,573.3 L651.8,573.5 L652.8,573.5 L653.7,573.5 L654.7,573.4 L655.7,573.4 L656.7,573.4 L657.6,573.0 L658.6,573.4 L659.6,573.5 L660.6,573.5 L661.5,573.6 L662.5,573.5 L663.5,573.7 L664.4,573.4 L665.4,573.3 L666.4,573.0 L667.4,573.6 L668.3,573.3 L669.3,572.8 L670.3,573.3 L671.3,572.7 L672.2,573.1 L673.2,573.0 L674.2,573.1 L675.2,573.1 L676.1,573.3 L677.1,573.3 L678.1,573.2 L679.1,573.0 L680.0,573.3 L681.0,573.4 L682.0,573.6 L683.0,573.2 L683.9,573.5 L684.9,573.7 L685.9,573.7 L686.9,573.5 L687.8,573.2 L688.8,573.4 L689.8,573.8 L690.8,573.3 L691.7,573.4 L692.7,573.8 L693.7,573.3 L694.6,573.5 L695.6,573.3 L696.6,573.7 L697.6,573.6 L698.5,573.8 L699.5,573.4 L700.5,573.2 L701.5,573.1 L702.4,574.0 L703.4,573.6 L704.4,573.4 L705.4,573.5 L706.3,573.6 L707.3,573.6 L708.3,573.6 L709.3,573.8 L710.2,573.2 L711.2,573.4 L712.2,573.4 L713.1,573.4 L714.1,573.3 L715.1,573.8 L716.1,573.5 L717.0,573.7 L718.0,573.5 L719.0,573.6 L720.0,573.5 L720.9,573.5 L721.9,573.3 L722.9,573.9 L723.9,573.4 L724.8,573.3 L725.8,573.2 L726.8,573.5 L727.8,573.6 L728.7,573.6 L729.7,573.7 L730.7,573.2 L731.7,573.7 L732.6,573.6 L733.6,573.5 L734.6,573.7 L735.6,573.3 L736.5,573.3 L737.5,573.5 L738.5,573.2 L739.4,573.9 L740.4,573.6 L741.4,573.6 L742.4,573.6 L743.3,573.5 L744.3,573.5 L745.3,573.7 L746.3,573.5 L747.2,573.2 L748.2,573.5 L749.2,573.5 L750.2,573.5 L751.1,574.0 L752.1,574.1 L753.1,573.8 L754.1,573.9 L755.0,574.0 L756.0,574.0 L757.0,574.2 L758.0,574.4 L758.9,574.3 L759.9,574.4 L760.9,574.6 L761.9,574.3 L763.0,574.3" fill="none" stroke="#cc0000" stroke-width="1.0" shape-rendering="crispEdges" stroke-linejoin="round"/>
<path d="M51.0,607.5 L52.0,606.4 L53.0,606.6 L54.0,606.0 L55.0,605.5 L56.0,605.5 L57.0,605.8 L58.0,605.8 L59.0,605.9 L60.0,606.2 L61.0,606.3 L62.0,606.8 L63.0,606.8 L64.0,606.9 L65.0,607.0 L66.0,606.7 L67.0,606.3 L68.0,607.1 L69.0,606.6 L70.0,606.2 L71.0,605.6 L72.0,605.9 L73.0,605.4 L74.0,605.1 L75.0,605.0 L76.0,604.6 L77.0,605.1 L78.0,604.5 L79.0,604.8 L80.0,604.5 L81.0,604.8 L82.0,604.3 L83.0,604.9 L84.0,604.7 L85.0,605.0 L85.9,605.2 L86.9,606.3 L87.8,606.8 L88.8,607.5 L89.7,608.2 L90.6,608.6 L91.6,608.9 L92.5,609.5 L93.5,609.6 L94.5,608.9 L95.5,608.1 L96.5,607.6 L97.5,607.5 L98.5,607.8 L99.5,607.5 L100.5,608.0 L101.5,608.0 L102.5,608.0 L103.5,608.0 L104.5,607.9 L105.5,608.5 L106.5,607.6 L107.5,608.0 L108.5,608.2 L109.5,608.7 L110.5,609.2 L111.5,610.0 L112.5,609.5 L113.8,608.9 L115.0,607.5 L116.2,606.9 L117.5,605.5 L118.4,606.1 L119.4,607.2 L120.3,607.8 L121.2,608.0 L122.2,607.7 L123.1,607.3 L124.1,607.6 L125.0,607.0 L126.0,607.2 L127.0,607.5 L128.0,607.5 L129.0,607.8 L130.0,607.5 L131.0,608.0 L132.0,608.4 L133.0,609.3 L134.0,608.8 L135.0,609.5 L135.9,610.7 L136.9,611.5 L137.8,612.6 L138.8,613.8 L140.5,615.0 L142.0,608.8 L143.8,602.5 L146.2,603.8 L147.5,612.5 L150.0,618.8 L152.5,621.2 L155.0,618.8 L157.0,627.5 L158.8,636.2 L161.2,633.8 L163.0,625.0 L165.0,617.5 L167.0,613.0 L168.8,615.0 L171.2,621.2 L175.0,623.8 L178.8,622.5 L182.5,621.2 L186.2,622.5 L190.0,617.5 L195.0,617.5 L200.0,618.0 L205.0,617.5 L206.0,617.8 L207.0,618.4 L208.0,618.7 L209.0,619.4 L210.0,619.5 L211.0,619.4 L212.0,618.9 L213.0,619.6 L214.0,619.1 L215.0,618.8 L216.0,618.5 L217.0,618.3 L218.0,618.7 L219.0,618.3 L220.0,618.0 L221.0,617.8 L222.0,618.2 L223.0,617.7 L224.0,617.5 L225.0,617.5 L226.0,617.9 L227.0,617.3 L228.0,618.1 L229.0,617.7 L230.0,618.0 L231.0,618.0 L232.0,618.0 L233.0,618.7 L234.0,618.9 L235.0,618.8 L236.0,618.5 L237.0,618.2 L238.0,618.6 L239.0,618.3 L240.0,618.0 L241.0,618.1 L242.0,618.0 L243.0,618.2 L244.0,617.6 L245.0,618.0 L246.0,617.9 L247.0,618.7 L248.0,618.4 L249.0,618.8 L250.0,618.8 L251.0,618.8 L252.0,619.0 L253.0,618.7 L254.0,619.4 L255.0,619.5 L256.0,619.3 L257.0,619.0 L258.0,619.0 L259.0,618.2 L260.0,618.0 L261.0,617.9 L262.0,617.9 L263.0,617.9 L264.0,617.7 L265.0,617.5 L266.0,617.8 L267.0,617.4 L268.0,617.7 L269.0,618.0 L270.0,618.0 L271.0,618.8 L272.0,618.3 L273.0,618.5 L274.0,619.3 L275.0,618.8 L276.0,619.0 L277.0,619.5 L278.0,619.3 L279.0,619.4 L280.0,619.5 L280.9,619.9 L281.9,620.2 L282.8,620.7 L283.8,620.5 L284.7,619.8 L285.6,619.2 L286.6,618.3 L287.5,618.0 L288.5,618.0 L289.5,617.8 L290.5,618.2 L291.5,617.3 L292.5,617.5 L293.4,618.0 L294.4,617.5 L295.3,617.7 L296.2,617.9 L297.2,617.9 L298.1,617.2 L299.1,618.0 L300.0,618.0 L300.9,617.9 L301.9,618.5 L302.8,618.0 L303.8,618.2 L304.7,618.7 L305.6,618.0 L306.6,618.2 L307.5,618.0 L308.5,618.0 L309.5,618.7 L310.5,618.8 L311.5,619.4 L312.5,619.5 L313.5,619.4 L314.5,619.1 L315.5,619.4 L316.5,618.9 L317.5,618.8 L318.5,618.4 L319.5,618.7 L320.5,619.4 L321.5,619.4 L322.5,619.5 L323.5,619.3 L324.5,619.1 L325.5,619.2 L326.5,620.0 L327.5,618.8 L328.5,619.1 L329.5,618.6 L330.5,618.8 L331.5,618.9 L332.5,618.8 L333.4,618.8 L334.4,619.3 L335.3,619.8 L336.2,619.8 L337.2,619.2 L338.1,619.8 L339.1,619.6 L340.0,620.0 L341.0,619.5 L342.0,619.9 L343.0,619.5 L344.0,620.2 L345.0,619.5 L346.0,619.3 L347.0,618.9 L348.0,618.3 L349.0,618.4 L350.0,618.0 L351.0,617.7 L352.0,617.3 L353.0,617.7 L354.0,617.1 L355.0,617.0 L356.0,616.9 L357.0,617.4 L358.0,617.0 L359.0,617.2 L360.0,617.5 L361.0,617.8 L362.0,618.2 L363.0,618.2 L364.0,618.6 L365.0,618.8 L366.0,618.7 L367.0,619.0 L368.0,618.8 L369.0,619.5 L370.0,619.5 L371.0,619.9 L372.0,619.1 L373.0,619.3 L374.0,619.2 L375.0,619.5 L376.0,619.4 L377.0,618.4 L378.0,618.4 L379.0,618.8 L380.0,618.0 L381.0,617.9 L382.0,618.2 L383.0,617.7 L384.0,618.2 L385.0,618.0 L386.0,617.7 L387.0,617.9 L388.0,617.2 L389.0,617.7 L390.0,617.5 L391.0,617.1 L392.0,617.1 L393.0,617.0 L394.0,617.1 L395.0,617.0 L396.0,617.2 L397.0,616.4 L398.0,616.4 L399.0,615.9 L400.0,615.5 L401.1,615.4 L402.1,616.4 L403.2,615.8 L404.3,616.7 L405.4,616.8 L406.3,616.3 L407.3,617.2 L408.3,616.3 L409.3,616.5 L410.2,616.5 L411.2,616.1 L412.2,616.0 L413.1,615.9 L414.1,615.7 L415.1,616.0 L416.1,616.0 L417.0,615.8 L418.0,615.6 L419.0,616.2 L420.0,615.9 L420.9,615.3 L421.9,615.5 L422.9,615.5 L423.9,615.7 L424.8,615.5 L425.8,615.4 L426.8,615.5 L427.8,615.5 L428.7,615.3 L429.7,615.4 L430.7,615.3 L431.7,615.3 L432.6,616.0 L433.6,615.0 L434.6,615.4 L435.6,614.8 L436.5,615.3 L437.5,615.5 L438.5,615.5 L439.4,615.4 L440.4,615.5 L441.4,616.1 L442.4,615.8 L443.3,615.8 L444.3,615.7 L445.3,615.4 L446.3,615.2 L447.2,615.2 L448.2,615.5 L449.2,615.4 L450.2,615.4 L451.1,615.3 L452.1,615.5 L453.1,615.4 L454.1,614.7 L455.0,614.3 L456.0,614.7 L457.0,614.9 L458.0,614.7 L458.9,614.6 L459.9,614.1 L460.9,615.0 L461.9,615.0 L462.8,614.9 L463.8,615.6 L464.8,615.6 L465.7,614.9 L466.7,615.9 L467.7,615.1 L468.7,615.3 L469.6,615.5 L470.7,615.1 L471.8,615.1 L472.9,615.3 L473.9,614.6 L475.0,614.6 L476.0,614.7 L476.9,615.2 L477.9,615.3 L478.9,615.2 L479.9,614.7 L480.8,614.7 L481.8,615.0 L482.8,614.7 L483.8,614.9 L484.7,614.7 L485.7,614.9 L486.7,614.7 L487.7,616.0 L488.7,615.7 L489.7,616.2 L490.8,616.3 L491.8,615.8 L492.9,616.0 L493.9,615.9 L494.9,615.8 L496.0,615.6 L497.0,615.4 L498.1,615.6 L499.1,615.5 L500.1,615.6 L501.2,615.9 L502.2,615.4 L503.2,616.3 L504.3,615.1 L505.3,615.7 L506.3,616.3 L507.4,616.0 L508.4,616.2 L509.4,616.1 L510.4,616.4 L511.5,615.8 L512.5,616.2 L513.5,616.1 L514.6,616.5 L515.6,616.2 L516.6,616.8 L517.6,616.6 L518.7,616.2 L519.7,616.5 L520.7,616.5 L521.8,616.8 L522.8,616.4 L523.8,616.3 L524.9,616.3 L525.9,616.8 L526.9,616.6 L528.0,617.0 L529.0,616.8 L530.0,616.9 L531.0,617.4 L532.1,617.4 L533.1,617.3 L534.1,617.1 L535.2,617.5 L536.2,617.0 L537.2,617.3 L538.3,617.2 L539.3,617.3 L540.3,618.0 L541.2,616.6 L542.2,617.3 L543.2,617.1 L544.2,617.5 L545.1,618.0 L546.1,617.5 L547.1,617.0 L548.1,617.4 L549.0,617.4 L550.0,617.3 L551.0,617.3 L551.9,617.6 L552.9,617.0 L553.9,616.6 L554.9,618.0 L555.8,617.5 L556.8,617.4 L557.8,616.9 L558.8,617.6 L559.7,617.1 L560.7,617.3 L561.7,617.3 L562.7,617.1 L563.6,617.2 L564.6,617.3 L565.6,617.4 L566.6,617.7 L567.5,617.6 L568.5,617.0 L569.5,617.8 L570.5,617.4 L571.4,617.3 L572.4,617.5 L573.4,617.3 L574.4,616.4 L575.3,617.3 L576.3,616.7 L577.3,617.3 L578.2,617.5 L579.2,616.9 L580.2,616.7 L581.2,616.7 L582.1,616.8 L583.1,616.9 L584.1,616.2 L585.1,616.5 L586.0,617.0 L587.0,616.1 L588.0,616.4 L589.0,616.8 L589.9,616.1 L590.9,616.4 L591.9,616.7 L592.9,616.2 L593.8,616.2 L594.8,616.3 L595.8,616.2 L596.8,616.5 L597.7,616.4 L598.7,616.6 L599.7,616.1 L600.6,616.7 L601.6,616.3 L602.6,616.0 L603.6,616.2 L604.6,616.0 L605.6,616.2 L606.6,615.6 L607.6,616.4 L608.6,616.4 L609.6,616.2 L610.6,616.4 L611.6,616.0 L612.6,615.4 L613.6,616.1 L614.5,615.9 L615.5,615.3 L616.5,615.7 L617.5,615.8 L618.4,615.4 L619.4,615.1 L620.4,614.5 L621.3,615.0 L622.3,614.9 L623.3,614.9 L624.3,614.8 L625.2,615.1 L626.2,614.8 L627.2,615.0 L628.2,614.5 L629.1,614.4 L630.1,614.3 L631.1,614.3 L632.1,614.4 L633.0,614.6 L634.0,614.1 L635.0,614.2 L636.0,614.3 L636.9,614.4 L637.9,613.8 L638.9,614.2 L639.9,613.9 L640.8,614.0 L641.8,613.5 L642.8,613.6 L643.8,613.6 L644.7,613.9 L645.7,613.8 L646.7,613.6 L647.6,613.3 L648.6,613.7 L649.6,613.6 L650.6,613.3 L651.5,613.1 L652.5,613.0 L653.5,613.5 L654.5,613.3 L655.5,613.2 L656.5,612.8 L657.5,613.2 L658.5,612.6 L659.5,612.9 L660.5,612.8 L661.5,613.0 L662.5,612.8 L663.5,612.6 L664.4,612.5 L665.4,612.4 L666.4,613.1 L667.4,612.4 L668.3,612.7 L669.3,612.3 L670.3,612.5 L671.3,613.3 L672.2,612.5 L673.2,612.8 L674.2,612.4 L675.2,612.9 L676.2,613.1 L677.2,612.9 L678.2,612.7 L679.2,612.9 L680.2,612.4 L681.2,612.8 L682.3,613.1 L683.3,613.4 L684.3,613.4 L685.3,613.1 L686.3,613.2 L687.3,613.4 L688.3,614.0 L689.3,613.6 L690.4,613.5 L691.4,613.2 L692.5,613.5 L693.6,613.0 L694.6,612.8 L695.6,612.8 L696.6,612.9 L697.6,612.7 L698.5,613.6 L699.5,613.0 L700.5,613.1 L701.5,613.2 L702.4,612.6 L703.4,613.2 L704.4,613.1 L705.4,613.3 L706.3,613.5 L707.3,614.0 L708.3,613.4 L709.3,613.4 L710.2,613.7 L711.2,614.0 L712.2,613.9 L713.1,613.7 L714.1,614.3 L715.1,613.9 L716.1,614.1 L717.0,614.2 L718.0,614.5 L719.0,614.2 L720.0,613.9 L720.9,614.4 L721.9,614.0 L722.9,614.7 L723.9,614.3 L724.8,613.8 L725.8,614.1 L726.8,614.1 L727.8,614.2 L728.7,614.2 L729.7,614.5 L730.7,614.2 L731.7,614.6 L732.6,614.3 L733.6,614.1 L734.6,613.8 L735.6,614.9 L736.5,614.8 L737.5,614.6 L738.5,614.4 L739.5,614.9 L740.5,614.1 L741.5,614.0 L742.5,614.9 L743.5,614.3 L744.5,613.4 L745.5,614.1 L746.5,613.8 L747.5,614.0 L748.6,613.8 L749.6,613.4 L750.6,613.2 L751.6,613.8 L752.6,613.2 L753.6,613.6 L754.6,613.5 L755.7,612.8 L756.7,613.8 L757.7,613.6 L758.8,613.5 L759.8,613.4 L760.9,613.3 L761.9,613.4 L763.0,613.6" fill="none" stroke="#0000ff" stroke-width="1.0" shape-rendering="crispEdges" stroke-linejoin="round"/>
<path d="M51.0,651.2 L52.1,651.4 L53.2,651.1 L54.2,651.0 L55.3,651.0 L56.4,650.5 L57.5,650.5 L58.4,650.4 L59.4,650.4 L60.3,650.3 L61.2,650.5 L62.2,650.1 L63.1,650.3 L64.1,650.1 L65.0,650.0 L65.9,650.2 L66.9,650.2 L67.8,650.2 L68.8,650.1 L69.7,650.3 L70.6,650.6 L71.6,650.3 L72.5,650.5 L73.5,650.4 L74.5,649.9 L75.5,649.9 L76.5,649.5 L77.5,649.5 L78.5,649.3 L79.5,649.6 L80.5,649.7 L81.5,650.2 L82.5,650.0 L83.5,650.0 L84.5,650.4 L85.5,650.3 L86.5,650.5 L87.5,650.5 L88.4,650.6 L89.4,650.7 L90.3,650.6 L91.2,651.0 L92.2,651.1 L93.1,651.0 L94.1,651.3 L95.0,651.2 L95.9,651.1 L96.9,651.3 L97.8,651.1 L98.8,651.3 L99.7,651.2 L100.6,651.3 L101.6,651.1 L102.5,651.2 L103.4,651.0 L104.4,651.3 L105.3,651.3 L106.2,651.5 L107.2,651.3 L108.1,651.3 L109.1,651.5 L110.0,651.5 L110.9,651.5 L111.9,651.5 L112.8,651.5 L113.8,651.5 L114.7,651.4 L115.6,651.4 L116.6,651.3 L117.5,651.2 L118.4,651.2 L119.4,651.1 L120.3,650.8 L121.2,650.7 L122.2,651.1 L123.1,650.5 L124.1,650.3 L125.0,650.5 L125.9,650.5 L126.9,650.5 L127.8,650.5 L128.8,650.7 L129.7,650.6 L130.6,650.6 L131.6,650.8 L132.5,650.8 L133.5,651.2 L134.6,651.4 L135.6,651.4 L136.7,651.7 L137.7,651.8 L138.8,652.0 L141.2,652.0 L143.8,649.2 L146.2,652.5 L148.8,656.2 L152.5,657.5 L156.2,660.5 L160.0,662.0 L162.5,661.2 L165.0,659.5 L167.5,658.8 L171.2,659.5 M201.2,657.5 L202.2,657.8 L203.2,657.6 L204.2,657.6 L205.2,657.8 L206.2,657.4 L207.2,657.5 L208.2,657.5 L209.2,657.5 L210.2,657.8 L211.1,657.4 L212.1,657.7 L213.1,657.5 L214.1,657.6 L215.1,657.6 L216.1,657.5 L217.1,657.4 L218.1,657.4 L219.1,657.7 L220.1,657.3 L221.0,657.6 L222.0,657.3 L223.0,657.5 L224.0,657.3 L225.0,657.5 L226.0,657.2 L227.0,657.4 L228.0,657.4 L229.0,657.8 L230.0,657.4 L231.0,657.7 L232.0,657.5 L233.0,657.6 L234.0,657.5 L235.0,657.5 L236.0,657.4 L237.0,657.7 L238.0,657.7 L239.0,657.4 L240.0,657.6 L241.0,657.3 L242.0,657.5 L243.0,657.4 L244.0,657.6 L245.0,657.4 L246.0,657.5 L247.0,657.3 L248.0,657.2 L249.0,657.5 L250.0,657.5 L251.0,657.4 L252.0,657.4 L253.1,657.2 L254.1,657.1 L255.1,657.2 L256.1,657.1 L257.2,657.1 L258.2,657.0 L259.2,657.0 L260.2,656.8 L261.2,656.8 L262.2,656.8 L263.2,656.7 L264.2,656.7 L265.2,656.7 L266.2,656.5 L267.1,656.5 L268.1,656.9 L269.1,656.4 L270.1,656.3 L271.1,656.6 L272.1,656.5 L273.0,656.5 L274.0,656.6 L275.0,656.5 L276.0,656.4 L277.0,656.4 L278.0,656.6 L279.0,656.7 L280.0,656.7 L281.0,656.6 L282.0,656.7 L283.0,656.5 L284.0,656.5 L285.0,656.9 L286.0,656.5 L287.0,656.4 L288.0,656.7 L289.0,656.5 L290.0,656.2 L291.0,656.4 L292.0,656.4 L293.0,656.5 L294.0,656.7 L295.0,656.5 L296.0,656.6 L297.0,656.3 L298.0,656.6 L299.0,656.4 L300.0,656.5 L301.0,656.7 L302.0,656.7 L303.0,656.6 L304.0,656.6 L305.0,656.6 L306.0,656.5 L307.0,656.2 L308.0,656.5 L309.0,656.6 L310.0,656.6 L311.0,656.6 L312.0,656.7 L313.0,656.4 L314.0,656.7 L315.0,656.4 L316.0,656.4 L317.0,656.7 L318.0,656.6 L319.0,656.6 L320.0,656.3 L321.0,656.7 L322.0,656.7 L323.0,656.6 L324.0,656.6 L325.0,656.5 L326.0,656.4 L327.0,656.2 L328.0,656.4 L329.0,656.6 L330.0,656.4 L331.0,656.1 L332.0,656.5 L333.0,656.8 L334.0,656.3 L335.0,656.7 L336.0,656.5 L337.0,656.3 L338.0,656.5 L339.0,656.5 L340.0,656.5 L341.0,656.7 L342.0,656.6 L343.0,656.4 L344.0,656.4 L345.0,656.5 L346.0,656.5 L347.0,656.4 L348.0,656.6 L349.0,656.8 L350.0,656.5 L351.0,656.4 L352.1,656.3 L353.1,656.4 L354.2,656.6 L355.2,656.4 L356.2,656.3 L357.3,656.4 L358.3,656.3 L359.4,656.4 L360.4,656.4 L361.5,656.4 L362.5,656.5 L363.4,656.6 L364.4,656.5 L365.3,656.7 L366.2,656.8 L367.2,657.1 L368.1,656.8 L369.1,657.0 L370.0,657.0 L371.0,657.2 L372.0,656.9 L373.0,657.2 L374.0,656.9 L375.0,657.0 L376.0,657.3 L377.0,657.2 L378.0,657.3 L379.0,657.4 L380.0,657.5 L381.0,657.4 L382.0,657.5 L383.0,657.3 L384.0,657.0 L385.0,657.0 L386.0,656.9 L387.0,656.9 L388.0,656.7 L389.0,656.6 L390.0,656.5 L391.0,656.4 L392.0,656.5 L393.0,656.5 L394.0,656.6 L395.0,656.3 L396.0,656.3 L397.0,656.1 L398.0,656.3 L399.0,656.2 L400.0,656.2 L401.0,656.2 L402.0,656.3 L403.0,656.2 L404.0,656.2 L405.0,656.2 L406.0,656.0 L407.0,656.5 L408.0,656.2 L409.0,656.3 L410.0,656.0 L411.0,656.0 L412.1,656.0 L413.1,656.1 L414.1,656.1 L415.1,656.2 L416.1,656.2 L417.1,656.1 L418.1,656.0 L419.2,656.0 L420.2,655.9 L421.2,655.8 L422.2,655.9 L423.3,656.0 L424.3,656.0 L425.3,655.7 L426.4,655.8 L427.4,655.7 L428.4,655.6 L429.5,655.6 L430.5,655.6 L431.5,655.5 L432.6,655.7 L433.6,655.5 L434.6,655.4 L435.6,655.2 L436.7,655.5 L437.7,655.2 L438.7,655.3 L439.8,655.1 L440.8,655.1 L441.8,655.2 L442.9,655.1 L443.9,655.1 L444.9,655.2 L445.9,655.2 L446.9,655.1 L447.9,655.1 L448.9,655.4 L449.9,655.3 L450.9,655.4 L451.9,655.6 L452.9,655.3 L453.9,655.7 L454.9,655.5 L455.9,655.7 L456.9,655.5 L457.9,655.5 L458.9,655.6 L459.9,655.6 L460.9,655.7 L461.9,655.8 L462.8,655.8 L463.8,656.1 L464.8,656.2 L465.7,655.9 L466.7,656.3 L467.7,656.0 L468.7,656.1 L469.6,656.2 L470.6,656.0 L471.6,656.2 L472.6,656.3 L473.5,656.1 L474.5,656.3 L475.5,656.1 L476.5,656.1 L477.4,656.1 L478.4,656.1 L479.4,656.3 L480.4,656.2 L481.3,656.1 L482.3,656.4 L483.3,656.1 L484.3,656.0 L485.2,656.4 L486.2,656.1 L487.2,656.2 L488.1,656.2 L489.1,656.2 L490.1,656.2 L491.1,656.2 L492.1,656.2 L493.1,656.1 L494.1,656.2 L495.1,656.2 L496.1,656.3 L497.1,656.1 L498.1,656.0 L499.1,656.2 L500.0,656.8 L500.9,657.5 L501.8,658.3 L502.7,658.6 L503.6,658.8 L504.5,659.1 L505.5,659.1 L506.5,659.1 L507.5,658.7 L508.5,658.4 L509.5,658.5 L510.5,658.0 L511.5,658.1 L512.5,657.8 L513.5,658.0 L514.6,657.5 L515.6,657.7 L516.6,657.8 L517.6,657.8 L518.7,657.5 L519.7,657.6 L520.7,657.9 L521.8,657.5 L522.8,657.7 L523.8,657.5 L524.9,657.7 L525.9,657.5 L526.9,657.5 L528.0,657.7 L529.0,657.7 L530.0,657.4 L531.0,657.5 L532.1,657.3 L533.1,657.8 L534.1,657.5 L535.2,657.5 L536.2,657.5 L537.2,657.4 L538.3,657.6 L539.3,657.5 L540.3,657.6 L541.3,657.4 L542.4,657.5 L543.4,657.4 L544.4,657.7 L545.5,657.4 L546.5,657.4 L547.5,657.3 L548.6,657.1 L549.6,657.3 L550.6,657.3 L551.6,657.1 L552.7,657.2 L553.7,657.4 L554.7,657.4 L555.8,657.3 L556.8,657.4 L557.8,657.2 L558.9,657.1 L559.9,657.1 L560.9,657.3 L562.0,657.3 L563.0,656.9 L564.0,657.3 L565.0,656.9 L566.1,657.2 L567.1,657.1 L568.1,657.2 L569.1,656.9 L570.1,656.7 L571.1,656.8 L572.1,656.6 L573.1,656.6 L574.1,656.4 L575.1,656.4 L576.2,656.5 L577.2,656.2 L578.2,656.2 L579.3,656.1 L580.3,656.2 L581.3,656.0 L582.4,656.0 L583.4,656.1 L584.4,656.1 L585.4,655.8 L586.5,656.0 L587.5,655.9 L588.5,655.8 L589.4,655.9 L590.4,655.6 L591.4,655.7 L592.4,655.4 L593.3,655.8 L594.3,655.5 L595.3,655.5 L596.3,655.5 L597.2,655.6 L598.2,655.4 L599.2,655.6 L600.2,655.3 L601.1,655.3 L602.1,655.2 L603.1,655.5 L604.1,655.4 L605.0,655.2 L606.0,655.1 L607.0,655.2 L608.0,655.0 L608.9,655.4 L609.9,655.5 L610.9,655.2 L611.9,655.5 L612.8,655.2 L613.8,655.3 L614.8,654.9 L615.7,655.1 L616.7,654.9 L617.7,654.9 L618.7,654.7 L619.6,654.8 L620.6,654.8 L621.6,654.9 L622.7,654.9 L623.7,654.7 L624.7,654.8 L625.7,654.9 L626.7,655.1 L627.7,654.8 L628.7,654.6 L629.7,655.0 L630.7,654.5 L631.7,655.1 L632.7,654.8 L633.7,654.9 L634.7,654.8 L635.7,654.8 L636.7,654.7 L637.7,654.8 L638.6,654.8 L639.6,654.9 L640.6,654.6 L641.6,654.7 L642.5,654.6 L643.5,654.5 L644.5,654.6 L645.5,654.3 L646.4,654.3 L647.4,654.4 L648.4,654.0 L649.4,654.2 L650.3,653.8 L651.3,653.9 L652.3,654.2 L653.3,654.1 L654.2,653.9 L655.2,653.9 L656.2,653.7 L657.1,653.8 L658.1,653.6 L659.1,653.6 L660.1,653.8 L661.0,653.8 L662.0,653.6 L663.0,653.9 L664.0,653.8 L664.9,653.9 L665.9,653.8 L666.9,653.7 L667.9,653.8 L668.9,653.6 L669.9,653.7 L671.0,653.6 L672.0,653.7 L673.0,653.9 L674.0,653.7 L675.1,653.7 L676.1,653.7 L677.1,653.6 L678.2,653.7 L679.2,653.7 L680.2,653.7 L681.2,653.8 L682.3,653.7 L683.4,654.1 L684.5,654.1 L685.5,654.0 L686.6,654.3 L687.7,654.2 L688.8,654.2 L689.8,653.7 L690.9,653.9 L692.0,653.8 L693.0,653.8 L694.1,653.8 L695.2,654.1 L696.2,654.3 L697.3,654.3 L698.3,654.5 L699.3,654.2 L700.2,654.3 L701.2,654.3 L702.2,654.3 L703.2,654.4 L704.1,654.2 L705.1,654.3 L706.1,654.3 L707.1,654.3 L708.0,654.3 L708.9,654.0 L709.8,653.4 L710.7,653.2 L711.8,653.4 L712.9,653.7 L713.9,653.9 L715.0,653.8 L716.1,654.3 L717.0,654.4 L718.0,654.2 L719.0,654.3 L720.0,654.2 L720.9,654.4 L721.9,654.1 L722.9,654.7 L723.9,654.3 L724.8,654.4 L725.8,654.4 L726.8,654.3 L727.8,654.3 L728.7,654.4 L729.7,654.6 L730.7,654.2 L731.7,654.5 L732.6,654.5 L733.6,654.3 L734.6,654.2 L735.6,654.5 L736.5,654.6 L737.5,654.5 L738.5,654.4 L739.4,654.6 L740.4,654.7 L741.4,654.5 L742.4,654.7 L743.3,654.4 L744.3,654.6 L745.3,654.6 L746.3,654.6 L747.2,654.7 L748.2,654.5 L749.2,654.6 L750.2,654.4 L751.2,654.6 L752.2,654.5 L753.2,654.5 L754.2,654.7 L755.2,654.6 L756.3,654.5 L757.3,654.5 L758.3,654.5 L759.3,654.6 L760.3,654.5" fill="none" stroke="#008000" stroke-width="1.0" shape-rendering="crispEdges" stroke-linejoin="round"/>
<path d="M51.0,692.5 L52.0,692.2 L53.0,692.0 L54.0,691.6 L55.0,691.6 L56.0,691.3 L57.0,691.1 L58.0,690.9 L59.0,690.7 L60.0,690.5 L61.0,690.7 L62.0,690.3 L63.0,690.8 L64.0,690.4 L65.0,690.7 L66.0,690.6 L67.0,690.3 L68.0,690.5 L69.0,690.5 L70.0,690.5 L71.0,690.4 L72.0,690.4 L73.0,690.5 L74.0,691.1 L75.0,690.5 L76.0,690.5 L77.0,690.5 L78.0,690.4 L79.0,690.7 L80.0,690.5 L81.0,690.6 L82.0,690.5 L83.0,690.4 L84.0,690.3 L85.0,690.4 L86.0,690.4 L87.0,690.7 L88.0,690.7 L89.0,690.5 L90.0,690.5 L91.0,690.4 L92.0,690.8 L93.0,691.1 L94.0,691.1 L95.0,691.2 L96.0,691.1 L97.0,691.2 L98.0,691.2 L99.0,691.5 L100.0,691.3 L101.0,691.3 L102.0,691.3 L103.0,691.0 L104.0,691.2 L105.0,691.2 L106.0,691.4 L107.0,691.3 L108.0,691.1 L109.0,691.2 L110.0,691.1 L111.0,691.4 L112.0,691.3 L113.0,691.3 L114.0,691.2 L115.0,691.2 L116.0,690.9 L117.0,691.3 L118.0,691.0 L119.0,690.4 L120.0,690.5 L121.0,690.4 L122.0,690.4 L123.0,690.5 L124.0,690.6 L125.0,690.6 L126.0,690.7 L127.0,690.7 L128.0,690.5 L129.0,690.6 L130.0,690.5 L130.9,690.7 L131.9,690.6 L132.8,691.0 L133.8,690.8 L134.7,691.0 L135.6,691.0 L136.6,691.1 L137.5,691.2 L142.5,691.2 L147.5,690.5 L151.2,692.5 L155.0,695.0 L158.8,697.5 L162.5,699.2 L166.2,698.0 L170.0,697.5 L175.0,698.0 L180.0,698.5 L185.0,698.0 L190.0,697.5 L195.0,696.5 L200.0,696.2 L225.0,696.2 L226.0,696.2 L227.0,696.4 L228.0,696.3 L229.0,696.3 L230.0,696.3 L231.0,696.3 L232.0,696.2 L233.0,695.9 L234.0,696.2 L235.0,696.1 L236.0,696.4 L237.0,696.4 L238.0,696.0 L239.0,696.1 L240.0,696.5 L241.0,696.3 L242.0,696.2 L243.0,696.2 L244.0,696.3 L245.0,696.3 L246.0,696.1 L247.0,696.2 L248.0,696.3 L249.0,696.3 L250.0,696.2 L251.0,696.5 L252.0,696.3 L253.0,696.4 L254.0,696.3 L255.0,696.3 L256.0,696.4 L257.0,696.3 L258.0,696.6 L259.0,696.0 L260.0,696.3 L261.0,696.4 L262.0,696.3 L263.0,696.4 L264.0,696.3 L265.0,696.0 L266.0,696.3 L267.0,696.0 L268.0,696.1 L269.0,696.5 L270.0,696.4 L271.0,696.2 L272.0,696.3 L273.0,696.2 L274.0,696.2 L275.0,696.2 L276.0,696.2 L277.0,696.3 L278.0,696.2 L279.0,696.2 L280.0,696.2 L281.0,696.3 L282.0,696.3 L283.0,696.2 L284.0,696.4 L285.0,696.2 L286.0,696.3 L287.0,696.4 L288.0,696.1 L289.0,696.0 L290.0,696.2 L290.9,696.1 L291.9,695.9 L292.8,695.7 L293.8,695.5 L294.7,695.7 L295.6,695.8 L296.6,696.1 L297.5,696.2 L298.5,696.2 L299.5,696.2 L300.4,696.3 L301.4,696.2 L302.4,696.3 L303.4,696.2 L304.4,696.2 L305.4,696.1 L306.3,696.3 L307.3,696.2 L308.3,696.4 L309.3,696.2 L310.3,696.3 L311.2,696.2 L312.2,696.4 L313.2,696.4 L314.2,696.3 L315.2,696.3 L316.2,696.4 L317.1,696.4 L318.1,696.0 L319.1,696.4 L320.1,696.5 L321.1,696.5 L322.1,696.2 L323.0,696.5 L324.0,696.1 L325.0,696.2 L326.0,696.3 L327.0,696.3 L328.0,696.4 L329.0,696.4 L330.0,696.2 L331.0,696.1 L332.0,696.2 L333.0,696.2 L334.0,696.5 L335.0,696.4 L336.0,696.3 L337.0,696.4 L338.0,696.3 L339.0,696.5 L340.0,696.2 L341.0,696.2 L342.0,696.2 L343.0,696.1 L344.0,696.1 L345.0,696.3 L346.0,696.2 L347.0,696.0 L348.0,696.4 L349.0,696.6 L350.0,696.2 L351.0,696.2 L352.0,696.2 L353.0,696.2 L354.0,696.2 L355.0,696.3 L356.0,696.4 L357.0,696.4 L358.0,696.3 L359.0,696.0 L360.0,696.3 L361.0,696.2 L362.0,696.3 L363.0,696.3 L364.0,696.2 L365.0,696.1 L366.0,696.5 L367.0,696.3 L368.0,696.3 L369.0,696.2 L370.0,696.4 L371.0,696.1 L372.0,696.1 L373.0,696.4 L374.0,696.4 L375.0,696.2 L376.0,696.4 L377.0,696.3 L378.0,696.2 L379.0,696.3 L380.0,696.3 L381.0,696.3 L382.0,696.2 L383.0,696.4 L384.0,696.4 L385.0,696.6 L386.0,696.4 L387.0,696.3 L388.0,696.5 L389.0,696.4 L390.0,696.3 L391.0,696.3 L392.0,696.5 L393.0,696.4 L394.0,696.2 L395.0,696.4 L396.0,696.3 L397.0,696.2 L398.0,696.5 L399.0,696.1 L400.0,696.3 L401.0,696.1 L402.0,696.4 L403.0,696.4 L404.0,696.1 L405.0,696.3 L406.0,696.2 L407.0,696.4 L408.0,696.3 L409.0,696.3 L410.0,696.4 L411.0,696.4 L412.1,696.3 L413.1,696.6 L414.1,696.4 L415.1,696.5 L416.1,696.3 L417.1,696.3 L418.1,696.2 L419.1,696.2 L420.1,696.4 L421.1,696.2 L422.1,696.2 L423.1,696.5 L424.1,696.2 L425.1,696.2 L426.1,696.3 L427.1,696.4 L428.1,696.2 L429.1,696.2 L430.1,695.9 L431.1,695.8 L432.1,696.1 L433.1,696.0 L434.1,696.2 L435.1,696.2 L436.0,696.1 L437.0,695.9 L438.0,695.9 L439.0,695.8 L439.9,695.8 L440.9,695.8 L441.9,695.5 L442.9,695.5 L443.8,695.4 L444.8,695.6 L445.8,695.4 L446.8,695.7 L447.8,695.7 L448.8,695.7 L449.8,695.8 L450.8,695.7 L451.7,696.0 L452.7,696.3 L453.7,695.6 L454.7,696.0 L455.7,695.8 L456.7,695.9 L457.7,696.0 L458.6,695.9 L459.6,696.3 L460.6,696.1 L461.6,696.1 L462.6,696.3 L463.7,696.3 L464.7,695.9 L465.7,696.2 L466.8,696.3 L467.8,696.3 L468.8,696.4 L469.9,696.3 L470.9,696.1 L471.9,696.4 L472.9,696.4 L474.0,696.2 L475.0,696.3 L476.0,696.4 L477.1,696.2 L478.1,696.2 L479.1,696.8 L480.1,696.4 L481.2,696.4 L482.2,696.2 L483.2,696.4 L484.3,696.5 L485.3,696.6 L486.3,696.5 L487.4,696.5 L488.4,696.6 L489.4,696.7 L490.4,696.8 L491.4,696.6 L492.4,696.6 L493.4,696.7 L494.4,697.0 L495.4,696.7 L496.4,696.7 L497.4,696.4 L498.4,696.6 L499.4,696.5 L500.4,696.6 L501.5,697.1 L502.5,697.3 L503.5,697.6 L504.5,698.0 L505.5,698.4 L506.6,698.5 L507.7,698.8 L508.8,699.0 L509.8,699.3 L510.9,699.1 L512.0,699.2 L513.0,699.1 L514.1,699.0 L515.2,699.0 L516.2,699.1 L517.2,698.9 L518.3,699.0 L519.3,698.8 L520.3,698.6 L521.4,698.8 L522.4,698.8 L523.4,698.7 L524.5,698.6 L525.5,698.9 L526.5,698.6 L527.5,698.8 L528.6,698.5 L529.6,698.7 L530.6,698.5 L531.7,698.4 L532.7,698.3 L533.7,698.4 L534.8,698.5 L535.8,698.4 L536.8,698.3 L537.8,698.1 L538.9,698.4 L539.9,698.2 L540.9,698.1 L542.0,698.2 L543.0,698.4 L544.0,698.3 L545.1,698.1 L546.1,698.0 L547.1,698.4 L548.1,698.2 L549.2,698.4 L550.2,698.3 L551.2,698.1 L552.3,698.2 L553.3,698.3 L554.3,698.2 L555.4,698.2 L556.4,698.3 L557.4,698.3 L558.5,698.1 L559.5,698.3 L560.5,698.1 L561.5,697.9 L562.6,698.1 L563.6,698.1 L564.6,698.1 L565.7,697.8 L566.7,698.3 L567.7,697.9 L568.8,698.0 L569.8,697.9 L570.8,697.7 L571.8,697.6 L572.9,697.7 L573.9,697.5 L574.9,697.6 L576.0,697.5 L577.0,697.3 L578.0,697.3 L579.0,697.5 L580.1,697.0 L581.1,697.2 L582.1,697.1 L583.1,697.0 L584.1,697.1 L585.1,697.1 L586.0,696.9 L587.0,696.9 L588.0,697.0 L589.0,696.9 L589.9,696.8 L590.9,696.8 L591.9,697.1 L592.9,696.9 L593.9,696.8 L594.9,696.5 L595.9,696.6 L596.9,696.8 L597.9,696.7 L598.9,696.4 L599.9,696.5 L600.9,696.6 L601.9,696.7 L602.9,696.1 L603.9,696.7 L604.9,696.5 L605.9,696.4 L606.9,696.4 L607.9,696.6 L608.9,696.3 L609.9,696.4 L610.9,696.3 L611.9,696.1 L612.8,696.2 L613.8,696.1 L614.8,696.1 L615.7,695.8 L616.7,696.2 L617.7,695.9 L618.7,695.9 L619.6,695.8 L620.7,695.8 L621.7,695.8 L622.7,695.5 L623.8,695.7 L624.8,695.6 L625.8,695.3 L626.9,695.3 L627.9,695.4 L628.9,695.2 L629.9,694.9 L631.0,695.0 L632.0,695.0 L633.0,695.0 L634.0,695.1 L635.0,694.9 L636.1,694.9 L637.1,694.9 L638.1,694.8 L639.1,695.0 L640.1,694.7 L641.1,694.9 L642.1,694.8 L643.1,694.7 L644.1,694.6 L645.1,694.6 L646.1,694.7 L647.1,694.5 L648.1,694.7 L649.1,694.5 L650.1,694.5 L651.2,694.3 L652.2,694.4 L653.2,694.3 L654.3,694.2 L655.3,694.4 L656.3,694.4 L657.4,694.1 L658.4,694.2 L659.4,694.6 L660.4,694.2 L661.5,694.3 L662.5,694.2 L663.6,694.2 L664.6,694.2 L665.7,693.8 L666.8,693.6 L667.9,693.7 L668.9,693.7 L669.9,693.7 L671.0,693.8 L672.0,693.6 L673.0,693.4 L674.0,693.8 L675.1,693.6 L676.1,693.5 L677.1,693.8 L678.2,693.4 L679.2,693.4 L680.2,693.9 L681.2,693.7 L682.3,693.8 L683.3,693.6 L684.3,693.6 L685.4,693.8 L686.4,693.7 L687.4,693.6 L688.5,693.5 L689.5,693.4 L690.5,693.7 L691.6,693.4 L692.6,693.2 L693.6,693.5 L694.6,693.4 L695.7,693.2 L696.7,693.6 L697.7,693.6 L698.7,693.7 L699.7,693.5 L700.7,693.7 L701.7,693.7 L702.7,693.7 L703.6,694.0 L704.5,694.0 L705.4,694.5 L706.4,694.5 L707.5,694.0 L708.6,693.9 L709.6,693.9 L710.7,693.7 L711.8,693.8 L712.9,694.3 L713.9,694.3 L715.0,694.5 L716.1,694.5 L717.0,694.6 L718.0,694.4 L719.0,694.6 L720.0,694.5 L720.9,694.5 L721.9,694.6 L722.9,694.3 L723.9,694.4 L724.8,694.5 L725.8,694.2 L726.8,694.5 L727.8,694.3 L728.7,694.4 L729.7,694.6 L730.7,694.6 L731.7,694.4 L732.6,694.4 L733.6,694.3 L734.6,694.4 L735.6,694.2 L736.5,694.3 L737.5,694.5 L738.5,694.5 L739.4,694.4 L740.4,694.5 L741.4,694.7 L742.4,694.4 L743.3,694.5 L744.3,694.1 L745.3,694.7 L746.3,694.8 L747.2,694.4 L748.2,694.5 L749.2,694.9 L750.2,694.5 L751.2,694.6 L752.1,694.4 L753.1,694.6 L754.1,694.4 L755.1,694.4 L756.1,694.5 L757.1,694.4 L758.0,694.5 L759.0,694.6 L760.0,694.4 L761.0,694.5 L762.0,694.4 L763.0,694.5" fill="none" stroke="#cc0000" stroke-width="1.0" shape-rendering="crispEdges" stroke-linejoin="round"/>
<path d="M51.0,733.0 L52.1,732.7 L53.2,732.4 L54.2,732.5 L55.3,732.4 L56.4,732.3 L57.5,732.0 L58.4,732.0 L59.4,731.9 L60.3,732.0 L61.2,731.9 L62.2,732.0 L63.1,731.6 L64.1,731.7 L65.0,731.5 L65.9,731.4 L66.9,731.5 L67.8,731.8 L68.8,731.5 L69.7,731.3 L70.6,731.3 L71.6,731.5 L72.5,731.5 L73.4,731.3 L74.4,731.4 L75.3,731.0 L76.2,731.0 L77.2,730.7 L78.1,730.6 L79.1,730.7 L80.0,730.5 L80.9,730.4 L81.9,730.6 L82.8,730.3 L83.8,730.3 L84.7,730.5 L85.6,730.6 L86.6,730.5 L87.5,730.5 L88.4,730.5 L89.4,730.9 L90.3,731.0 L91.2,730.9 L92.2,731.0 L93.1,731.2 L94.1,731.4 L95.0,731.5 L96.0,731.5 L97.0,731.4 L98.0,731.4 L99.0,731.8 L100.0,731.2 L101.0,731.4 L102.0,731.4 L103.0,731.3 L104.0,731.3 L105.0,731.5 L105.9,731.4 L106.9,731.7 L107.8,731.5 L108.8,731.5 L109.7,732.3 L110.6,732.1 L111.6,732.1 L112.5,732.0 L113.5,732.1 L114.5,731.7 L115.5,731.8 L116.5,731.5 L117.5,731.5 L118.4,731.5 L119.4,731.5 L120.3,731.6 L121.2,731.6 L122.2,731.5 L123.1,731.8 L124.1,731.7 L125.0,731.5 L125.9,731.4 L126.9,731.5 L127.8,731.7 L128.8,731.8 L129.7,731.5 L130.6,731.5 L131.6,731.4 L132.5,731.5 L140.0,731.5 L143.8,730.5 L147.5,729.2 L150.0,730.5 L155.0,733.8 L160.0,736.2 L163.8,738.0 L167.5,737.5 L170.0,736.2 L175.0,737.0 L182.5,737.5 L190.0,737.0 L195.0,736.2 L202.5,735.5 L203.4,735.6 L204.4,735.5 L205.3,735.5 L206.2,735.7 L207.2,736.0 L208.1,735.8 L209.1,736.0 L210.0,736.0 L211.0,736.1 L212.0,735.7 L213.0,735.7 L214.0,736.0 L215.0,735.7 L216.0,735.4 L217.0,735.5 L218.0,735.6 L219.0,735.7 L220.0,735.5 L221.0,735.5 L222.0,735.5 L223.0,735.4 L224.0,735.7 L225.0,735.3 L226.0,735.6 L227.0,735.7 L228.0,735.5 L229.0,735.7 L230.0,735.5 L231.0,735.7 L232.0,735.8 L233.0,735.7 L234.0,735.5 L235.0,735.6 L236.0,735.9 L237.0,735.7 L238.0,735.8 L239.0,735.9 L240.0,736.0 L241.0,736.1 L242.0,736.0 L243.0,735.9 L244.0,736.0 L245.0,736.4 L246.0,736.2 L247.0,736.1 L248.0,736.2 L249.0,736.3 L250.0,736.2 L251.0,735.9 L252.0,736.5 L253.0,736.3 L254.0,736.0 L255.0,736.1 L256.0,736.2 L257.0,736.0 L258.0,736.1 L259.0,736.1 L260.0,736.0 L261.0,735.8 L262.0,735.8 L263.0,736.1 L264.0,735.9 L265.0,735.7 L266.0,735.7 L267.0,735.7 L268.0,735.7 L269.0,735.6 L270.0,735.5 L271.0,735.5 L272.0,735.6 L273.0,735.4 L274.0,735.9 L275.0,735.7 L276.0,735.8 L277.0,735.6 L278.0,736.0 L279.0,735.8 L280.0,736.0 L281.0,736.0 L282.0,735.9 L283.0,735.7 L284.0,736.0 L285.0,735.7 L286.0,735.9 L287.0,735.7 L288.0,735.7 L289.0,735.7 L290.0,735.5 L291.0,735.3 L292.0,735.4 L293.0,735.7 L294.0,735.5 L295.0,735.7 L296.0,735.7 L297.0,735.3 L298.0,735.4 L299.0,735.3 L300.0,735.5 L301.0,735.5 L302.0,735.7 L303.0,735.3 L304.0,735.5 L305.0,735.6 L306.0,736.0 L307.0,735.7 L308.0,736.1 L309.0,735.9 L310.0,736.0 L311.0,736.4 L312.0,736.0 L313.0,736.1 L314.0,736.0 L315.0,736.1 L316.0,736.4 L317.0,736.4 L318.0,736.0 L319.0,736.4 L320.0,736.2 L321.0,736.2 L322.0,736.0 L323.0,735.9 L324.0,735.8 L325.0,736.0 L326.0,735.7 L327.0,735.7 L328.0,736.0 L329.0,735.8 L330.0,735.5 L331.0,735.7 L332.0,735.3 L333.0,735.8 L334.0,735.7 L335.0,736.0 L336.0,736.0 L337.0,736.4 L338.0,736.2 L339.0,736.1 L340.0,736.2 L341.0,736.1 L342.0,736.2 L343.0,735.9 L344.0,735.9 L345.0,735.9 L346.0,736.0 L347.0,735.7 L348.0,735.9 L349.0,735.8 L350.0,735.5 L351.0,735.5 L352.0,735.6 L353.0,735.3 L354.0,735.9 L355.0,735.8 L356.0,735.9 L357.0,736.0 L358.0,735.8 L359.0,735.9 L360.0,736.0 L361.0,736.1 L362.0,736.1 L363.0,736.2 L364.0,736.1 L365.0,736.1 L366.0,736.3 L367.0,736.0 L368.0,736.2 L369.0,736.2 L370.0,736.2 L371.0,736.4 L372.0,736.3 L373.0,736.6 L374.0,736.0 L375.0,736.3 L376.0,736.4 L377.0,736.2 L378.0,736.3 L379.0,736.1 L380.0,736.2 L381.0,736.5 L382.0,736.1 L383.0,736.4 L384.0,736.0 L385.0,736.2 L386.0,736.2 L387.0,736.3 L388.0,736.2 L389.0,736.1 L390.0,736.2 L391.0,736.3 L392.0,736.2 L393.0,736.6 L394.0,736.5 L395.0,736.3 L396.0,736.5 L397.0,736.4 L398.0,736.6 L399.0,736.4 L400.0,736.5 L401.0,736.4 L401.9,736.3 L402.9,736.7 L403.9,736.6 L404.9,736.6 L405.8,736.5 L406.8,736.5 L407.8,736.7 L408.8,736.3 L409.7,736.3 L410.7,736.5 L411.7,736.5 L412.7,736.8 L413.6,736.3 L414.6,736.3 L415.6,736.3 L416.6,736.3 L417.5,736.2 L418.5,736.1 L419.5,736.0 L420.5,736.2 L421.4,736.0 L422.4,736.2 L423.4,735.9 L424.4,735.7 L425.3,735.7 L426.3,736.0 L427.3,735.9 L428.2,735.5 L429.2,735.8 L430.2,735.7 L431.2,735.2 L432.1,735.5 L433.1,735.5 L434.1,735.4 L435.1,735.6 L436.0,735.5 L437.0,735.6 L438.0,735.4 L439.0,735.4 L439.9,735.4 L440.9,735.4 L441.9,735.4 L442.9,735.5 L443.8,735.3 L444.8,735.6 L445.8,735.5 L446.8,735.4 L447.7,735.4 L448.7,735.4 L449.7,735.5 L450.6,735.4 L451.6,735.4 L452.6,735.5 L453.6,735.5 L454.6,735.7 L455.6,735.8 L456.6,736.1 L457.6,736.0 L458.6,736.0 L459.6,735.8 L460.6,736.1 L461.6,736.2 L462.6,736.3 L463.6,736.4 L464.6,736.5 L465.6,736.4 L466.6,736.5 L467.6,736.3 L468.6,736.5 L469.6,736.5 L470.6,736.6 L471.6,736.6 L472.7,736.6 L473.7,736.8 L474.7,736.4 L475.7,736.8 L476.7,736.7 L477.7,736.8 L478.7,736.9 L479.7,737.1 L480.7,737.2 L481.7,737.1 L482.7,737.3 L483.7,737.2 L484.7,737.1 L485.7,737.3 L486.8,737.3 L487.8,737.5 L488.8,737.5 L489.8,737.4 L490.9,737.3 L491.9,737.2 L492.9,737.3 L494.0,737.3 L495.0,737.4 L496.0,737.1 L497.1,737.2 L498.1,737.4 L499.1,737.3 L500.2,737.7 L501.3,737.6 L502.3,738.1 L503.4,738.5 L504.5,738.7 L505.5,738.9 L506.6,739.4 L507.7,739.8 L508.8,740.2 L509.8,740.5 L510.9,740.5 L512.0,740.4 L513.0,740.6 L514.1,740.2 L515.2,740.3 L516.2,739.9 L517.2,740.4 L518.2,740.0 L519.2,739.9 L520.2,740.0 L521.2,739.9 L522.2,739.9 L523.2,739.7 L524.2,739.7 L525.3,739.7 L526.3,739.7 L527.3,739.6 L528.4,739.3 L529.4,739.4 L530.4,739.4 L531.5,739.3 L532.5,739.4 L533.5,739.5 L534.6,739.4 L535.6,739.2 L536.6,739.2 L537.6,739.3 L538.7,739.1 L539.7,739.4 L540.7,739.1 L541.8,738.9 L542.8,738.6 L543.8,738.9 L544.9,738.7 L545.9,738.6 L546.9,738.7 L547.9,738.6 L549.0,738.6 L550.0,738.4 L551.0,738.3 L552.1,738.3 L553.1,738.2 L554.1,738.1 L555.1,737.9 L556.2,738.3 L557.2,738.2 L558.2,737.9 L559.3,737.9 L560.3,737.8 L561.3,737.8 L562.4,738.1 L563.4,737.9 L564.4,737.9 L565.3,737.8 L566.3,737.6 L567.3,737.7 L568.3,737.8 L569.2,737.6 L570.2,737.5 L571.2,737.5 L572.2,737.5 L573.1,737.5 L574.1,737.3 L575.1,737.3 L576.2,736.9 L577.2,737.3 L578.2,737.1 L579.3,737.1 L580.3,737.1 L581.3,736.9 L582.4,737.1 L583.4,737.0 L584.4,737.1 L585.4,737.0 L586.5,736.6 L587.5,736.8 L588.5,736.8 L589.4,736.7 L590.4,736.4 L591.4,736.6 L592.4,736.9 L593.3,736.3 L594.3,736.4 L595.3,736.6 L596.3,736.4 L597.2,736.3 L598.2,736.2 L599.2,736.3 L600.2,736.2 L601.1,736.3 L602.1,736.3 L603.1,736.5 L604.1,736.1 L605.0,736.2 L606.0,736.3 L607.0,736.4 L608.0,736.2 L608.9,736.2 L609.9,736.2 L610.9,736.1 L611.9,736.0 L612.8,736.1 L613.8,736.0 L614.8,736.0 L615.7,735.8 L616.7,735.9 L617.7,735.8 L618.7,735.7 L619.6,735.7 L620.6,735.5 L621.6,735.4 L622.7,735.6 L623.7,735.8 L624.7,735.6 L625.7,735.3 L626.7,735.4 L627.7,735.7 L628.7,735.6 L629.7,735.5 L630.7,735.0 L631.7,735.1 L632.7,735.2 L633.7,735.2 L634.7,735.1 L635.7,735.2 L636.7,735.1 L637.7,735.3 L638.6,734.8 L639.6,734.8 L640.6,735.0 L641.6,735.0 L642.5,735.0 L643.5,734.7 L644.5,734.6 L645.5,734.7 L646.4,734.6 L647.4,734.7 L648.4,734.7 L649.4,734.7 L650.3,734.7 L651.3,734.9 L652.3,734.6 L653.3,734.6 L654.2,734.2 L655.2,734.6 L656.2,734.6 L657.1,734.6 L658.1,734.9 L659.1,734.6 L660.1,734.7 L661.0,734.7 L662.0,734.7 L663.0,734.7 L664.0,734.4 L664.9,734.6 L665.9,734.7 L666.9,734.6 L667.9,734.6 L668.8,734.5 L669.8,734.5 L670.8,734.4 L671.8,734.1 L672.7,734.4 L673.7,734.4 L674.7,734.4 L675.6,734.4 L676.6,734.2 L677.6,734.3 L678.6,734.1 L679.5,734.3 L680.5,734.0 L681.5,734.0 L682.5,734.1 L683.4,734.0 L684.4,734.0 L685.4,734.3 L686.4,734.2 L687.3,734.2 L688.3,734.2 L689.3,734.1 L690.3,734.0 L691.3,734.0 L692.3,734.3 L693.3,734.2 L694.3,733.9 L695.3,734.0 L696.3,734.2 L697.3,734.1 L698.4,734.3 L699.5,734.3 L700.5,734.3 L701.6,734.5 L702.7,734.6 L703.7,734.8 L704.7,734.4 L705.7,734.4 L706.7,734.2 L707.7,733.8 L708.7,734.1 L709.7,734.1 L710.7,733.8 L711.8,734.1 L712.9,734.3 L713.9,734.2 L715.0,734.4 L716.1,734.6 L717.0,734.5 L718.0,734.5 L719.0,734.7 L720.0,734.5 L720.9,734.4 L721.9,734.6 L722.9,734.5 L723.9,734.6 L724.8,734.5 L725.8,735.0 L726.8,734.6 L727.8,734.5 L728.7,734.6 L729.7,734.6 L730.7,734.6 L731.7,734.7 L732.6,734.6 L733.6,734.7 L734.6,734.6 L735.6,734.8 L736.5,734.8 L737.5,734.6 L738.5,734.7 L739.4,734.5 L740.4,734.6 L741.4,734.5 L742.4,734.7 L743.3,734.6 L744.3,734.7 L745.3,734.8 L746.3,734.8 L747.2,734.7 L748.2,734.6 L749.2,734.7 L750.2,734.6 L751.2,734.6 L752.2,734.7 L753.2,734.7 L754.2,734.7 L755.2,734.8 L756.2,734.6" fill="none" stroke="#0000ff" stroke-width="1.0" shape-rendering="crispEdges" stroke-linejoin="round"/>
<path d="M51.0,773.0 L52.0,772.9 L53.0,772.9 L54.0,772.9 L55.0,772.8 L56.0,772.9 L57.0,772.7 L58.0,772.6 L59.0,772.7 L60.0,772.5 L61.0,772.4 L62.0,772.7 L63.0,772.4 L64.0,772.3 L65.0,772.6 L66.0,772.6 L67.0,772.8 L68.0,772.4 L69.0,772.5 L70.0,772.5 L71.0,772.0 L72.0,771.8 L73.0,771.6 L74.0,771.4 L75.0,771.2 L75.9,771.4 L76.9,771.3 L77.8,771.3 L78.8,771.4 L79.7,771.8 L80.6,771.6 L81.6,772.0 L82.5,772.0 L83.5,771.9 L84.5,772.0 L85.5,771.9 L86.5,771.6 L87.5,771.4 L88.5,771.9 L89.5,771.4 L90.5,771.6 L91.5,771.5 L92.5,771.2 L93.5,771.3 L94.5,770.7 L95.5,771.2 L96.5,771.3 L97.5,771.1 L98.5,771.2 L99.5,771.5 L100.5,771.2 L101.5,771.3 L102.5,771.2 L103.5,771.4 L104.5,771.1 L105.5,771.1 L106.5,771.1 L107.5,771.4 L108.5,771.2 L109.5,771.2 L110.5,771.1 L111.5,771.2 L112.5,771.2 L113.5,771.3 L114.5,771.1 L115.5,771.5 L116.5,771.0 L117.5,771.4 L118.5,771.0 L119.5,771.1 L120.5,771.3 L121.5,771.2 L122.5,771.2 L123.4,771.3 L124.4,771.4 L125.3,771.5 L126.2,771.5 L127.2,771.4 L128.1,771.1 L129.1,771.2 L130.0,771.2 L131.0,771.5 L132.0,771.6 L133.0,771.8 L134.0,771.6 L135.0,772.0 L141.2,772.0 L143.8,774.5 L147.5,777.0 L152.5,777.0 L157.5,775.5 L163.8,774.5 L167.5,775.5 L172.5,776.2 L177.5,775.5 L185.0,775.5 L195.0,775.5 L212.5,775.5 L213.5,775.5 L214.5,775.5 L215.5,775.5 L216.5,775.6 L217.5,775.6 L218.5,775.3 L219.5,775.8 L220.5,775.7 L221.5,775.5 L222.5,775.4 L223.5,775.6 L224.5,775.5 L225.5,775.6 L226.5,775.4 L227.5,775.5 L228.5,775.5 L229.5,775.2 L230.5,775.4 L231.5,775.3 L232.5,775.7 L233.5,775.3 L234.5,775.5 L235.5,775.3 L236.5,775.4 L237.5,775.5 L238.5,775.2 L239.5,775.6 L240.5,775.8 L241.5,775.5 L242.5,775.5 L243.5,775.6 L244.5,775.6 L245.5,775.6 L246.5,775.5 L247.5,775.4 L248.5,775.6 L249.5,775.5 L250.5,775.3 L251.5,775.6 L252.5,775.5 L253.5,775.3 L254.5,775.5 L255.5,775.6 L256.5,775.7 L257.5,775.2 L258.5,775.5 L259.5,775.6 L260.5,775.4 L261.5,775.3 L262.5,775.5 L263.5,775.7 L264.5,775.7 L265.5,775.5 L266.5,775.3 L267.5,775.5 L268.5,775.7 L269.5,775.6 L270.5,775.5 L271.5,775.4 L272.5,775.2 L273.5,775.7 L274.5,775.7 L275.5,775.4 L276.5,775.6 L277.5,775.6 L278.5,775.7 L279.5,775.6 L280.5,775.5 L281.5,775.4 L282.5,775.7 L283.5,775.6 L284.5,775.5 L285.5,775.4 L286.5,775.5 L287.5,775.5 L288.5,775.8 L289.5,775.6 L290.5,775.5 L291.5,775.4 L292.5,775.3 L293.5,775.5 L294.5,775.4 L295.5,775.6 L296.5,775.7 L297.5,775.8 L298.5,775.7 L299.5,775.4 L300.5,775.4 L301.5,775.5 L302.5,775.6 L303.5,775.5 L304.5,775.6 L305.5,775.3 L306.5,775.7 L307.5,775.2 L308.5,775.7 L309.5,775.7 L310.5,775.4 L311.5,775.6 L312.5,775.5 L313.5,775.5 L314.5,775.4 L315.5,775.5 L316.5,775.3 L317.5,775.3 L318.5,775.5 L319.5,775.4 L320.5,775.6 L321.5,775.3 L322.5,775.7 L323.5,775.3 L324.5,775.5 L325.5,775.4 L326.5,775.6 L327.5,775.5 L328.5,775.4 L329.5,775.3 L330.5,775.4 L331.5,775.5 L332.5,775.7 L333.5,775.4 L334.5,775.7 L335.5,775.5 L336.5,775.4 L337.5,775.5 L338.5,775.6 L339.5,775.7 L340.5,775.8 L341.5,776.0 L342.5,775.8 L343.5,776.1 L344.5,776.1 L345.5,775.7 L346.5,776.1 L347.5,776.2 L348.5,776.1 L349.5,776.6 L350.5,776.1 L351.5,776.1 L352.5,776.1 L353.5,776.3 L354.5,776.3 L355.5,776.3 L356.5,776.3 L357.5,776.3 L358.5,776.1 L359.5,776.2 L360.5,776.3 L361.5,776.4 L362.5,776.2 L363.5,776.1 L364.6,776.6 L365.6,776.1 L366.7,776.4 L367.7,776.2 L368.8,776.3 L369.8,776.1 L370.8,776.3 L371.9,776.4 L372.9,776.2 L374.0,776.1 L375.0,776.2 L376.0,776.3 L377.0,776.1 L378.0,776.3 L379.0,776.4 L380.0,776.0 L381.0,776.0 L382.0,776.2 L383.0,776.0 L384.0,776.3 L385.0,776.2 L386.0,776.1 L387.0,776.0 L388.0,776.2 L389.0,776.1 L390.0,775.9 L391.0,776.0 L392.0,775.9 L393.0,776.1 L394.0,776.1 L395.0,776.1 L396.0,775.9 L397.0,776.0 L398.0,775.9 L399.0,775.9 L400.0,775.9 L401.0,776.1 L401.9,776.0 L402.9,776.0 L403.9,775.7 L404.9,776.0 L405.8,775.9 L406.8,776.1 L407.8,775.8 L408.8,776.0 L409.7,775.9 L410.7,775.9 L411.7,775.9 L412.7,775.8 L413.6,775.7 L414.6,775.9 L415.6,775.8 L416.6,776.0 L417.5,776.0 L418.5,775.8 L419.5,776.2 L420.5,776.0 L421.4,775.9 L422.4,775.7 L423.4,775.8 L424.4,775.8 L425.3,775.7 L426.3,775.7 L427.3,775.7 L428.2,775.5 L429.2,775.6 L430.2,775.4 L431.2,775.5 L432.1,775.4 L433.1,775.2 L434.1,775.5 L435.1,775.3 L436.0,775.1 L437.0,775.4 L438.0,775.2 L439.0,775.2 L439.9,775.2 L440.9,775.1 L441.9,775.4 L442.9,775.1 L443.8,775.0 L444.8,775.3 L445.8,775.1 L446.8,775.4 L447.7,774.9 L448.7,775.0 L449.7,775.0 L450.6,774.9 L451.6,775.1 L452.6,775.1 L453.6,775.1 L454.5,775.2 L455.5,775.0 L456.5,775.3 L457.5,775.3 L458.4,775.0 L459.4,775.2 L460.4,775.4 L461.4,775.5 L462.3,775.5 L463.3,775.2 L464.3,775.4 L465.3,775.3 L466.3,775.2 L467.3,775.5 L468.3,775.6 L469.3,775.8 L470.3,775.9 L471.3,775.9 L472.3,775.9 L473.3,776.0 L474.3,776.3 L475.3,776.5 L476.3,776.3 L477.3,776.6 L478.4,776.3 L479.4,776.9 L480.4,777.0 L481.3,777.1 L482.3,777.2 L483.3,777.4 L484.3,777.1 L485.2,777.0 L486.2,777.2 L487.2,777.3 L488.1,777.2 L489.1,777.6 L490.1,777.5 L491.1,777.5 L492.1,777.5 L493.2,777.5 L494.2,777.6 L495.2,777.9 L496.3,777.6 L497.3,777.8 L498.4,777.7 L499.4,777.9 L500.4,778.0 L501.5,778.1 L502.5,778.6 L503.5,778.4 L504.5,778.8 L505.5,779.1 L506.6,779.6 L507.7,779.7 L508.8,779.9 L509.8,780.2 L510.9,780.3 L512.0,780.0 L513.0,779.8 L514.1,779.8 L515.2,779.6 L516.2,779.7 L517.2,779.6 L518.2,779.6 L519.2,779.1 L520.2,778.9 L521.2,778.9 L522.2,778.8 L523.2,778.8 L524.2,778.7 L525.2,778.7 L526.2,778.1 L527.2,778.1 L528.2,778.3 L529.2,778.0 L530.2,777.7 L531.2,777.5 L532.2,777.5 L533.2,777.4 L534.2,777.3 L535.1,777.4 L536.1,777.3 L537.1,777.3 L538.1,777.5 L539.0,777.4 L540.0,777.8 L541.0,777.4 L542.0,777.5 L542.9,777.6 L543.9,777.4 L544.9,777.3 L545.9,777.5 L546.8,777.5 L547.8,777.4 L548.8,777.7 L549.8,777.6 L550.7,777.5 L551.7,777.4 L552.7,777.5 L553.7,777.5 L554.7,777.6 L555.7,777.5 L556.7,777.6 L557.7,777.2 L558.7,777.6 L559.7,777.6 L560.7,777.5 L561.8,777.2 L562.9,777.1 L563.9,777.2 L565.0,776.7 L566.1,776.7 L567.0,776.7 L568.0,776.6 L569.0,776.7 L570.0,776.5 L570.9,776.7 L571.9,776.6 L572.9,776.6 L573.9,776.4 L574.8,776.7 L575.8,776.5 L576.8,776.4 L577.8,776.3 L578.7,776.0 L579.7,776.4 L580.7,776.3 L581.7,776.4 L582.6,776.1 L583.6,776.0 L584.6,776.1 L585.6,776.3 L586.5,776.1 L587.5,775.9 L588.5,776.0 L589.4,776.0 L590.4,775.9 L591.4,775.9 L592.4,775.9 L593.3,775.9 L594.3,775.9 L595.3,776.0 L596.3,775.7 L597.2,775.9 L598.2,775.9 L599.2,775.8 L600.2,776.2 L601.1,775.8 L602.1,775.7 L603.1,775.6 L604.1,775.6 L605.0,775.7 L606.0,775.6 L607.0,775.5 L608.0,775.4 L608.9,775.6 L609.9,775.8 L610.9,775.5 L611.9,775.2 L612.8,775.4 L613.8,775.4 L614.8,775.4 L615.7,775.3 L616.7,775.2 L617.7,775.2 L618.7,775.1 L619.6,775.1 L620.6,775.0 L621.6,775.1 L622.6,775.2 L623.5,775.2 L624.5,775.0 L625.5,774.9 L626.5,775.2 L627.4,775.1 L628.4,775.1 L629.4,775.1 L630.4,775.1 L631.3,775.1 L632.3,775.2 L633.3,774.9 L634.3,775.1 L635.2,775.2 L636.2,775.1 L637.2,775.1 L638.1,775.0 L639.1,774.9 L640.1,775.0 L641.1,775.1 L642.0,774.9 L643.0,774.9 L644.0,775.3 L645.0,775.1 L645.9,775.0 L646.9,775.1 L647.9,774.8 L648.9,775.1 L649.8,775.0 L650.8,775.0 L651.8,775.1 L652.9,774.9 L653.9,774.8 L655.0,774.6 L656.1,774.4 L657.1,774.3 L658.1,774.6 L659.1,774.3 L660.1,774.4 L661.0,774.1 L662.0,774.4 L663.0,774.1 L664.0,774.2 L664.9,774.1 L665.9,774.5 L666.9,774.4 L667.9,774.3 L668.9,774.3 L669.8,774.3 L670.8,774.2 L671.8,774.5 L672.8,774.2 L673.8,774.1 L674.8,774.5 L675.8,774.1 L676.8,774.2 L677.8,774.3 L678.8,774.3 L679.8,774.2 L680.8,774.3 L681.8,774.2 L682.7,774.4 L683.7,774.5 L684.7,774.3 L685.7,774.2 L686.7,774.3 L687.7,774.4 L688.7,774.1 L689.7,774.1 L690.7,774.3 L691.7,773.9 L692.7,774.5 L693.7,774.3 L694.6,774.3 L695.6,774.2 L696.6,774.3 L697.6,773.9 L698.6,774.2 L699.6,774.2 L700.6,774.3 L701.6,774.3 L702.6,774.6 L703.6,774.4 L704.6,774.4 L705.6,774.4 L706.6,774.3 L707.5,774.3 L708.5,774.1 L709.5,774.1 L710.5,774.3 L711.5,774.5 L712.5,774.3 L713.5,774.5 L714.5,774.3 L715.5,774.4 L716.5,774.5 L717.5,774.3 L718.5,774.2 L719.4,774.4 L720.4,774.6 L721.4,774.3 L722.4,774.2 L723.4,774.4 L724.4,774.3 L725.4,774.4 L726.4,774.2 L727.4,774.3 L728.4,774.0 L729.4,774.0 L730.4,774.1 L731.4,774.4 L732.3,774.5 L733.3,773.9 L734.3,774.1 L735.3,774.4 L736.3,774.1 L737.3,774.2 L738.3,774.0 L739.3,774.1 L740.3,774.3 L741.3,774.1 L742.3,774.5 L743.3,773.9 L744.3,774.3 L745.2,774.3 L746.2,774.6 L747.2,774.3 L748.2,774.3 L749.2,774.0 L750.2,774.4 L751.2,774.4 L752.2,774.1 L753.2,774.4 L754.2,774.1 L755.2,774.3 L756.3,774.3 L757.3,774.2 L758.3,774.5 L759.3,774.3 L760.3,774.3" fill="none" stroke="#008000" stroke-width="1.0" shape-rendering="crispEdges" stroke-linejoin="round"/>
<g shape-rendering="crispEdges" fill="none">
<rect x="280.5" y="861.5" width="80" height="15" stroke="#00a000"/>
<rect x="365.5" y="861.5" width="70" height="15" stroke="#0000a0"/>
<rect x="440.5" y="861.5" width="80" height="15" stroke="#00a000"/>
<rect x="664.5" y="861.5" width="70" height="15" stroke="#a0a000"/>
<path d="M678.5,862 V876 M692.5,862 V876 M706.5,862 V876 M720.5,862 V876" stroke="#a0a000"/>
<rect x="800.5" y="861.5" width="50" height="15" stroke="#a00000"/>
</g>
<text class="mm" x="290" y="873" fill="#00a000" textLength="67.0" lengthAdjust="spacingAndGlyphs">&lt;- Prev. day</text>
<text class="mm" x="375" y="873" fill="#0000a0" textLength="49.0" lengthAdjust="spacingAndGlyphs">To MENU</text>
<text class="mm" x="449" y="873" fill="#00a000" textLength="65.0" lengthAdjust="spacingAndGlyphs">Next day -&gt;</text>
<text class="mm" x="668.5" y="873" fill="#000" textLength="6.0" lengthAdjust="spacingAndGlyphs">D</text>
<text class="mm" x="682.5" y="873" fill="#000" textLength="6.0" lengthAdjust="spacingAndGlyphs">H</text>
<text class="mm" x="696.5" y="873" fill="#000" textLength="6.0" lengthAdjust="spacingAndGlyphs">Z</text>
<text class="mm" x="710.5" y="873" fill="#000" textLength="6.0" lengthAdjust="spacingAndGlyphs">I</text>
<text class="mm" x="724.5" y="873" fill="#000" textLength="6.0" lengthAdjust="spacingAndGlyphs">F</text>
<text class="mm" x="805" y="873" fill="#a00000" textLength="43.0" lengthAdjust="spacingAndGlyphs">Realtime</text>
<text class="mm" x="300" y="827" fill="#bdbdbd" textLength="250" lengthAdjust="spacingAndGlyphs">Tromso Geophysical Observatory - DTU Space</text>
<svg x="860" y="0" width="540" height="880" viewBox="860 0 540 880">
<rect x="860" y="0" width="540" height="880" fill="#37526f"/>
<path d="M1022.5,717.5 L1018.8,715.0 L1013.8,711.2 L1009.4,706.2 L1008.8,700.0 L1005.0,692.5 L1001.9,685.0 L1000.6,677.5 L1002.5,670.0 L1003.8,665.0 L1002.5,658.8 L1001.9,652.5 L1003.8,645.0 L1002.5,640.0 L1002.5,643.8 L1002.5,637.5 L1005.0,631.2 L1008.8,627.5 L1013.8,623.8 L1017.5,620.0 L1021.2,616.2 L1025.0,613.8 L1031.2,610.0 L1036.2,607.5 L1040.0,603.8 L1043.8,600.0 L1046.2,598.8 L1051.2,595.0 L1053.8,591.2 L1058.1,585.0 L1062.5,578.8 L1067.5,573.8 L1072.5,568.8 L1076.2,560.0 L1080.0,547.5 L1085.0,540.0 L1086.2,530.0 L1090.0,520.0 L1095.0,510.0 L1100.0,503.8 L1105.0,497.5 L1107.5,490.0 L1110.0,482.5 L1115.0,475.0 L1122.5,467.5 L1127.5,460.0 L1132.5,452.5 L1135.0,444.5 L1142.5,441.2 L1150.0,437.5 L1160.0,433.8 L1167.5,427.5 L1173.4,427.0 L1181.4,426.4 L1189.4,423.0 L1196.3,418.4 L1200.9,412.7 L1205.4,404.7 L1210.0,399.0 L1214.6,394.4 L1221.4,391.0 L1229.4,393.9 L1235.1,393.3 L1239.7,392.1 L1244.3,392.7 L1248.9,395.0 L1249.4,399.6 L1252.9,399.0 L1256.9,399.6 L1262.6,402.4 L1268.3,405.9 L1274.0,410.4 L1276.9,416.1 L1272.9,419.6 L1264.9,420.7 L1256.9,421.9 L1261.4,425.3 L1264.9,431.0 L1272.9,432.1 L1282.0,434.4 L1290.0,437.3 L1300.0,442.5 L1310.0,446.2 L1320.0,448.8 L1325.0,448.8 L1335.0,455.0 L1345.0,462.5 L1355.0,472.5 L1362.5,477.5 L1370.0,481.2 L1377.5,487.5 L1382.5,492.5 L1383.8,497.5 L1386.2,507.5 L1385.0,516.2 L1400.0,525.0 L1400.0,880.0 L931.2,879.9 L932.3,867.0 L936.6,868.1 L938.8,873.5 L946.3,874.5 L952.8,870.2 L960.4,865.9 L966.8,860.5 L969.0,854.0 L972.2,847.6 L980.0,843.2 L982.8,841.9 L991.0,836.5 L996.4,828.3 L999.1,820.1 L1000.5,811.9 L1007.3,806.4 L1018.2,803.7 L1029.2,801.0 L1016.8,803.0 L1021.4,801.2 L1025.9,800.7 L1030.5,800.7 L1036.1,801.2 L1038.4,798.4 L1037.8,788.2 L1037.3,774.5 L1036.4,757.5 L1036.7,748.4 L1037.3,742.7 L1039.5,739.3 L1043.0,737.0 L1047.5,735.9 L1050.9,732.5 L1054.3,729.1 L1057.7,726.8 L1061.7,724.5 Z" fill="#527ca6"/>
<path d="M897.8,708.4 L905.3,707.3 L914.0,706.2 L918.3,707.3 L917.2,711.6 L912.9,715.9 L910.7,720.2 L909.6,724.5 L916.1,724.5 L924.8,725.2 L931.2,726.7 L930.1,733.2 L928.0,739.6 L923.7,746.1 L920.4,750.4 L921.5,753.7 L916.1,755.8 L922.6,758.0 L926.9,760.1 L931.2,764.5 L934.5,770.9 L936.6,778.5 L940.9,782.8 L945.3,786.0 L948.5,791.5 L950.6,797.9 L952.8,804.4 L952.8,810.9 L956.0,814.1 L963.6,815.2 L967.9,819.5 L967.9,826.0 L964.7,832.5 L961.5,836.8 L963.6,838.9 L965.8,843.2 L961.5,846.5 L952.8,848.6 L946.3,849.7 L935.5,850.8 L929.1,851.5 L922.6,853.0 L916.1,854.0 L909.6,856.2 L903.2,858.4 L896.7,860.5 L892.4,861.6 L894.5,858.4 L901.0,854.0 L906.4,849.7 L911.8,845.4 L916.1,841.1 L922.6,836.8 L914.0,838.9 L907.5,836.8 L902.1,834.6 L896.7,833.5 L895.6,830.3 L899.9,828.1 L903.2,823.8 L906.4,819.5 L905.3,816.3 L903.2,813.0 L905.3,809.8 L909.6,807.6 L915.0,806.6 L918.3,803.3 L917.2,797.9 L916.1,791.5 L915.0,787.1 L913.5,780.6 L915.0,777.4 L909.6,778.5 L906.4,780.6 L902.1,781.7 L897.8,780.6 L896.7,776.3 L898.9,769.9 L899.9,764.5 L895.6,762.3 L894.5,756.9 L896.7,752.6 L894.5,748.3 L891.3,744.0 L888.1,739.6 L890.2,735.3 L889.1,728.9 L891.3,722.4 L894.5,715.9 Z M858.9,776.3 L864.3,775.3 L870.8,772.0 L876.2,770.9 L881.6,773.1 L888.1,776.3 L891.3,781.7 L891.3,787.1 L888.1,791.5 L885.9,797.9 L887.0,806.6 L888.1,815.2 L884.8,821.7 L881.6,826.0 L876.2,828.1 L870.8,830.3 L864.3,832.5 L858.9,833.5 Z M1063.0,17.0 L1065.2,15.3 L1067.5,17.0 L1069.2,15.3 L1073.2,14.2 L1076.6,14.8 L1078.9,17.0 L1079.4,14.2 L1082.3,13.6 L1085.7,14.2 L1089.1,12.5 L1092.5,11.9 L1095.3,12.5 L1097.0,14.8 L1096.5,18.2 L1093.6,21.0 L1089.1,22.7 L1085.7,24.4 L1084.5,27.3 L1088.0,28.4 L1091.4,29.5 L1093.1,31.8 L1094.8,35.2 L1096.5,38.6 L1097.6,40.3 L1098.2,34.1 L1098.8,28.4 L1099.9,23.9 L1101.6,20.5 L1103.9,17.0 L1105.6,15.3 L1107.3,18.2 L1109.5,23.9 L1111.8,29.5 L1114.1,36.4 L1116.4,43.2 L1118.1,47.7 L1118.6,43.2 L1118.1,34.1 L1117.5,28.4 L1118.1,20.5 L1118.6,13.6 L1120.3,6.8 L1122.0,2.3 L1123.2,-1.0 L1125.5,-1.0 L1127.7,5.5 L1132.0,7.0 L1137.5,11.0 L1138.7,17.5 L1139.2,22.7 L1138.5,28.4 L1137.4,37.5 L1140.0,33.0 L1143.6,27.3 L1147.0,29.5 L1148.2,37.5 L1148.8,45.5 L1151.0,50.0 L1156.1,51.1 L1159.5,53.4 L1160.7,56.8 L1163.0,53.4 L1167.5,55.7 L1169.2,59.1 L1167.5,63.6 L1170.9,68.2 L1174.9,72.7 L1175.5,76.1 L1172.0,78.4 L1167.5,79.5 L1159.5,81.8 L1156.1,86.4 L1152.0,90.0 L1150.5,91.4 L1151.0,100.5 L1149.3,110.7 L1145.9,113.0 L1144.8,119.8 L1144.2,127.7 L1142.5,134.5 L1139.1,141.4 L1136.8,148.2 L1134.5,153.9 L1132.3,159.5 L1131.1,166.4 L1130.0,173.2 L1128.9,180.0 L1127.0,182.0 L1124.0,181.0 L1122.0,180.0 L1118.6,173.2 L1115.2,166.4 L1111.8,160.7 L1108.4,156.1 L1105.0,151.6 L1101.6,147.0 L1098.8,141.4 L1098.2,136.8 L1100.5,134.5 L1105.0,135.7 L1106.1,131.1 L1110.7,128.9 L1117.5,125.5 L1123.2,124.3 L1128.9,123.2 L1128.9,119.2 L1123.2,120.3 L1116.4,120.9 L1111.8,122.6 L1107.3,124.3 L1102.7,125.5 L1098.2,124.9 L1095.9,122.0 L1094.8,117.5 L1094.8,113.0 L1094.8,110.7 L1098.2,109.5 L1102.7,108.4 L1108.4,105.6 L1113.0,103.3 L1117.5,102.2 L1122.0,99.0 L1125.5,95.9 L1128.9,94.2 L1126.0,92.0 L1117.0,91.0 L1110.0,88.0 L1106.0,80.0 L1103.0,77.0 L1103.9,85.7 L1104.4,91.4 L1103.3,95.9 L1099.9,99.9 L1094.8,101.4 L1089.1,100.5 L1085.7,97.0 L1082.3,91.4 L1080.0,86.8 L1078.9,85.2 L1076.6,79.5 L1074.9,73.9 L1074.3,68.2 L1073.2,65.9 L1070.9,63.6 L1072.0,61.4 L1070.9,56.8 L1069.2,52.3 L1067.5,47.7 L1066.4,43.2 L1065.2,36.4 L1064.1,29.5 L1063.5,22.7 Z M1061.2,67.5 L1065.0,66.2 L1068.8,72.5 L1072.5,82.5 L1075.0,90.0 L1077.5,98.8 L1076.2,102.5 L1072.5,97.5 L1067.5,87.5 L1063.8,77.5 L1061.2,71.2 Z M1143.6,-1.0 L1142.5,6.8 L1144.8,13.6 L1149.3,18.2 L1153.9,18.8 L1159.5,17.0 L1164.1,17.0 L1168.6,18.8 L1167.5,21.6 L1164.1,23.9 L1159.5,25.0 L1158.4,27.3 L1160.7,31.8 L1166.4,35.2 L1170.9,37.5 L1177.7,39.2 L1184.5,39.2 L1189.7,38.6 L1190.2,42.0 L1191.4,46.6 L1195.9,48.9 L1202.7,49.4 L1207.3,45.5 L1211.8,42.0 L1216.4,41.5 L1219.8,38.6 L1222.0,35.2 L1223.2,29.5 L1225.5,23.9 L1230.0,18.2 L1234.5,12.5 L1236.8,9.1 L1237.4,-1.0 Z M1165.0,86.2 L1175.0,83.8 L1182.5,85.0 L1185.0,95.0 L1186.2,101.2 L1193.8,102.5 L1196.2,107.5 L1195.0,112.5 L1200.0,118.8 L1207.5,120.0 L1212.5,125.0 L1207.5,128.8 L1202.5,132.5 L1200.0,136.2 L1195.0,140.0 L1191.2,145.0 L1188.8,150.0 L1186.2,147.5 L1187.5,140.0 L1180.0,138.8 L1172.5,140.0 L1170.0,136.2 L1173.8,130.0 L1175.0,120.0 L1170.0,113.8 L1167.5,105.0 L1166.2,96.2 Z M1228.8,72.5 L1230.5,71.2 L1232.5,75.0 L1235.0,78.8 L1233.0,80.0 L1230.0,76.2 Z M1245.0,67.5 L1250.0,63.8 L1255.0,65.0 L1260.0,65.5 L1263.0,67.0 L1258.8,68.8 L1253.8,68.0 L1248.8,70.0 Z M1149.0,270.0 L1152.5,270.5 L1152.0,275.5 L1150.0,273.0 Z M860.0,392.7 L866.8,388.8 L866.2,393.9 L860.0,396.1 Z M876.2,715.9 L881.6,710.5 L884.8,709.4 L883.7,714.8 L880.5,719.1 L877.3,722.4 L875.1,720.2 Z M880.5,728.9 L885.9,727.8 L889.1,733.2 L885.9,739.6 L882.7,736.4 Z M915.0,696.5 L918.3,693.2 L922.6,692.6 L924.8,694.3 L921.5,698.6 L918.3,703.0 L915.7,701.9 Z M901.0,788.2 L904.2,786.7 L905.3,790.4 L902.1,793.2 Z M933.7,667.3 L937.8,663.2 L941.9,660.5 L940.5,667.3 L939.1,672.7 L937.8,680.9 L935.9,675.5 Z M872.0,632.0 L875.0,628.5 L879.0,627.5 L882.5,629.0 L880.5,633.0 L879.0,637.0 L876.5,636.0 L873.0,634.5 Z M877.5,638.5 L879.5,639.0 L880.5,642.5 L878.5,642.0 Z M877.0,644.0 L878.5,644.5 L879.5,647.5 L877.5,647.0 Z M1102.0,464.0 L1104.0,460.0 L1107.5,457.0 L1110.0,456.0 L1112.5,459.0 L1111.0,464.0 L1108.0,467.0 L1104.0,467.5 Z M1113.0,458.0 L1116.0,452.0 L1119.0,447.5 L1120.5,448.5 L1118.0,455.0 L1117.0,462.0 L1120.0,460.5 L1123.0,461.0 L1122.5,466.0 L1119.0,472.0 L1116.0,478.0 L1113.0,479.0 L1113.5,470.0 Z M1128.0,452.5 L1130.0,446.0 L1133.0,441.5 L1136.0,439.0 L1139.0,440.0 L1140.4,444.0 L1140.0,449.0 L1136.0,451.0 L1131.0,454.0 Z M1141.0,438.5 L1143.0,434.0 L1147.0,432.0 L1150.0,433.0 L1149.0,437.0 L1145.0,439.5 Z" fill="#527ca6"/>
<path d="M1061.7,724.5 L1045.0,730.0 L1020.0,724.0 L1022.5,717.5 L1027.5,718.8 L1033.8,717.5 L1040.0,713.8 L1045.0,708.8 L1050.0,702.5 L1055.0,698.8 L1058.8,696.2 L1061.2,690.0 L1061.9,686.2 L1063.8,692.5 L1066.2,696.2 L1068.1,702.5 L1070.0,710.0 L1071.2,715.0 L1073.1,720.0 L1076.2,727.5 L1078.8,733.8 L1081.2,740.0 L1083.8,746.2 L1085.0,750.0 L1082.7,756.4 L1081.6,760.9 L1085.0,765.5 L1089.5,768.9 L1092.5,768.8 L1100.0,766.2 L1101.9,761.2 L1105.0,758.1 L1110.0,755.6 L1117.5,755.0 L1121.2,752.5 L1123.8,748.8 L1124.4,740.0 L1125.0,733.8 L1125.6,725.0 L1126.2,715.0 L1127.5,708.8 L1123.8,706.2 L1130.0,705.0 L1135.0,702.5 L1140.0,698.8 L1143.8,696.2 L1145.0,692.5 L1147.5,690.0 L1147.8,685.5 L1145.0,680.1 L1146.4,674.6 L1140.9,669.2 L1135.5,661.0 L1132.8,650.1 L1131.4,639.1 L1132.8,625.5 L1138.2,617.3 L1143.7,610.5 L1151.9,603.7 L1160.0,598.2 L1166.9,591.4 L1171.0,584.6 L1175.0,576.4 L1165.0,592.5 L1170.0,585.0 L1176.2,575.0 L1175.0,565.0 L1177.5,555.0 L1182.5,550.0 L1186.2,543.8 L1192.5,545.0 L1208.8,543.8 L1215.0,550.0 L1217.5,562.5 L1213.8,566.2 L1208.8,567.5 L1202.5,577.5 L1192.5,590.0 L1185.0,601.2 L1177.5,606.2 L1173.8,612.5 L1172.5,622.5 L1175.0,635.0 L1176.2,645.0 L1175.0,657.5 L1177.5,667.5 L1182.5,670.0 L1187.5,672.5 L1193.8,680.0 L1202.5,678.8 L1217.5,673.8 L1225.0,670.0 L1235.0,668.0 L1245.0,666.2 L1251.2,665.0 L1255.0,670.0 L1260.0,675.0 L1267.5,680.0 L1260.0,680.0 L1252.5,681.2 L1247.5,683.8 L1242.5,688.8 L1235.0,690.0 L1230.0,687.5 L1222.5,686.2 L1215.0,687.5 L1205.0,690.0 L1200.0,692.5 L1197.5,697.5 L1197.5,702.5 L1200.0,707.5 L1207.5,712.5 L1207.5,725.0 L1206.2,735.0 L1201.2,738.8 L1196.2,735.0 L1192.5,727.5 L1187.5,722.5 L1182.5,720.0 L1178.8,725.0 L1177.5,727.5 L1175.0,732.5 L1173.1,740.0 L1172.5,747.5 L1172.5,756.2 L1173.1,765.0 L1173.8,776.2 L1170.0,777.5 L1161.2,777.5 L1158.8,782.5 L1155.0,786.9 L1150.0,786.2 L1146.2,782.5 L1140.0,780.0 L1132.5,781.2 L1127.5,782.5 L1121.2,786.2 L1115.0,788.8 L1108.8,791.2 L1102.5,793.8 L1097.5,795.0 L1092.5,796.2 L1098.6,797.8 L1089.5,796.1 L1078.2,795.0 L1066.8,792.7 L1057.7,788.2 L1060.0,783.6 L1062.3,780.2 L1058.9,778.0 L1055.5,775.7 L1053.2,771.1 L1054.3,766.6 L1057.7,762.0 L1060.0,757.5 L1063.4,754.1 L1064.5,749.5 L1061.1,748.4 L1059.4,742.7 L1060.0,737.0 L1061.1,730.2 Z M1287.5,508.0 L1292.5,510.0 L1297.5,515.0 L1305.0,518.8 L1312.5,521.2 L1317.5,523.8 L1325.0,527.5 L1335.0,531.2 L1345.0,535.0 L1355.0,536.2 L1365.0,533.8 L1372.5,530.0 L1380.0,523.8 L1385.0,516.2 L1400.0,522.5 L1400.0,525.0 L1396.2,526.2 L1390.0,532.5 L1382.5,538.8 L1375.0,542.5 L1370.0,547.5 L1370.0,552.5 L1373.8,562.5 L1376.2,568.8 L1370.0,572.5 L1365.0,570.0 L1355.0,565.0 L1345.0,560.0 L1340.0,558.8 L1336.2,562.5 L1335.0,567.5 L1340.0,575.0 L1346.2,580.0 L1350.0,583.8 L1350.0,588.8 L1345.0,592.5 L1335.0,588.8 L1327.5,583.8 L1321.2,578.8 L1318.8,572.5 L1316.2,562.5 L1313.8,555.0 L1316.2,548.8 L1312.5,540.0 L1306.2,531.2 L1300.0,523.8 L1293.8,516.2 Z M1121.3,687.2 L1127.3,687.2 L1132.8,686.4 L1140.9,685.5 L1146.9,685.0 L1146.9,689.4 L1140.9,689.9 L1132.8,690.7 L1127.3,691.3 L1122.4,690.5 Z M1218.6,393.9 L1225.4,394.4 L1222.8,401.3 L1220.1,409.3 L1217.1,416.1 L1215.3,421.6 L1213.8,420.1 L1214.8,412.7 L1216.4,404.7 L1217.5,398.4 Z M1230.6,396.7 L1236.9,397.3 L1235.4,404.7 L1233.1,411.6 L1231.0,413.3 L1231.0,404.7 Z M1245.7,400.7 L1250.0,401.9 L1248.9,409.3 L1247.9,416.4 L1246.3,414.4 L1246.0,407.0 Z" fill="#37526f"/>
<path d="M1067.4,754.1 L1073.6,752.4 L1078.2,753.5 L1081.0,757.5 L1080.5,763.2 L1079.3,767.7 L1075.9,770.0 L1071.4,771.1 L1068.0,767.7 L1065.7,764.3 L1064.5,759.8 Z M1054.9,767.2 L1060.0,766.0 L1063.4,767.7 L1063.4,772.3 L1060.0,774.0 L1055.5,773.4 L1053.8,770.6 Z M1066.8,777.4 L1073.6,776.8 L1080.5,776.2 L1081.0,779.1 L1075.9,781.4 L1069.1,781.4 Z M1105.5,771.7 L1108.9,772.3 L1110.0,774.5 L1107.7,775.9 L1105.5,774.5 Z M1153.8,719.4 L1150.0,722.5 L1146.2,722.8 L1142.2,727.5 L1141.2,733.8 L1142.5,739.4 L1146.2,735.0 L1150.0,727.5 Z M1130.6,731.9 L1129.4,737.5 L1126.2,745.0 L1123.8,752.5 L1123.1,750.0 L1125.6,742.5 L1128.1,735.0 Z M1182.5,703.8 L1186.2,700.0 L1190.0,698.8 L1192.5,702.5 L1196.2,706.2 L1195.0,710.0 L1190.0,712.5 L1186.2,715.0 L1183.8,720.0 L1181.9,715.0 L1181.2,708.8 Z M1187.5,697.5 L1190.0,697.5 L1192.5,700.0 L1190.0,701.9 L1187.5,700.6 Z M1156.0,671.9 L1161.4,670.5 L1164.1,674.6 L1158.7,677.4 Z" fill="#527ca6"/>
<path d="M1003.5,636.6 L1012,637.2 L1020,638.3" fill="none" stroke="#37526f" stroke-width="1.1" stroke-linecap="round"/>
<path d="M1003,654.8 L1009.8,654.2 L1017.7,653 L1024.5,653 L1029.1,652" fill="none" stroke="#37526f" stroke-width="1.2" stroke-linecap="round"/>
<path d="M1022.5,617.8 L1029.1,618.4 L1033.6,617.8" fill="none" stroke="#37526f" stroke-width="1.0" stroke-linecap="round"/>
<path d="M1015.5,669.5 L1023.4,668.4" fill="none" stroke="#37526f" stroke-width="1.0" stroke-linecap="round"/>
<path d="M1051.25,597 L1056.25,600.5 L1061.25,599.5 L1065,595 L1069.4,589.5" fill="none" stroke="#37526f" stroke-width="1.4" stroke-linecap="round"/>
<path d="M1079,66.2 L1070.60,53.60 A10.1,10.1 0 1 1 1087.40,53.60 Z M1075.0,48 a4.0,4.0 0 1 0 8.0,0 a4.0,4.0 0 1 0 -8.0,0 Z" fill="#fff" fill-rule="evenodd"/>
<text class="lb" x="1098" y="59.7">nal</text>
<path d="M1117,103.2 L1108.60,90.60 A10.1,10.1 0 1 1 1125.40,90.60 Z M1113.0,85 a4.0,4.0 0 1 0 8.0,0 a4.0,4.0 0 1 0 -8.0,0 Z" fill="#fff" fill-rule="evenodd"/>
<text class="lb" x="1136" y="96.7">lyr</text>
<path d="M1217,183.2 L1208.60,170.60 A10.1,10.1 0 1 1 1225.40,170.60 Z M1213.0,165 a4.0,4.0 0 1 0 8.0,0 a4.0,4.0 0 1 0 -8.0,0 Z" fill="#fff" fill-rule="evenodd"/>
<text class="lb" x="1236" y="176.7">hop</text>
<path d="M1153,272.2 L1144.60,259.60 A10.1,10.1 0 1 1 1161.40,259.60 Z M1149.0,254 a4.0,4.0 0 1 0 8.0,0 a4.0,4.0 0 1 0 -8.0,0 Z" fill="#fff" fill-rule="evenodd"/>
<text class="lb" x="1172" y="265.7">bjn</text>
<path d="M1223,390.2 L1214.60,377.60 A10.1,10.1 0 1 1 1231.40,377.60 Z M1219.0,372 a4.0,4.0 0 1 0 8.0,0 a4.0,4.0 0 1 0 -8.0,0 Z" fill="#fff" fill-rule="evenodd"/>
<text class="lb" x="1242" y="383.7">nor</text>
<path d="M1191,408.2 L1182.60,395.60 A10.1,10.1 0 1 1 1199.40,395.60 Z M1187.0,390 a4.0,4.0 0 1 0 8.0,0 a4.0,4.0 0 1 0 -8.0,0 Z" fill="#fff" fill-rule="evenodd"/>
<text class="lb" x="1210" y="401.7">sor</text>
<path d="M1153,437.2 L1144.60,424.60 A10.1,10.1 0 1 1 1161.40,424.60 Z M1149.0,419 a4.0,4.0 0 1 0 8.0,0 a4.0,4.0 0 1 0 -8.0,0 Z" fill="#fff" fill-rule="evenodd"/>
<text class="lb" x="1172" y="430.7">tro</text>
<path d="M1166,490.7 L1157.60,478.10 A10.1,10.1 0 1 1 1174.40,478.10 Z M1162.0,472.5 a4.0,4.0 0 1 0 8.0,0 a4.0,4.0 0 1 0 -8.0,0 Z" fill="#fff" fill-rule="evenodd"/>
<text class="lb" x="1185" y="484.2">kir</text>
<path d="M1085,489.2 L1076.60,476.60 A10.1,10.1 0 1 1 1093.40,476.60 Z M1081.0,471 a4.0,4.0 0 1 0 8.0,0 a4.0,4.0 0 1 0 -8.0,0 Z" fill="#fff" fill-rule="evenodd"/>
<text class="lb" x="1104" y="482.7">rst</text>
<path d="M1084,535.2 L1075.60,522.60 A10.1,10.1 0 1 1 1092.40,522.60 Z M1080.0,517 a4.0,4.0 0 1 0 8.0,0 a4.0,4.0 0 1 0 -8.0,0 Z" fill="#fff" fill-rule="evenodd"/>
<text class="lb" x="1103" y="528.7">don</text>
<path d="M1071,569.2 L1062.60,556.60 A10.1,10.1 0 1 1 1079.40,556.60 Z M1067.0,551 a4.0,4.0 0 1 0 8.0,0 a4.0,4.0 0 1 0 -8.0,0 Z" fill="#fff" fill-rule="evenodd"/>
<text class="lb" x="1090" y="562.7">rvk</text>
<path d="M1049.5,635.2 L1041.10,622.60 A10.1,10.1 0 1 1 1057.90,622.60 Z M1045.5,617 a4.0,4.0 0 1 0 8.0,0 a4.0,4.0 0 1 0 -8.0,0 Z" fill="#fff" fill-rule="evenodd"/>
<text class="lb" x="1068.5" y="628.7">dob</text>
<path d="M1065,676.2 L1056.60,663.60 A10.1,10.1 0 1 1 1073.40,663.60 Z M1061.0,658 a4.0,4.0 0 1 0 8.0,0 a4.0,4.0 0 1 0 -8.0,0 Z" fill="#fff" fill-rule="evenodd"/>
<text class="lb" x="1084" y="669.7">har</text>
<path d="M1008,695.2 L999.60,682.60 A10.1,10.1 0 1 1 1016.40,682.60 Z M1004.0,677 a4.0,4.0 0 1 0 8.0,0 a4.0,4.0 0 1 0 -8.0,0 Z" fill="#fff" fill-rule="evenodd"/>
<text class="lb" x="1027" y="688.7">kar</text>
<path d="M1097,757.2 L1088.60,744.60 A10.1,10.1 0 1 1 1105.40,744.60 Z M1093.0,739 a4.0,4.0 0 1 0 8.0,0 a4.0,4.0 0 1 0 -8.0,0 Z" fill="#fff" fill-rule="evenodd"/>
<text class="lb" x="1116" y="750.7">top</text>
<path d="M1042,776.2 L1033.60,763.60 A10.1,10.1 0 1 1 1050.40,763.60 Z M1038.0,758 a4.0,4.0 0 1 0 8.0,0 a4.0,4.0 0 1 0 -8.0,0 Z" fill="#fff" fill-rule="evenodd"/>
<text class="lb" x="1061" y="769.7">roe</text>
<path d="M1048,801.2 L1039.60,788.60 A10.1,10.1 0 1 1 1056.40,788.60 Z M1044.0,783 a4.0,4.0 0 1 0 8.0,0 a4.0,4.0 0 1 0 -8.0,0 Z" fill="#fff" fill-rule="evenodd"/>
<text class="lb" x="1067" y="794.7">wng</text>
<path d="M1086,830.2 L1077.60,817.60 A10.1,10.1 0 1 1 1094.40,817.60 Z M1082.0,812 a4.0,4.0 0 1 0 8.0,0 a4.0,4.0 0 1 0 -8.0,0 Z" fill="#fff" fill-rule="evenodd"/>
<text class="lb" x="1105" y="823.7">ngk</text>
</svg>
</svg></body></html>
